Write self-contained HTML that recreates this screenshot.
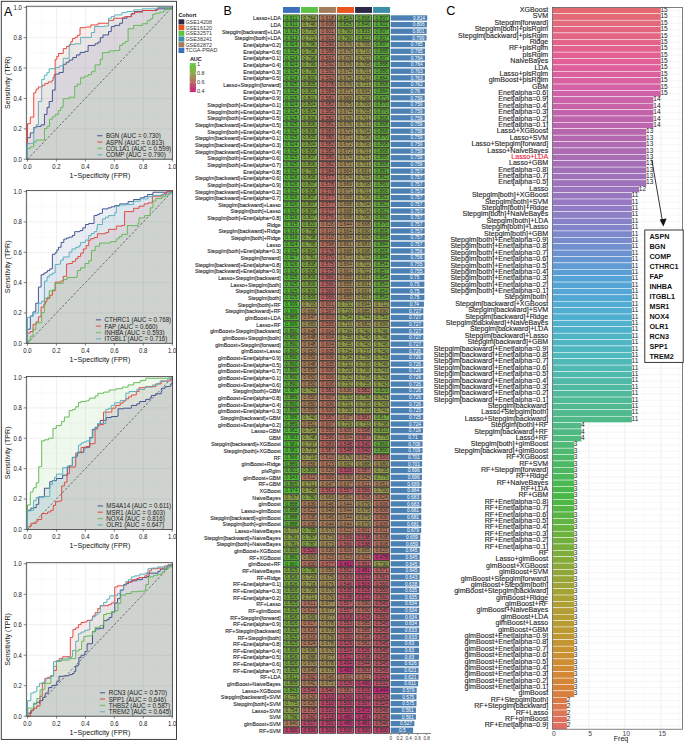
<!DOCTYPE html>
<html><head><meta charset="utf-8"><style>
html,body{margin:0;padding:0;background:#fff;}
svg{display:block;font-family:"Liberation Sans",sans-serif;}
</style></head><body>
<svg width="685" height="744" viewBox="0 0 685 744">
<rect width="685" height="744" fill="#fff"/>
<rect x="1.3" y="1.3" width="175.2" height="738.1" fill="none" stroke="#2b2b2b" stroke-width="0.9"/>
<text x="3.90" y="15.50" font-size="12.4" text-anchor="start" fill="#000" >A</text>
<rect x="26.3" y="6.2" width="146.30" height="153.00" fill="#fff"/>
<line x1="41.97" y1="6.2" x2="41.97" y2="159.2" stroke="#f3f3f3" stroke-width="0.4"/>
<line x1="26.3" y1="144.01" x2="172.6" y2="144.01" stroke="#f3f3f3" stroke-width="0.4"/>
<line x1="70.91" y1="6.2" x2="70.91" y2="159.2" stroke="#f3f3f3" stroke-width="0.4"/>
<line x1="26.3" y1="113.63" x2="172.6" y2="113.63" stroke="#f3f3f3" stroke-width="0.4"/>
<line x1="99.85" y1="6.2" x2="99.85" y2="159.2" stroke="#f3f3f3" stroke-width="0.4"/>
<line x1="26.3" y1="83.25" x2="172.6" y2="83.25" stroke="#f3f3f3" stroke-width="0.4"/>
<line x1="128.79" y1="6.2" x2="128.79" y2="159.2" stroke="#f3f3f3" stroke-width="0.4"/>
<line x1="26.3" y1="52.87" x2="172.6" y2="52.87" stroke="#f3f3f3" stroke-width="0.4"/>
<line x1="157.73" y1="6.2" x2="157.73" y2="159.2" stroke="#f3f3f3" stroke-width="0.4"/>
<line x1="26.3" y1="22.49" x2="172.6" y2="22.49" stroke="#f3f3f3" stroke-width="0.4"/>
<line x1="27.50" y1="6.2" x2="27.50" y2="159.2" stroke="#e6e6e6" stroke-width="0.6"/>
<line x1="26.3" y1="159.20" x2="172.6" y2="159.20" stroke="#e6e6e6" stroke-width="0.6"/>
<line x1="56.44" y1="6.2" x2="56.44" y2="159.2" stroke="#e6e6e6" stroke-width="0.6"/>
<line x1="26.3" y1="128.82" x2="172.6" y2="128.82" stroke="#e6e6e6" stroke-width="0.6"/>
<line x1="85.38" y1="6.2" x2="85.38" y2="159.2" stroke="#e6e6e6" stroke-width="0.6"/>
<line x1="26.3" y1="98.44" x2="172.6" y2="98.44" stroke="#e6e6e6" stroke-width="0.6"/>
<line x1="114.32" y1="6.2" x2="114.32" y2="159.2" stroke="#e6e6e6" stroke-width="0.6"/>
<line x1="26.3" y1="68.06" x2="172.6" y2="68.06" stroke="#e6e6e6" stroke-width="0.6"/>
<line x1="143.26" y1="6.2" x2="143.26" y2="159.2" stroke="#e6e6e6" stroke-width="0.6"/>
<line x1="26.3" y1="37.68" x2="172.6" y2="37.68" stroke="#e6e6e6" stroke-width="0.6"/>
<line x1="172.20" y1="6.2" x2="172.20" y2="159.2" stroke="#e6e6e6" stroke-width="0.6"/>
<line x1="26.3" y1="7.30" x2="172.6" y2="7.30" stroke="#e6e6e6" stroke-width="0.6"/>
<path d="M27.50,159.20 L27.50,159.20 L27.50,137.63 L30.32,137.63 L30.32,137.63 L30.32,137.63 L30.32,132.92 L33.72,132.92 L33.72,132.92 L33.72,132.92 L33.72,127.45 L36.18,127.45 L36.18,126.39 L38.42,126.39 L38.42,126.39 L41.10,126.39 L41.10,124.87 L44.43,124.87 L44.43,124.87 L44.43,124.87 L44.43,114.39 L47.03,114.39 L47.03,114.39 L47.03,114.39 L47.03,107.46 L49.20,107.46 L49.20,107.46 L49.20,107.46 L49.20,101.48 L52.39,101.48 L52.39,101.48 L52.39,101.48 L52.39,90.09 L55.14,90.09 L55.14,90.09 L55.14,90.09 L55.14,74.06 L59.19,74.06 L59.19,72.43 L63.24,72.43 L63.24,70.79 L63.24,70.79 L63.24,64.26 L66.21,64.26 L66.21,62.14 L69.17,62.14 L69.17,60.01 L72.79,60.01 L72.79,57.48 L76.41,57.48 L76.41,54.95 L80.03,54.95 L80.03,52.41 L84.95,52.41 L84.95,51.35 L88.13,51.35 L88.13,49.22 L88.13,49.22 L88.13,45.43 L95.07,45.43 L95.07,43.76 L97.97,43.76 L97.97,42.09 L100.28,42.09 L100.28,42.09 L100.28,42.09 L100.28,37.68 L103.03,37.68 L103.03,34.95 L108.53,34.95 L108.53,34.95 L108.53,34.95 L108.53,31.60 L111.28,31.60 L111.28,31.60 L111.28,31.60 L111.28,26.59 L114.75,26.59 L114.75,25.38 L119.67,25.38 L119.67,23.25 L122.42,23.25 L122.42,23.25 L122.42,23.25 L122.42,18.24 L126.91,18.24 L126.91,16.57 L131.25,16.57 L131.25,13.83 L134.58,13.83 L134.58,11.55 L142.39,11.55 L142.39,10.49 L156.86,10.49 L156.86,8.82 L172.20,8.82 L172.20,7.30 L172.20,159.20 Z" fill="#3b4f8f" fill-opacity="0.1" stroke="none"/>
<path d="M27.50,159.20 L27.50,159.20 L27.50,123.66 L30.32,123.66 L30.32,123.66 L30.32,123.66 L30.32,117.12 L33.72,117.12 L33.72,117.12 L33.72,117.12 L33.72,92.82 L35.75,92.82 L35.75,91.15 L36.18,91.15 L36.18,89.02 L38.42,89.02 L38.42,86.90 L40.52,86.90 L40.52,86.90 L42.26,86.90 L42.26,85.22 L44.86,85.22 L44.86,83.55 L48.19,83.55 L48.19,81.88 L51.95,81.88 L51.95,80.52 L53.02,80.52 L53.02,77.63 L54.08,77.63 L54.08,74.74 L55.14,74.74 L55.14,71.86 L55.14,71.86 L55.14,59.40 L56.77,59.40 L56.77,56.44 L58.41,56.44 L58.41,53.48 L63.24,53.48 L63.24,48.62 L66.51,48.62 L66.51,46.49 L69.17,46.49 L69.17,44.90 L70.81,44.90 L70.81,41.67 L72.44,41.67 L72.44,38.44 L75.11,38.44 L75.11,37.38 L77.28,37.38 L77.28,35.25 L80.03,35.25 L80.03,27.65 L85.38,27.65 L85.38,27.05 L90.82,27.05 L90.82,24.92 L97.97,24.92 L97.97,23.25 L108.53,23.25 L108.53,20.36 L113.60,20.36 L113.60,18.24 L122.42,18.24 L122.42,17.63 L124.59,17.63 L124.59,16.57 L131.25,16.57 L131.25,13.83 L134.58,13.83 L134.58,12.16 L142.39,12.16 L142.39,10.49 L155.70,10.49 L155.70,9.27 L158.45,9.27 L158.45,7.60 L172.20,7.60 L172.20,7.30 L172.20,159.20 Z" fill="#e2443a" fill-opacity="0.1" stroke="none"/>
<path d="M27.50,159.20 L27.50,159.20 L27.50,148.42 L30.32,148.42 L30.32,146.90 L33.72,146.90 L33.72,146.90 L33.72,146.90 L33.72,142.04 L36.18,142.04 L36.18,140.06 L44.43,140.06 L44.43,140.06 L44.43,140.06 L44.43,128.52 L47.03,128.52 L47.03,126.39 L49.49,126.39 L49.49,126.39 L49.49,126.39 L49.49,119.25 L52.32,119.25 L52.32,116.82 L55.14,116.82 L55.14,114.39 L58.32,114.39 L58.32,110.59 L60.78,110.59 L60.78,107.25 L63.24,107.25 L63.24,103.91 L63.24,103.91 L63.24,98.74 L69.17,98.74 L69.17,97.22 L74.67,97.22 L74.67,95.40 L74.67,95.40 L74.67,86.29 L77.28,86.29 L77.28,84.16 L80.60,84.16 L80.60,81.58 L80.60,81.58 L80.60,77.78 L84.37,77.78 L84.37,76.19 L88.13,76.19 L88.13,74.59 L91.60,74.59 L91.60,71.63 L95.07,71.63 L95.07,68.67 L95.07,68.67 L95.07,64.87 L100.28,64.87 L100.28,64.26 L100.28,64.26 L100.28,59.25 L102.45,59.25 L102.45,59.25 L102.45,59.25 L102.45,52.57 L109.11,52.57 L109.11,50.90 L114.75,50.90 L114.75,50.44 L119.67,50.44 L119.67,50.44 L119.67,50.44 L119.67,45.43 L122.42,45.43 L122.42,43.45 L125.17,43.45 L125.17,41.48 L128.07,41.48 L128.07,41.48 L128.07,41.48 L128.07,28.72 L133.57,28.72 L133.57,28.72 L133.57,28.72 L133.57,25.38 L142.39,25.38 L142.39,23.71 L147.31,23.71 L147.31,23.71 L147.31,23.71 L147.31,20.36 L150.50,20.36 L150.50,18.69 L152.67,18.69 L152.67,18.69 L152.67,18.69 L152.67,14.29 L155.41,14.29 L155.41,13.22 L159.76,13.22 L159.76,12.16 L163.95,12.16 L163.95,9.88 L167.28,9.88 L167.28,8.82 L172.20,8.82 L172.20,7.30 L172.20,159.20 Z" fill="#62b853" fill-opacity="0.1" stroke="none"/>
<path d="M27.50,159.20 L27.50,159.20 L27.50,143.55 L30.50,143.55 L30.50,143.25 L33.74,143.25 L33.74,143.25 L33.74,143.25 L33.74,127.91 L36.18,127.91 L36.18,124.87 L38.42,124.87 L38.42,124.87 L38.42,124.87 L38.42,101.48 L41.67,101.48 L41.67,101.48 L41.67,101.48 L41.67,79.45 L44.33,79.45 L44.33,75.20 L47.03,75.20 L47.03,72.47 L49.20,72.47 L49.20,68.67 L55.14,68.67 L55.14,67.60 L59.19,67.60 L59.19,65.93 L63.24,65.93 L63.24,64.26 L63.24,64.26 L63.24,58.34 L69.17,58.34 L69.17,58.34 L69.17,58.34 L69.17,44.36 L75.11,44.36 L75.11,43.76 L80.60,43.76 L80.60,42.69 L80.60,42.69 L80.60,37.38 L91.36,37.38 L91.36,37.38 L91.36,37.38 L91.36,32.52 L94.60,32.52 L94.60,32.52 L94.60,32.52 L94.60,26.59 L104.63,26.59 L104.63,25.98 L108.53,25.98 L108.53,25.98 L108.53,25.98 L108.53,18.24 L111.28,18.24 L111.28,16.57 L114.75,16.57 L114.75,14.90 L121.84,14.90 L121.84,14.90 L121.84,14.90 L121.84,12.62 L126.91,12.62 L126.91,11.55 L133.57,11.55 L133.57,11.55 L133.57,11.55 L133.57,9.88 L142.39,9.88 L142.39,8.82 L157.73,8.82 L157.73,7.60 L172.20,7.60 L172.20,7.30 L172.20,159.20 Z" fill="#5aaeb9" fill-opacity="0.1" stroke="none"/>
<line x1="27.50" y1="159.20" x2="172.20" y2="7.30" stroke="#4a4a4a" stroke-width="0.75" stroke-dasharray="2.4,1.8"/>
<path d="M27.50,159.20 L27.50,159.20 L27.50,137.63 L30.32,137.63 L30.32,137.63 L30.32,137.63 L30.32,132.92 L33.72,132.92 L33.72,132.92 L33.72,132.92 L33.72,127.45 L36.18,127.45 L36.18,126.39 L38.42,126.39 L38.42,126.39 L41.10,126.39 L41.10,124.87 L44.43,124.87 L44.43,124.87 L44.43,124.87 L44.43,114.39 L47.03,114.39 L47.03,114.39 L47.03,114.39 L47.03,107.46 L49.20,107.46 L49.20,107.46 L49.20,107.46 L49.20,101.48 L52.39,101.48 L52.39,101.48 L52.39,101.48 L52.39,90.09 L55.14,90.09 L55.14,90.09 L55.14,90.09 L55.14,74.06 L59.19,74.06 L59.19,72.43 L63.24,72.43 L63.24,70.79 L63.24,70.79 L63.24,64.26 L66.21,64.26 L66.21,62.14 L69.17,62.14 L69.17,60.01 L72.79,60.01 L72.79,57.48 L76.41,57.48 L76.41,54.95 L80.03,54.95 L80.03,52.41 L84.95,52.41 L84.95,51.35 L88.13,51.35 L88.13,49.22 L88.13,49.22 L88.13,45.43 L95.07,45.43 L95.07,43.76 L97.97,43.76 L97.97,42.09 L100.28,42.09 L100.28,42.09 L100.28,42.09 L100.28,37.68 L103.03,37.68 L103.03,34.95 L108.53,34.95 L108.53,34.95 L108.53,34.95 L108.53,31.60 L111.28,31.60 L111.28,31.60 L111.28,31.60 L111.28,26.59 L114.75,26.59 L114.75,25.38 L119.67,25.38 L119.67,23.25 L122.42,23.25 L122.42,23.25 L122.42,23.25 L122.42,18.24 L126.91,18.24 L126.91,16.57 L131.25,16.57 L131.25,13.83 L134.58,13.83 L134.58,11.55 L142.39,11.55 L142.39,10.49 L156.86,10.49 L156.86,8.82 L172.20,8.82 L172.20,7.30" fill="none" stroke="#3b4f8f" stroke-width="0.95"/>
<path d="M27.50,159.20 L27.50,159.20 L27.50,123.66 L30.32,123.66 L30.32,123.66 L30.32,123.66 L30.32,117.12 L33.72,117.12 L33.72,117.12 L33.72,117.12 L33.72,92.82 L35.75,92.82 L35.75,91.15 L36.18,91.15 L36.18,89.02 L38.42,89.02 L38.42,86.90 L40.52,86.90 L40.52,86.90 L42.26,86.90 L42.26,85.22 L44.86,85.22 L44.86,83.55 L48.19,83.55 L48.19,81.88 L51.95,81.88 L51.95,80.52 L53.02,80.52 L53.02,77.63 L54.08,77.63 L54.08,74.74 L55.14,74.74 L55.14,71.86 L55.14,71.86 L55.14,59.40 L56.77,59.40 L56.77,56.44 L58.41,56.44 L58.41,53.48 L63.24,53.48 L63.24,48.62 L66.51,48.62 L66.51,46.49 L69.17,46.49 L69.17,44.90 L70.81,44.90 L70.81,41.67 L72.44,41.67 L72.44,38.44 L75.11,38.44 L75.11,37.38 L77.28,37.38 L77.28,35.25 L80.03,35.25 L80.03,27.65 L85.38,27.65 L85.38,27.05 L90.82,27.05 L90.82,24.92 L97.97,24.92 L97.97,23.25 L108.53,23.25 L108.53,20.36 L113.60,20.36 L113.60,18.24 L122.42,18.24 L122.42,17.63 L124.59,17.63 L124.59,16.57 L131.25,16.57 L131.25,13.83 L134.58,13.83 L134.58,12.16 L142.39,12.16 L142.39,10.49 L155.70,10.49 L155.70,9.27 L158.45,9.27 L158.45,7.60 L172.20,7.60 L172.20,7.30" fill="none" stroke="#e2443a" stroke-width="0.95"/>
<path d="M27.50,159.20 L27.50,159.20 L27.50,148.42 L30.32,148.42 L30.32,146.90 L33.72,146.90 L33.72,146.90 L33.72,146.90 L33.72,142.04 L36.18,142.04 L36.18,140.06 L44.43,140.06 L44.43,140.06 L44.43,140.06 L44.43,128.52 L47.03,128.52 L47.03,126.39 L49.49,126.39 L49.49,126.39 L49.49,126.39 L49.49,119.25 L52.32,119.25 L52.32,116.82 L55.14,116.82 L55.14,114.39 L58.32,114.39 L58.32,110.59 L60.78,110.59 L60.78,107.25 L63.24,107.25 L63.24,103.91 L63.24,103.91 L63.24,98.74 L69.17,98.74 L69.17,97.22 L74.67,97.22 L74.67,95.40 L74.67,95.40 L74.67,86.29 L77.28,86.29 L77.28,84.16 L80.60,84.16 L80.60,81.58 L80.60,81.58 L80.60,77.78 L84.37,77.78 L84.37,76.19 L88.13,76.19 L88.13,74.59 L91.60,74.59 L91.60,71.63 L95.07,71.63 L95.07,68.67 L95.07,68.67 L95.07,64.87 L100.28,64.87 L100.28,64.26 L100.28,64.26 L100.28,59.25 L102.45,59.25 L102.45,59.25 L102.45,59.25 L102.45,52.57 L109.11,52.57 L109.11,50.90 L114.75,50.90 L114.75,50.44 L119.67,50.44 L119.67,50.44 L119.67,50.44 L119.67,45.43 L122.42,45.43 L122.42,43.45 L125.17,43.45 L125.17,41.48 L128.07,41.48 L128.07,41.48 L128.07,41.48 L128.07,28.72 L133.57,28.72 L133.57,28.72 L133.57,28.72 L133.57,25.38 L142.39,25.38 L142.39,23.71 L147.31,23.71 L147.31,23.71 L147.31,23.71 L147.31,20.36 L150.50,20.36 L150.50,18.69 L152.67,18.69 L152.67,18.69 L152.67,18.69 L152.67,14.29 L155.41,14.29 L155.41,13.22 L159.76,13.22 L159.76,12.16 L163.95,12.16 L163.95,9.88 L167.28,9.88 L167.28,8.82 L172.20,8.82 L172.20,7.30" fill="none" stroke="#62b853" stroke-width="0.95"/>
<path d="M27.50,159.20 L27.50,159.20 L27.50,143.55 L30.50,143.55 L30.50,143.25 L33.74,143.25 L33.74,143.25 L33.74,143.25 L33.74,127.91 L36.18,127.91 L36.18,124.87 L38.42,124.87 L38.42,124.87 L38.42,124.87 L38.42,101.48 L41.67,101.48 L41.67,101.48 L41.67,101.48 L41.67,79.45 L44.33,79.45 L44.33,75.20 L47.03,75.20 L47.03,72.47 L49.20,72.47 L49.20,68.67 L55.14,68.67 L55.14,67.60 L59.19,67.60 L59.19,65.93 L63.24,65.93 L63.24,64.26 L63.24,64.26 L63.24,58.34 L69.17,58.34 L69.17,58.34 L69.17,58.34 L69.17,44.36 L75.11,44.36 L75.11,43.76 L80.60,43.76 L80.60,42.69 L80.60,42.69 L80.60,37.38 L91.36,37.38 L91.36,37.38 L91.36,37.38 L91.36,32.52 L94.60,32.52 L94.60,32.52 L94.60,32.52 L94.60,26.59 L104.63,26.59 L104.63,25.98 L108.53,25.98 L108.53,25.98 L108.53,25.98 L108.53,18.24 L111.28,18.24 L111.28,16.57 L114.75,16.57 L114.75,14.90 L121.84,14.90 L121.84,14.90 L121.84,14.90 L121.84,12.62 L126.91,12.62 L126.91,11.55 L133.57,11.55 L133.57,11.55 L133.57,11.55 L133.57,9.88 L142.39,9.88 L142.39,8.82 L157.73,8.82 L157.73,7.60 L172.20,7.60 L172.20,7.30" fill="none" stroke="#5aaeb9" stroke-width="0.95"/>
<rect x="26.3" y="6.2" width="146.30" height="153.00" fill="none" stroke="#3a3a3a" stroke-width="0.8"/>
<line x1="23.70" y1="159.20" x2="26.3" y2="159.20" stroke="#333" stroke-width="0.6"/>
<text x="0" y="2.13" font-size="6.0" text-anchor="end" fill="#1a1a1a" transform="translate(21.90,159.20) scale(1,1.15)" >0.0</text>
<line x1="27.50" y1="159.2" x2="27.50" y2="161.60" stroke="#333" stroke-width="0.6"/>
<text x="0" y="2.13" font-size="6.0" text-anchor="middle" fill="#1a1a1a" transform="translate(27.50,166.80) scale(1,1.15)" >0.0</text>
<line x1="23.70" y1="128.82" x2="26.3" y2="128.82" stroke="#333" stroke-width="0.6"/>
<text x="0" y="2.13" font-size="6.0" text-anchor="end" fill="#1a1a1a" transform="translate(21.90,128.82) scale(1,1.15)" >0.2</text>
<line x1="56.44" y1="159.2" x2="56.44" y2="161.60" stroke="#333" stroke-width="0.6"/>
<text x="0" y="2.13" font-size="6.0" text-anchor="middle" fill="#1a1a1a" transform="translate(56.44,166.80) scale(1,1.15)" >0.2</text>
<line x1="23.70" y1="98.44" x2="26.3" y2="98.44" stroke="#333" stroke-width="0.6"/>
<text x="0" y="2.13" font-size="6.0" text-anchor="end" fill="#1a1a1a" transform="translate(21.90,98.44) scale(1,1.15)" >0.4</text>
<line x1="85.38" y1="159.2" x2="85.38" y2="161.60" stroke="#333" stroke-width="0.6"/>
<text x="0" y="2.13" font-size="6.0" text-anchor="middle" fill="#1a1a1a" transform="translate(85.38,166.80) scale(1,1.15)" >0.4</text>
<line x1="23.70" y1="68.06" x2="26.3" y2="68.06" stroke="#333" stroke-width="0.6"/>
<text x="0" y="2.13" font-size="6.0" text-anchor="end" fill="#1a1a1a" transform="translate(21.90,68.06) scale(1,1.15)" >0.6</text>
<line x1="114.32" y1="159.2" x2="114.32" y2="161.60" stroke="#333" stroke-width="0.6"/>
<text x="0" y="2.13" font-size="6.0" text-anchor="middle" fill="#1a1a1a" transform="translate(114.32,166.80) scale(1,1.15)" >0.6</text>
<line x1="23.70" y1="37.68" x2="26.3" y2="37.68" stroke="#333" stroke-width="0.6"/>
<text x="0" y="2.13" font-size="6.0" text-anchor="end" fill="#1a1a1a" transform="translate(21.90,37.68) scale(1,1.15)" >0.8</text>
<line x1="143.26" y1="159.2" x2="143.26" y2="161.60" stroke="#333" stroke-width="0.6"/>
<text x="0" y="2.13" font-size="6.0" text-anchor="middle" fill="#1a1a1a" transform="translate(143.26,166.80) scale(1,1.15)" >0.8</text>
<line x1="23.70" y1="7.30" x2="26.3" y2="7.30" stroke="#333" stroke-width="0.6"/>
<text x="0" y="2.13" font-size="6.0" text-anchor="end" fill="#1a1a1a" transform="translate(21.90,7.30) scale(1,1.15)" >1.0</text>
<line x1="172.20" y1="159.2" x2="172.20" y2="161.60" stroke="#333" stroke-width="0.6"/>
<text x="0" y="2.13" font-size="6.0" text-anchor="middle" fill="#1a1a1a" transform="translate(172.20,166.80) scale(1,1.15)" >1.0</text>
<text x="0" y="2.52" font-size="7.1" text-anchor="middle" fill="#111" transform="translate(99.85,174.80) scale(1,1.12)" >1−Specificity (FPR)</text>
<text x="0" y="0" font-size="7.1" text-anchor="middle" fill="#111" transform="translate(10.02,82.70) rotate(-90)">Sensitivity (TPR)</text>
<line x1="97.20" y1="135.70" x2="102.40" y2="135.70" stroke="#3b4f8f" stroke-width="1.4" stroke-opacity="0.7"/>
<text x="0" y="2.20" font-size="6.2" text-anchor="start" fill="#222" transform="translate(105.90,135.70) scale(1,1.12)" >BGN (AUC = 0.730)</text>
<line x1="97.20" y1="142.05" x2="102.40" y2="142.05" stroke="#e2443a" stroke-width="1.4" stroke-opacity="0.7"/>
<text x="0" y="2.20" font-size="6.2" text-anchor="start" fill="#222" transform="translate(105.90,142.05) scale(1,1.12)" >ASPN (AUC = 0.813)</text>
<line x1="97.20" y1="148.40" x2="102.40" y2="148.40" stroke="#62b853" stroke-width="1.4" stroke-opacity="0.7"/>
<text x="0" y="2.20" font-size="6.2" text-anchor="start" fill="#222" transform="translate(105.90,148.40) scale(1,1.12)" >COL1A1 (AUC = 0.599)</text>
<line x1="97.20" y1="154.75" x2="102.40" y2="154.75" stroke="#5aaeb9" stroke-width="1.4" stroke-opacity="0.7"/>
<text x="0" y="2.20" font-size="6.2" text-anchor="start" fill="#222" transform="translate(105.90,154.75) scale(1,1.12)" >COMP (AUC = 0.790)</text>
<rect x="26.3" y="190.5" width="146.30" height="152.80" fill="#fff"/>
<line x1="41.97" y1="190.5" x2="41.97" y2="343.3" stroke="#f3f3f3" stroke-width="0.4"/>
<line x1="26.3" y1="328.13" x2="172.6" y2="328.13" stroke="#f3f3f3" stroke-width="0.4"/>
<line x1="70.91" y1="190.5" x2="70.91" y2="343.3" stroke="#f3f3f3" stroke-width="0.4"/>
<line x1="26.3" y1="297.79" x2="172.6" y2="297.79" stroke="#f3f3f3" stroke-width="0.4"/>
<line x1="99.85" y1="190.5" x2="99.85" y2="343.3" stroke="#f3f3f3" stroke-width="0.4"/>
<line x1="26.3" y1="267.45" x2="172.6" y2="267.45" stroke="#f3f3f3" stroke-width="0.4"/>
<line x1="128.79" y1="190.5" x2="128.79" y2="343.3" stroke="#f3f3f3" stroke-width="0.4"/>
<line x1="26.3" y1="237.11" x2="172.6" y2="237.11" stroke="#f3f3f3" stroke-width="0.4"/>
<line x1="157.73" y1="190.5" x2="157.73" y2="343.3" stroke="#f3f3f3" stroke-width="0.4"/>
<line x1="26.3" y1="206.77" x2="172.6" y2="206.77" stroke="#f3f3f3" stroke-width="0.4"/>
<line x1="27.50" y1="190.5" x2="27.50" y2="343.3" stroke="#e6e6e6" stroke-width="0.6"/>
<line x1="26.3" y1="343.30" x2="172.6" y2="343.30" stroke="#e6e6e6" stroke-width="0.6"/>
<line x1="56.44" y1="190.5" x2="56.44" y2="343.3" stroke="#e6e6e6" stroke-width="0.6"/>
<line x1="26.3" y1="312.96" x2="172.6" y2="312.96" stroke="#e6e6e6" stroke-width="0.6"/>
<line x1="85.38" y1="190.5" x2="85.38" y2="343.3" stroke="#e6e6e6" stroke-width="0.6"/>
<line x1="26.3" y1="282.62" x2="172.6" y2="282.62" stroke="#e6e6e6" stroke-width="0.6"/>
<line x1="114.32" y1="190.5" x2="114.32" y2="343.3" stroke="#e6e6e6" stroke-width="0.6"/>
<line x1="26.3" y1="252.28" x2="172.6" y2="252.28" stroke="#e6e6e6" stroke-width="0.6"/>
<line x1="143.26" y1="190.5" x2="143.26" y2="343.3" stroke="#e6e6e6" stroke-width="0.6"/>
<line x1="26.3" y1="221.94" x2="172.6" y2="221.94" stroke="#e6e6e6" stroke-width="0.6"/>
<line x1="172.20" y1="190.5" x2="172.20" y2="343.3" stroke="#e6e6e6" stroke-width="0.6"/>
<line x1="26.3" y1="191.60" x2="172.6" y2="191.60" stroke="#e6e6e6" stroke-width="0.6"/>
<path d="M27.50,343.30 L27.50,343.30 L27.50,329.19 L30.32,329.19 L30.32,329.19 L30.32,329.19 L30.32,315.99 L33.00,315.99 L33.00,311.90 L35.75,311.90 L35.75,311.90 L35.75,311.90 L35.75,303.25 L38.42,303.25 L38.42,303.25 L38.42,303.25 L38.42,287.02 L41.10,287.02 L41.10,287.02 L41.10,287.02 L41.10,274.73 L43.85,274.73 L43.85,273.06 L46.02,273.06 L46.02,272.00 L47.61,272.00 L47.61,270.48 L49.78,270.48 L49.78,268.82 L52.39,268.82 L52.39,267.15 L52.39,267.15 L52.39,254.25 L55.14,254.25 L55.14,252.74 L56.77,252.74 L56.77,250.00 L58.41,250.00 L58.41,247.27 L61.11,247.27 L61.11,242.42 L63.82,242.42 L63.82,239.08 L66.57,239.08 L66.57,238.02 L69.17,238.02 L69.17,237.11 L72.36,237.11 L72.36,235.44 L74.67,235.44 L74.67,231.65 L80.03,231.65 L80.03,230.59 L82.78,230.59 L82.78,227.86 L85.38,227.86 L85.38,224.52 L88.71,224.52 L88.71,223.46 L94.06,223.46 L94.06,223.00 L94.06,223.00 L94.06,215.42 L97.39,215.42 L97.39,214.35 L99.56,214.35 L99.56,213.29 L102.45,213.29 L102.45,212.23 L102.45,212.23 L102.45,208.89 L107.95,208.89 L107.95,207.83 L111.28,207.83 L111.28,206.77 L114.75,206.77 L114.75,205.56 L119.67,205.56 L119.67,203.89 L128.07,203.89 L128.07,201.61 L133.57,201.61 L133.57,199.49 L140.22,199.49 L140.22,197.82 L144.13,197.82 L144.13,196.61 L147.46,196.61 L147.46,194.48 L152.95,194.48 L152.95,192.21 L166.85,192.21 L166.85,191.75 L172.20,191.75 L172.20,191.60 L172.20,343.30 Z" fill="#3b4f8f" fill-opacity="0.1" stroke="none"/>
<path d="M27.50,343.30 L27.50,343.30 L27.50,332.98 L30.32,332.98 L30.32,331.47 L33.00,331.47 L33.00,324.34 L36.18,324.34 L36.18,321.76 L38.42,321.76 L38.42,316.75 L41.10,316.75 L41.10,307.04 L43.85,307.04 L43.85,307.04 L43.85,307.04 L43.85,304.31 L45.44,304.31 L45.44,301.35 L47.03,301.35 L47.03,298.40 L49.78,298.40 L49.78,295.21 L52.39,295.21 L52.39,290.81 L55.14,290.81 L55.14,290.20 L55.14,290.20 L55.14,282.16 L60.49,282.16 L60.49,281.10 L63.24,281.10 L63.24,276.25 L66.57,276.25 L66.57,273.52 L66.57,273.52 L66.57,263.96 L69.17,263.96 L69.17,263.51 L72.36,263.51 L72.36,261.38 L75.69,261.38 L75.69,258.65 L77.86,258.65 L77.86,256.53 L80.60,256.53 L80.60,253.19 L83.35,253.19 L83.35,248.94 L86.10,248.94 L86.10,245.61 L88.71,245.61 L88.71,240.30 L90.73,240.30 L90.73,238.63 L94.06,238.63 L94.06,237.57 L97.39,237.57 L97.39,233.77 L105.20,233.77 L105.20,232.71 L108.53,232.71 L108.53,229.37 L116.35,229.37 L116.35,227.70 L116.35,227.70 L116.35,226.04 L121.84,226.04 L121.84,225.43 L124.59,225.43 L124.59,223.31 L124.59,223.31 L124.59,211.62 L133.57,211.62 L133.57,211.02 L133.57,211.02 L133.57,208.29 L139.06,208.29 L139.06,206.16 L144.13,206.16 L144.13,203.89 L148.04,203.89 L148.04,202.83 L152.38,202.83 L152.38,201.16 L152.38,201.16 L152.38,196.15 L161.20,196.15 L161.20,195.09 L164.02,195.09 L164.02,193.42 L166.85,193.42 L166.85,191.75 L172.20,191.75 L172.20,191.60 L172.20,343.30 Z" fill="#e2443a" fill-opacity="0.1" stroke="none"/>
<path d="M27.50,343.30 L28.22,343.30 L28.22,340.27 L30.32,340.27 L30.32,336.17 L33.00,336.17 L33.00,329.65 L35.75,329.65 L35.75,322.82 L41.67,322.82 L41.67,321.15 L41.67,321.15 L41.67,312.50 L44.43,312.50 L44.43,310.38 L44.43,310.38 L44.43,298.40 L47.03,298.40 L47.03,297.33 L49.20,297.33 L49.20,290.81 L52.39,290.81 L52.39,289.75 L55.14,289.75 L55.14,289.14 L55.14,289.14 L55.14,283.38 L63.24,283.38 L63.24,282.32 L63.24,282.32 L63.24,279.59 L67.00,279.59 L67.00,277.46 L76.84,277.46 L76.84,275.79 L77.28,275.79 L77.28,270.48 L80.60,270.48 L80.60,267.75 L84.95,267.75 L84.95,263.51 L88.71,263.51 L88.71,260.78 L91.46,260.78 L91.46,255.92 L91.46,255.92 L91.46,250.46 L95.22,250.46 L95.22,246.21 L99.56,246.21 L99.56,243.03 L110.27,243.03 L110.27,241.66 L116.35,241.66 L116.35,238.78 L119.10,238.78 L119.10,236.58 L121.84,236.58 L121.84,234.38 L127.34,234.38 L127.34,231.65 L127.34,231.65 L127.34,225.58 L137.91,225.58 L137.91,223.31 L139.06,223.31 L139.06,217.84 L144.56,217.84 L144.56,215.57 L150.21,215.57 L150.21,213.29 L150.21,213.29 L150.21,207.83 L152.95,207.83 L152.95,201.16 L155.85,201.16 L155.85,198.43 L161.78,198.43 L161.78,196.76 L165.40,196.76 L165.40,194.79 L169.02,194.79 L169.02,192.81 L172.20,192.81 L172.20,191.60 L172.20,343.30 Z" fill="#62b853" fill-opacity="0.1" stroke="none"/>
<path d="M27.50,343.30 L27.50,343.30 L27.50,317.36 L30.32,317.36 L30.32,316.30 L33.00,316.30 L33.00,312.96 L38.42,312.96 L38.42,312.50 L38.42,312.50 L38.42,303.25 L41.67,303.25 L41.67,301.13 L44.43,301.13 L44.43,301.13 L44.43,301.13 L44.43,281.10 L47.03,281.10 L47.03,279.89 L47.03,279.89 L47.03,276.86 L49.20,276.86 L49.20,274.73 L52.39,274.73 L52.39,273.06 L55.14,273.06 L55.14,272.00 L55.14,272.00 L55.14,264.57 L58.41,264.57 L58.41,264.11 L60.56,264.11 L60.56,260.20 L63.24,260.20 L63.24,256.98 L69.17,256.98 L69.17,255.31 L69.17,255.31 L69.17,252.13 L71.92,252.13 L71.92,248.94 L75.69,248.94 L75.69,247.27 L79.01,247.27 L79.01,245.61 L80.60,245.61 L80.60,242.42 L85.38,242.42 L85.38,240.14 L88.13,240.14 L88.13,239.08 L88.71,239.08 L88.71,235.44 L91.39,235.44 L91.39,233.55 L94.06,233.55 L94.06,231.65 L96.81,231.65 L96.81,228.31 L97.39,228.31 L97.39,224.52 L102.45,224.52 L102.45,223.31 L102.45,223.31 L102.45,218.91 L105.49,218.91 L105.49,217.24 L108.53,217.24 L108.53,215.57 L114.75,215.57 L114.75,212.84 L116.35,212.84 L116.35,212.23 L116.35,212.23 L116.35,206.16 L119.67,206.16 L119.67,204.95 L125.90,204.95 L125.90,204.49 L133.57,204.49 L133.57,203.89 L133.57,203.89 L133.57,201.16 L140.22,201.16 L140.22,198.88 L148.04,198.88 L148.04,196.61 L152.38,196.61 L152.38,195.54 L161.20,195.54 L161.20,194.48 L169.02,194.48 L169.02,192.81 L172.20,192.81 L172.20,191.60 L172.20,343.30 Z" fill="#5aaeb9" fill-opacity="0.1" stroke="none"/>
<line x1="27.50" y1="343.30" x2="172.20" y2="191.60" stroke="#4a4a4a" stroke-width="0.75" stroke-dasharray="2.4,1.8"/>
<path d="M27.50,343.30 L27.50,343.30 L27.50,329.19 L30.32,329.19 L30.32,329.19 L30.32,329.19 L30.32,315.99 L33.00,315.99 L33.00,311.90 L35.75,311.90 L35.75,311.90 L35.75,311.90 L35.75,303.25 L38.42,303.25 L38.42,303.25 L38.42,303.25 L38.42,287.02 L41.10,287.02 L41.10,287.02 L41.10,287.02 L41.10,274.73 L43.85,274.73 L43.85,273.06 L46.02,273.06 L46.02,272.00 L47.61,272.00 L47.61,270.48 L49.78,270.48 L49.78,268.82 L52.39,268.82 L52.39,267.15 L52.39,267.15 L52.39,254.25 L55.14,254.25 L55.14,252.74 L56.77,252.74 L56.77,250.00 L58.41,250.00 L58.41,247.27 L61.11,247.27 L61.11,242.42 L63.82,242.42 L63.82,239.08 L66.57,239.08 L66.57,238.02 L69.17,238.02 L69.17,237.11 L72.36,237.11 L72.36,235.44 L74.67,235.44 L74.67,231.65 L80.03,231.65 L80.03,230.59 L82.78,230.59 L82.78,227.86 L85.38,227.86 L85.38,224.52 L88.71,224.52 L88.71,223.46 L94.06,223.46 L94.06,223.00 L94.06,223.00 L94.06,215.42 L97.39,215.42 L97.39,214.35 L99.56,214.35 L99.56,213.29 L102.45,213.29 L102.45,212.23 L102.45,212.23 L102.45,208.89 L107.95,208.89 L107.95,207.83 L111.28,207.83 L111.28,206.77 L114.75,206.77 L114.75,205.56 L119.67,205.56 L119.67,203.89 L128.07,203.89 L128.07,201.61 L133.57,201.61 L133.57,199.49 L140.22,199.49 L140.22,197.82 L144.13,197.82 L144.13,196.61 L147.46,196.61 L147.46,194.48 L152.95,194.48 L152.95,192.21 L166.85,192.21 L166.85,191.75 L172.20,191.75 L172.20,191.60" fill="none" stroke="#3b4f8f" stroke-width="0.95"/>
<path d="M27.50,343.30 L27.50,343.30 L27.50,332.98 L30.32,332.98 L30.32,331.47 L33.00,331.47 L33.00,324.34 L36.18,324.34 L36.18,321.76 L38.42,321.76 L38.42,316.75 L41.10,316.75 L41.10,307.04 L43.85,307.04 L43.85,307.04 L43.85,307.04 L43.85,304.31 L45.44,304.31 L45.44,301.35 L47.03,301.35 L47.03,298.40 L49.78,298.40 L49.78,295.21 L52.39,295.21 L52.39,290.81 L55.14,290.81 L55.14,290.20 L55.14,290.20 L55.14,282.16 L60.49,282.16 L60.49,281.10 L63.24,281.10 L63.24,276.25 L66.57,276.25 L66.57,273.52 L66.57,273.52 L66.57,263.96 L69.17,263.96 L69.17,263.51 L72.36,263.51 L72.36,261.38 L75.69,261.38 L75.69,258.65 L77.86,258.65 L77.86,256.53 L80.60,256.53 L80.60,253.19 L83.35,253.19 L83.35,248.94 L86.10,248.94 L86.10,245.61 L88.71,245.61 L88.71,240.30 L90.73,240.30 L90.73,238.63 L94.06,238.63 L94.06,237.57 L97.39,237.57 L97.39,233.77 L105.20,233.77 L105.20,232.71 L108.53,232.71 L108.53,229.37 L116.35,229.37 L116.35,227.70 L116.35,227.70 L116.35,226.04 L121.84,226.04 L121.84,225.43 L124.59,225.43 L124.59,223.31 L124.59,223.31 L124.59,211.62 L133.57,211.62 L133.57,211.02 L133.57,211.02 L133.57,208.29 L139.06,208.29 L139.06,206.16 L144.13,206.16 L144.13,203.89 L148.04,203.89 L148.04,202.83 L152.38,202.83 L152.38,201.16 L152.38,201.16 L152.38,196.15 L161.20,196.15 L161.20,195.09 L164.02,195.09 L164.02,193.42 L166.85,193.42 L166.85,191.75 L172.20,191.75 L172.20,191.60" fill="none" stroke="#e2443a" stroke-width="0.95"/>
<path d="M27.50,343.30 L28.22,343.30 L28.22,340.27 L30.32,340.27 L30.32,336.17 L33.00,336.17 L33.00,329.65 L35.75,329.65 L35.75,322.82 L41.67,322.82 L41.67,321.15 L41.67,321.15 L41.67,312.50 L44.43,312.50 L44.43,310.38 L44.43,310.38 L44.43,298.40 L47.03,298.40 L47.03,297.33 L49.20,297.33 L49.20,290.81 L52.39,290.81 L52.39,289.75 L55.14,289.75 L55.14,289.14 L55.14,289.14 L55.14,283.38 L63.24,283.38 L63.24,282.32 L63.24,282.32 L63.24,279.59 L67.00,279.59 L67.00,277.46 L76.84,277.46 L76.84,275.79 L77.28,275.79 L77.28,270.48 L80.60,270.48 L80.60,267.75 L84.95,267.75 L84.95,263.51 L88.71,263.51 L88.71,260.78 L91.46,260.78 L91.46,255.92 L91.46,255.92 L91.46,250.46 L95.22,250.46 L95.22,246.21 L99.56,246.21 L99.56,243.03 L110.27,243.03 L110.27,241.66 L116.35,241.66 L116.35,238.78 L119.10,238.78 L119.10,236.58 L121.84,236.58 L121.84,234.38 L127.34,234.38 L127.34,231.65 L127.34,231.65 L127.34,225.58 L137.91,225.58 L137.91,223.31 L139.06,223.31 L139.06,217.84 L144.56,217.84 L144.56,215.57 L150.21,215.57 L150.21,213.29 L150.21,213.29 L150.21,207.83 L152.95,207.83 L152.95,201.16 L155.85,201.16 L155.85,198.43 L161.78,198.43 L161.78,196.76 L165.40,196.76 L165.40,194.79 L169.02,194.79 L169.02,192.81 L172.20,192.81 L172.20,191.60" fill="none" stroke="#62b853" stroke-width="0.95"/>
<path d="M27.50,343.30 L27.50,343.30 L27.50,317.36 L30.32,317.36 L30.32,316.30 L33.00,316.30 L33.00,312.96 L38.42,312.96 L38.42,312.50 L38.42,312.50 L38.42,303.25 L41.67,303.25 L41.67,301.13 L44.43,301.13 L44.43,301.13 L44.43,301.13 L44.43,281.10 L47.03,281.10 L47.03,279.89 L47.03,279.89 L47.03,276.86 L49.20,276.86 L49.20,274.73 L52.39,274.73 L52.39,273.06 L55.14,273.06 L55.14,272.00 L55.14,272.00 L55.14,264.57 L58.41,264.57 L58.41,264.11 L60.56,264.11 L60.56,260.20 L63.24,260.20 L63.24,256.98 L69.17,256.98 L69.17,255.31 L69.17,255.31 L69.17,252.13 L71.92,252.13 L71.92,248.94 L75.69,248.94 L75.69,247.27 L79.01,247.27 L79.01,245.61 L80.60,245.61 L80.60,242.42 L85.38,242.42 L85.38,240.14 L88.13,240.14 L88.13,239.08 L88.71,239.08 L88.71,235.44 L91.39,235.44 L91.39,233.55 L94.06,233.55 L94.06,231.65 L96.81,231.65 L96.81,228.31 L97.39,228.31 L97.39,224.52 L102.45,224.52 L102.45,223.31 L102.45,223.31 L102.45,218.91 L105.49,218.91 L105.49,217.24 L108.53,217.24 L108.53,215.57 L114.75,215.57 L114.75,212.84 L116.35,212.84 L116.35,212.23 L116.35,212.23 L116.35,206.16 L119.67,206.16 L119.67,204.95 L125.90,204.95 L125.90,204.49 L133.57,204.49 L133.57,203.89 L133.57,203.89 L133.57,201.16 L140.22,201.16 L140.22,198.88 L148.04,198.88 L148.04,196.61 L152.38,196.61 L152.38,195.54 L161.20,195.54 L161.20,194.48 L169.02,194.48 L169.02,192.81 L172.20,192.81 L172.20,191.60" fill="none" stroke="#5aaeb9" stroke-width="0.95"/>
<rect x="26.3" y="190.5" width="146.30" height="152.80" fill="none" stroke="#3a3a3a" stroke-width="0.8"/>
<line x1="23.70" y1="343.30" x2="26.3" y2="343.30" stroke="#333" stroke-width="0.6"/>
<text x="0" y="2.13" font-size="6.0" text-anchor="end" fill="#1a1a1a" transform="translate(21.90,343.30) scale(1,1.15)" >0.0</text>
<line x1="27.50" y1="343.3" x2="27.50" y2="345.70" stroke="#333" stroke-width="0.6"/>
<text x="0" y="2.13" font-size="6.0" text-anchor="middle" fill="#1a1a1a" transform="translate(27.50,350.90) scale(1,1.15)" >0.0</text>
<line x1="23.70" y1="312.96" x2="26.3" y2="312.96" stroke="#333" stroke-width="0.6"/>
<text x="0" y="2.13" font-size="6.0" text-anchor="end" fill="#1a1a1a" transform="translate(21.90,312.96) scale(1,1.15)" >0.2</text>
<line x1="56.44" y1="343.3" x2="56.44" y2="345.70" stroke="#333" stroke-width="0.6"/>
<text x="0" y="2.13" font-size="6.0" text-anchor="middle" fill="#1a1a1a" transform="translate(56.44,350.90) scale(1,1.15)" >0.2</text>
<line x1="23.70" y1="282.62" x2="26.3" y2="282.62" stroke="#333" stroke-width="0.6"/>
<text x="0" y="2.13" font-size="6.0" text-anchor="end" fill="#1a1a1a" transform="translate(21.90,282.62) scale(1,1.15)" >0.4</text>
<line x1="85.38" y1="343.3" x2="85.38" y2="345.70" stroke="#333" stroke-width="0.6"/>
<text x="0" y="2.13" font-size="6.0" text-anchor="middle" fill="#1a1a1a" transform="translate(85.38,350.90) scale(1,1.15)" >0.4</text>
<line x1="23.70" y1="252.28" x2="26.3" y2="252.28" stroke="#333" stroke-width="0.6"/>
<text x="0" y="2.13" font-size="6.0" text-anchor="end" fill="#1a1a1a" transform="translate(21.90,252.28) scale(1,1.15)" >0.6</text>
<line x1="114.32" y1="343.3" x2="114.32" y2="345.70" stroke="#333" stroke-width="0.6"/>
<text x="0" y="2.13" font-size="6.0" text-anchor="middle" fill="#1a1a1a" transform="translate(114.32,350.90) scale(1,1.15)" >0.6</text>
<line x1="23.70" y1="221.94" x2="26.3" y2="221.94" stroke="#333" stroke-width="0.6"/>
<text x="0" y="2.13" font-size="6.0" text-anchor="end" fill="#1a1a1a" transform="translate(21.90,221.94) scale(1,1.15)" >0.8</text>
<line x1="143.26" y1="343.3" x2="143.26" y2="345.70" stroke="#333" stroke-width="0.6"/>
<text x="0" y="2.13" font-size="6.0" text-anchor="middle" fill="#1a1a1a" transform="translate(143.26,350.90) scale(1,1.15)" >0.8</text>
<line x1="23.70" y1="191.60" x2="26.3" y2="191.60" stroke="#333" stroke-width="0.6"/>
<text x="0" y="2.13" font-size="6.0" text-anchor="end" fill="#1a1a1a" transform="translate(21.90,191.60) scale(1,1.15)" >1.0</text>
<line x1="172.20" y1="343.3" x2="172.20" y2="345.70" stroke="#333" stroke-width="0.6"/>
<text x="0" y="2.13" font-size="6.0" text-anchor="middle" fill="#1a1a1a" transform="translate(172.20,350.90) scale(1,1.15)" >1.0</text>
<text x="0" y="2.52" font-size="7.1" text-anchor="middle" fill="#111" transform="translate(99.85,358.90) scale(1,1.12)" >1−Specificity (FPR)</text>
<text x="0" y="0" font-size="7.1" text-anchor="middle" fill="#111" transform="translate(10.02,266.90) rotate(-90)">Sensitivity (TPR)</text>
<line x1="95.83" y1="319.80" x2="101.03" y2="319.80" stroke="#3b4f8f" stroke-width="1.4" stroke-opacity="0.7"/>
<text x="0" y="2.20" font-size="6.2" text-anchor="start" fill="#222" transform="translate(104.53,319.80) scale(1,1.12)" >CTHRC1 (AUC = 0.768)</text>
<line x1="95.83" y1="326.15" x2="101.03" y2="326.15" stroke="#e2443a" stroke-width="1.4" stroke-opacity="0.7"/>
<text x="0" y="2.20" font-size="6.2" text-anchor="start" fill="#222" transform="translate(104.53,326.15) scale(1,1.12)" >FAP (AUC = 0.660)</text>
<line x1="95.83" y1="332.50" x2="101.03" y2="332.50" stroke="#62b853" stroke-width="1.4" stroke-opacity="0.7"/>
<text x="0" y="2.20" font-size="6.2" text-anchor="start" fill="#222" transform="translate(104.53,332.50) scale(1,1.12)" >INHBA (AUC = 0.593)</text>
<line x1="95.83" y1="338.85" x2="101.03" y2="338.85" stroke="#5aaeb9" stroke-width="1.4" stroke-opacity="0.7"/>
<text x="0" y="2.20" font-size="6.2" text-anchor="start" fill="#222" transform="translate(104.53,338.85) scale(1,1.12)" >ITGBL1 (AUC = 0.716)</text>
<rect x="26.3" y="376.4" width="146.30" height="153.00" fill="#fff"/>
<line x1="41.97" y1="376.4" x2="41.97" y2="529.4" stroke="#f3f3f3" stroke-width="0.4"/>
<line x1="26.3" y1="514.21" x2="172.6" y2="514.21" stroke="#f3f3f3" stroke-width="0.4"/>
<line x1="70.91" y1="376.4" x2="70.91" y2="529.4" stroke="#f3f3f3" stroke-width="0.4"/>
<line x1="26.3" y1="483.83" x2="172.6" y2="483.83" stroke="#f3f3f3" stroke-width="0.4"/>
<line x1="99.85" y1="376.4" x2="99.85" y2="529.4" stroke="#f3f3f3" stroke-width="0.4"/>
<line x1="26.3" y1="453.45" x2="172.6" y2="453.45" stroke="#f3f3f3" stroke-width="0.4"/>
<line x1="128.79" y1="376.4" x2="128.79" y2="529.4" stroke="#f3f3f3" stroke-width="0.4"/>
<line x1="26.3" y1="423.07" x2="172.6" y2="423.07" stroke="#f3f3f3" stroke-width="0.4"/>
<line x1="157.73" y1="376.4" x2="157.73" y2="529.4" stroke="#f3f3f3" stroke-width="0.4"/>
<line x1="26.3" y1="392.69" x2="172.6" y2="392.69" stroke="#f3f3f3" stroke-width="0.4"/>
<line x1="27.50" y1="376.4" x2="27.50" y2="529.4" stroke="#e6e6e6" stroke-width="0.6"/>
<line x1="26.3" y1="529.40" x2="172.6" y2="529.40" stroke="#e6e6e6" stroke-width="0.6"/>
<line x1="56.44" y1="376.4" x2="56.44" y2="529.4" stroke="#e6e6e6" stroke-width="0.6"/>
<line x1="26.3" y1="499.02" x2="172.6" y2="499.02" stroke="#e6e6e6" stroke-width="0.6"/>
<line x1="85.38" y1="376.4" x2="85.38" y2="529.4" stroke="#e6e6e6" stroke-width="0.6"/>
<line x1="26.3" y1="468.64" x2="172.6" y2="468.64" stroke="#e6e6e6" stroke-width="0.6"/>
<line x1="114.32" y1="376.4" x2="114.32" y2="529.4" stroke="#e6e6e6" stroke-width="0.6"/>
<line x1="26.3" y1="438.26" x2="172.6" y2="438.26" stroke="#e6e6e6" stroke-width="0.6"/>
<line x1="143.26" y1="376.4" x2="143.26" y2="529.4" stroke="#e6e6e6" stroke-width="0.6"/>
<line x1="26.3" y1="407.88" x2="172.6" y2="407.88" stroke="#e6e6e6" stroke-width="0.6"/>
<line x1="172.20" y1="376.4" x2="172.20" y2="529.4" stroke="#e6e6e6" stroke-width="0.6"/>
<line x1="26.3" y1="377.50" x2="172.6" y2="377.50" stroke="#e6e6e6" stroke-width="0.6"/>
<path d="M27.50,529.40 L27.50,529.40 L27.50,510.26 L30.86,510.26 L30.86,508.13 L33.56,508.13 L33.56,507.68 L36.18,507.68 L36.18,504.34 L38.73,504.34 L38.73,504.34 L38.73,504.34 L38.73,496.89 L44.43,496.89 L44.43,496.44 L44.43,496.44 L44.43,488.24 L49.78,488.24 L49.78,488.24 L49.78,488.24 L49.78,481.70 L52.39,481.70 L52.39,480.64 L56.44,480.64 L56.44,478.51 L62.66,478.51 L62.66,477.91 L62.66,477.91 L62.66,475.17 L66.57,475.17 L66.57,475.17 L67.29,475.17 L67.29,467.12 L69.46,467.12 L69.46,465.60 L72.36,465.60 L72.36,464.39 L72.36,464.39 L72.36,457.40 L76.26,457.40 L76.26,456.34 L77.28,456.34 L77.28,452.23 L83.79,452.23 L83.79,452.23 L83.79,452.23 L83.79,447.83 L86.54,447.83 L86.54,447.22 L89.72,447.22 L89.72,446.16 L89.72,446.16 L89.72,437.50 L92.33,437.50 L92.33,437.04 L92.33,437.04 L92.33,429.45 L95.07,429.45 L95.07,427.32 L97.39,427.32 L97.39,426.87 L97.82,426.87 L97.82,423.68 L100.28,423.68 L100.28,420.34 L105.78,420.34 L105.78,420.03 L106.36,420.03 L106.36,417.60 L111.28,417.60 L111.28,416.54 L117.50,416.54 L117.50,415.93 L118.08,415.93 L118.08,408.79 L123.58,408.79 L123.58,408.18 L131.39,408.18 L131.39,407.58 L131.39,407.58 L131.39,405.45 L136.89,405.45 L136.89,403.78 L139.64,403.78 L139.64,401.50 L145.72,401.50 L145.72,399.37 L150.21,399.37 L150.21,397.70 L151.36,397.70 L151.36,395.42 L155.70,395.42 L155.70,393.75 L161.20,393.75 L161.20,391.47 L161.78,391.47 L161.78,388.28 L165.11,388.28 L165.11,386.61 L169.60,386.61 L169.60,386.01 L170.75,386.01 L170.75,383.88 L172.20,383.88 L172.20,382.06 L172.20,382.06 L172.20,377.50 L172.20,529.40 Z" fill="#3b4f8f" fill-opacity="0.1" stroke="none"/>
<path d="M27.50,529.40 L27.50,529.40 L27.50,526.67 L30.86,526.67 L30.86,523.32 L36.18,523.32 L36.18,521.20 L37.90,521.20 L37.90,519.53 L41.67,519.53 L41.67,518.92 L41.67,518.92 L41.67,513.60 L47.61,513.60 L47.61,511.93 L50.80,511.93 L50.80,510.26 L53.26,510.26 L53.26,505.40 L55.57,505.40 L55.57,501.60 L58.61,501.60 L58.61,500.99 L61.65,500.99 L61.65,499.48 L61.65,499.48 L61.65,485.96 L64.40,485.96 L64.40,482.16 L67.00,482.16 L67.00,480.03 L67.00,480.03 L67.00,473.65 L69.46,473.65 L69.46,467.12 L75.11,467.12 L75.11,466.06 L75.69,466.06 L75.69,453.15 L78.43,453.15 L78.43,452.69 L81.04,452.69 L81.04,447.53 L83.79,447.53 L83.79,447.07 L86.54,447.07 L86.54,446.46 L89.72,446.46 L89.72,443.73 L94.50,443.73 L94.50,443.27 L95.07,443.27 L95.07,429.15 L97.39,429.15 L97.39,428.54 L97.82,428.54 L97.82,425.20 L99.99,425.20 L99.99,424.59 L103.03,424.59 L103.03,424.29 L103.47,424.29 L103.47,412.13 L111.28,412.13 L111.28,412.13 L111.86,412.13 L111.86,408.18 L115.77,408.18 L115.77,405.45 L120.25,405.45 L120.25,403.17 L123.07,403.17 L123.07,400.97 L125.90,400.97 L125.90,398.77 L128.65,398.77 L128.65,396.87 L131.39,396.87 L131.39,394.97 L136.31,394.97 L136.31,391.47 L139.06,391.47 L139.06,387.68 L145.72,387.68 L145.72,386.61 L155.70,386.61 L155.70,383.88 L161.20,383.88 L161.20,380.99 L170.17,380.99 L170.17,379.32 L172.20,379.32 L172.20,377.50 L172.20,529.40 Z" fill="#e2443a" fill-opacity="0.1" stroke="none"/>
<path d="M27.50,529.40 L27.50,529.40 L27.50,504.94 L30.32,504.94 L30.32,504.94 L30.32,504.94 L30.32,492.03 L33.00,492.03 L33.00,488.69 L34.01,488.69 L34.01,487.63 L36.18,487.63 L36.18,482.77 L38.73,482.77 L38.73,482.77 L38.73,482.77 L38.73,466.67 L41.67,466.67 L41.67,465.60 L41.67,465.60 L41.67,440.84 L44.65,440.84 L44.65,439.78 L48.70,439.78 L48.70,438.26 L52.97,438.26 L52.97,436.59 L52.97,436.59 L52.97,428.39 L56.30,428.39 L56.30,425.65 L61.07,425.65 L61.07,424.59 L61.65,424.59 L61.65,421.40 L64.40,421.40 L64.40,421.40 L64.40,421.40 L64.40,416.99 L69.17,416.99 L69.17,416.54 L69.17,416.54 L69.17,410.61 L72.36,410.61 L72.36,409.55 L75.11,409.55 L75.11,408.49 L75.69,408.49 L75.69,406.82 L78.43,406.82 L78.43,406.82 L78.43,406.82 L78.43,402.56 L81.04,402.56 L81.04,401.50 L85.38,401.50 L85.38,400.89 L88.71,400.89 L88.71,399.83 L89.72,399.83 L89.72,398.16 L95.07,398.16 L95.07,396.03 L97.82,396.03 L97.82,393.30 L103.61,393.30 L103.61,392.08 L109.11,392.08 L109.11,389.96 L115.77,389.96 L115.77,388.74 L122.42,388.74 L122.42,387.07 L128.07,387.07 L128.07,384.94 L133.57,384.94 L133.57,382.66 L140.22,382.66 L140.22,380.54 L145.72,380.54 L145.72,378.26 L169.31,378.26 L169.31,377.80 L172.20,377.80 L172.20,377.50 L172.20,529.40 Z" fill="#62b853" fill-opacity="0.1" stroke="none"/>
<path d="M27.50,529.40 L27.50,529.40 L27.50,510.87 L30.86,510.87 L30.86,510.26 L33.56,510.26 L33.56,500.69 L36.18,500.69 L36.18,497.50 L38.73,497.50 L38.73,496.89 L44.43,496.89 L44.43,496.44 L49.78,496.44 L49.78,493.70 L49.78,493.70 L49.78,484.44 L52.39,484.44 L52.39,480.64 L54.41,480.64 L54.41,477.37 L56.44,477.37 L56.44,474.11 L62.66,474.11 L62.66,472.44 L62.66,472.44 L62.66,467.73 L67.29,467.73 L67.29,466.06 L69.46,466.06 L69.46,465.60 L72.36,465.60 L72.36,457.40 L75.97,457.40 L75.97,456.34 L76.41,456.34 L76.41,453.60 L78.43,453.60 L78.43,451.93 L78.43,451.93 L78.43,445.10 L81.04,445.10 L81.04,442.97 L83.79,442.97 L83.79,441.91 L86.54,441.91 L86.54,440.84 L89.72,440.84 L89.72,438.11 L92.90,438.11 L92.90,437.50 L92.90,437.50 L92.90,430.06 L95.07,430.06 L95.07,427.93 L97.39,427.93 L97.39,425.65 L97.82,425.65 L97.82,423.53 L103.03,423.53 L103.03,423.53 L105.78,423.53 L105.78,423.22 L105.78,423.22 L105.78,409.40 L108.53,409.40 L108.53,408.34 L111.28,408.34 L111.28,405.45 L114.75,405.45 L114.75,402.72 L120.25,402.72 L120.25,400.44 L125.32,400.44 L125.32,399.98 L125.90,399.98 L125.90,393.15 L129.08,393.15 L129.08,391.47 L136.89,391.47 L136.89,389.35 L144.71,389.35 L144.71,387.07 L152.38,387.07 L152.38,384.94 L158.02,384.94 L158.02,383.27 L160.19,383.27 L160.19,380.99 L167.86,380.99 L167.86,378.26 L172.20,378.26 L172.20,377.50 L172.20,529.40 Z" fill="#5aaeb9" fill-opacity="0.1" stroke="none"/>
<line x1="27.50" y1="529.40" x2="172.20" y2="377.50" stroke="#4a4a4a" stroke-width="0.75" stroke-dasharray="2.4,1.8"/>
<path d="M27.50,529.40 L27.50,529.40 L27.50,510.26 L30.86,510.26 L30.86,508.13 L33.56,508.13 L33.56,507.68 L36.18,507.68 L36.18,504.34 L38.73,504.34 L38.73,504.34 L38.73,504.34 L38.73,496.89 L44.43,496.89 L44.43,496.44 L44.43,496.44 L44.43,488.24 L49.78,488.24 L49.78,488.24 L49.78,488.24 L49.78,481.70 L52.39,481.70 L52.39,480.64 L56.44,480.64 L56.44,478.51 L62.66,478.51 L62.66,477.91 L62.66,477.91 L62.66,475.17 L66.57,475.17 L66.57,475.17 L67.29,475.17 L67.29,467.12 L69.46,467.12 L69.46,465.60 L72.36,465.60 L72.36,464.39 L72.36,464.39 L72.36,457.40 L76.26,457.40 L76.26,456.34 L77.28,456.34 L77.28,452.23 L83.79,452.23 L83.79,452.23 L83.79,452.23 L83.79,447.83 L86.54,447.83 L86.54,447.22 L89.72,447.22 L89.72,446.16 L89.72,446.16 L89.72,437.50 L92.33,437.50 L92.33,437.04 L92.33,437.04 L92.33,429.45 L95.07,429.45 L95.07,427.32 L97.39,427.32 L97.39,426.87 L97.82,426.87 L97.82,423.68 L100.28,423.68 L100.28,420.34 L105.78,420.34 L105.78,420.03 L106.36,420.03 L106.36,417.60 L111.28,417.60 L111.28,416.54 L117.50,416.54 L117.50,415.93 L118.08,415.93 L118.08,408.79 L123.58,408.79 L123.58,408.18 L131.39,408.18 L131.39,407.58 L131.39,407.58 L131.39,405.45 L136.89,405.45 L136.89,403.78 L139.64,403.78 L139.64,401.50 L145.72,401.50 L145.72,399.37 L150.21,399.37 L150.21,397.70 L151.36,397.70 L151.36,395.42 L155.70,395.42 L155.70,393.75 L161.20,393.75 L161.20,391.47 L161.78,391.47 L161.78,388.28 L165.11,388.28 L165.11,386.61 L169.60,386.61 L169.60,386.01 L170.75,386.01 L170.75,383.88 L172.20,383.88 L172.20,382.06 L172.20,382.06 L172.20,377.50" fill="none" stroke="#3b4f8f" stroke-width="0.95"/>
<path d="M27.50,529.40 L27.50,529.40 L27.50,526.67 L30.86,526.67 L30.86,523.32 L36.18,523.32 L36.18,521.20 L37.90,521.20 L37.90,519.53 L41.67,519.53 L41.67,518.92 L41.67,518.92 L41.67,513.60 L47.61,513.60 L47.61,511.93 L50.80,511.93 L50.80,510.26 L53.26,510.26 L53.26,505.40 L55.57,505.40 L55.57,501.60 L58.61,501.60 L58.61,500.99 L61.65,500.99 L61.65,499.48 L61.65,499.48 L61.65,485.96 L64.40,485.96 L64.40,482.16 L67.00,482.16 L67.00,480.03 L67.00,480.03 L67.00,473.65 L69.46,473.65 L69.46,467.12 L75.11,467.12 L75.11,466.06 L75.69,466.06 L75.69,453.15 L78.43,453.15 L78.43,452.69 L81.04,452.69 L81.04,447.53 L83.79,447.53 L83.79,447.07 L86.54,447.07 L86.54,446.46 L89.72,446.46 L89.72,443.73 L94.50,443.73 L94.50,443.27 L95.07,443.27 L95.07,429.15 L97.39,429.15 L97.39,428.54 L97.82,428.54 L97.82,425.20 L99.99,425.20 L99.99,424.59 L103.03,424.59 L103.03,424.29 L103.47,424.29 L103.47,412.13 L111.28,412.13 L111.28,412.13 L111.86,412.13 L111.86,408.18 L115.77,408.18 L115.77,405.45 L120.25,405.45 L120.25,403.17 L123.07,403.17 L123.07,400.97 L125.90,400.97 L125.90,398.77 L128.65,398.77 L128.65,396.87 L131.39,396.87 L131.39,394.97 L136.31,394.97 L136.31,391.47 L139.06,391.47 L139.06,387.68 L145.72,387.68 L145.72,386.61 L155.70,386.61 L155.70,383.88 L161.20,383.88 L161.20,380.99 L170.17,380.99 L170.17,379.32 L172.20,379.32 L172.20,377.50" fill="none" stroke="#e2443a" stroke-width="0.95"/>
<path d="M27.50,529.40 L27.50,529.40 L27.50,504.94 L30.32,504.94 L30.32,504.94 L30.32,504.94 L30.32,492.03 L33.00,492.03 L33.00,488.69 L34.01,488.69 L34.01,487.63 L36.18,487.63 L36.18,482.77 L38.73,482.77 L38.73,482.77 L38.73,482.77 L38.73,466.67 L41.67,466.67 L41.67,465.60 L41.67,465.60 L41.67,440.84 L44.65,440.84 L44.65,439.78 L48.70,439.78 L48.70,438.26 L52.97,438.26 L52.97,436.59 L52.97,436.59 L52.97,428.39 L56.30,428.39 L56.30,425.65 L61.07,425.65 L61.07,424.59 L61.65,424.59 L61.65,421.40 L64.40,421.40 L64.40,421.40 L64.40,421.40 L64.40,416.99 L69.17,416.99 L69.17,416.54 L69.17,416.54 L69.17,410.61 L72.36,410.61 L72.36,409.55 L75.11,409.55 L75.11,408.49 L75.69,408.49 L75.69,406.82 L78.43,406.82 L78.43,406.82 L78.43,406.82 L78.43,402.56 L81.04,402.56 L81.04,401.50 L85.38,401.50 L85.38,400.89 L88.71,400.89 L88.71,399.83 L89.72,399.83 L89.72,398.16 L95.07,398.16 L95.07,396.03 L97.82,396.03 L97.82,393.30 L103.61,393.30 L103.61,392.08 L109.11,392.08 L109.11,389.96 L115.77,389.96 L115.77,388.74 L122.42,388.74 L122.42,387.07 L128.07,387.07 L128.07,384.94 L133.57,384.94 L133.57,382.66 L140.22,382.66 L140.22,380.54 L145.72,380.54 L145.72,378.26 L169.31,378.26 L169.31,377.80 L172.20,377.80 L172.20,377.50" fill="none" stroke="#62b853" stroke-width="0.95"/>
<path d="M27.50,529.40 L27.50,529.40 L27.50,510.87 L30.86,510.87 L30.86,510.26 L33.56,510.26 L33.56,500.69 L36.18,500.69 L36.18,497.50 L38.73,497.50 L38.73,496.89 L44.43,496.89 L44.43,496.44 L49.78,496.44 L49.78,493.70 L49.78,493.70 L49.78,484.44 L52.39,484.44 L52.39,480.64 L54.41,480.64 L54.41,477.37 L56.44,477.37 L56.44,474.11 L62.66,474.11 L62.66,472.44 L62.66,472.44 L62.66,467.73 L67.29,467.73 L67.29,466.06 L69.46,466.06 L69.46,465.60 L72.36,465.60 L72.36,457.40 L75.97,457.40 L75.97,456.34 L76.41,456.34 L76.41,453.60 L78.43,453.60 L78.43,451.93 L78.43,451.93 L78.43,445.10 L81.04,445.10 L81.04,442.97 L83.79,442.97 L83.79,441.91 L86.54,441.91 L86.54,440.84 L89.72,440.84 L89.72,438.11 L92.90,438.11 L92.90,437.50 L92.90,437.50 L92.90,430.06 L95.07,430.06 L95.07,427.93 L97.39,427.93 L97.39,425.65 L97.82,425.65 L97.82,423.53 L103.03,423.53 L103.03,423.53 L105.78,423.53 L105.78,423.22 L105.78,423.22 L105.78,409.40 L108.53,409.40 L108.53,408.34 L111.28,408.34 L111.28,405.45 L114.75,405.45 L114.75,402.72 L120.25,402.72 L120.25,400.44 L125.32,400.44 L125.32,399.98 L125.90,399.98 L125.90,393.15 L129.08,393.15 L129.08,391.47 L136.89,391.47 L136.89,389.35 L144.71,389.35 L144.71,387.07 L152.38,387.07 L152.38,384.94 L158.02,384.94 L158.02,383.27 L160.19,383.27 L160.19,380.99 L167.86,380.99 L167.86,378.26 L172.20,378.26 L172.20,377.50" fill="none" stroke="#5aaeb9" stroke-width="0.95"/>
<rect x="26.3" y="376.4" width="146.30" height="153.00" fill="none" stroke="#3a3a3a" stroke-width="0.8"/>
<line x1="23.70" y1="529.40" x2="26.3" y2="529.40" stroke="#333" stroke-width="0.6"/>
<text x="0" y="2.13" font-size="6.0" text-anchor="end" fill="#1a1a1a" transform="translate(21.90,529.40) scale(1,1.15)" >0.0</text>
<line x1="27.50" y1="529.4" x2="27.50" y2="531.80" stroke="#333" stroke-width="0.6"/>
<text x="0" y="2.13" font-size="6.0" text-anchor="middle" fill="#1a1a1a" transform="translate(27.50,537.00) scale(1,1.15)" >0.0</text>
<line x1="23.70" y1="499.02" x2="26.3" y2="499.02" stroke="#333" stroke-width="0.6"/>
<text x="0" y="2.13" font-size="6.0" text-anchor="end" fill="#1a1a1a" transform="translate(21.90,499.02) scale(1,1.15)" >0.2</text>
<line x1="56.44" y1="529.4" x2="56.44" y2="531.80" stroke="#333" stroke-width="0.6"/>
<text x="0" y="2.13" font-size="6.0" text-anchor="middle" fill="#1a1a1a" transform="translate(56.44,537.00) scale(1,1.15)" >0.2</text>
<line x1="23.70" y1="468.64" x2="26.3" y2="468.64" stroke="#333" stroke-width="0.6"/>
<text x="0" y="2.13" font-size="6.0" text-anchor="end" fill="#1a1a1a" transform="translate(21.90,468.64) scale(1,1.15)" >0.4</text>
<line x1="85.38" y1="529.4" x2="85.38" y2="531.80" stroke="#333" stroke-width="0.6"/>
<text x="0" y="2.13" font-size="6.0" text-anchor="middle" fill="#1a1a1a" transform="translate(85.38,537.00) scale(1,1.15)" >0.4</text>
<line x1="23.70" y1="438.26" x2="26.3" y2="438.26" stroke="#333" stroke-width="0.6"/>
<text x="0" y="2.13" font-size="6.0" text-anchor="end" fill="#1a1a1a" transform="translate(21.90,438.26) scale(1,1.15)" >0.6</text>
<line x1="114.32" y1="529.4" x2="114.32" y2="531.80" stroke="#333" stroke-width="0.6"/>
<text x="0" y="2.13" font-size="6.0" text-anchor="middle" fill="#1a1a1a" transform="translate(114.32,537.00) scale(1,1.15)" >0.6</text>
<line x1="23.70" y1="407.88" x2="26.3" y2="407.88" stroke="#333" stroke-width="0.6"/>
<text x="0" y="2.13" font-size="6.0" text-anchor="end" fill="#1a1a1a" transform="translate(21.90,407.88) scale(1,1.15)" >0.8</text>
<line x1="143.26" y1="529.4" x2="143.26" y2="531.80" stroke="#333" stroke-width="0.6"/>
<text x="0" y="2.13" font-size="6.0" text-anchor="middle" fill="#1a1a1a" transform="translate(143.26,537.00) scale(1,1.15)" >0.8</text>
<line x1="23.70" y1="377.50" x2="26.3" y2="377.50" stroke="#333" stroke-width="0.6"/>
<text x="0" y="2.13" font-size="6.0" text-anchor="end" fill="#1a1a1a" transform="translate(21.90,377.50) scale(1,1.15)" >1.0</text>
<line x1="172.20" y1="529.4" x2="172.20" y2="531.80" stroke="#333" stroke-width="0.6"/>
<text x="0" y="2.13" font-size="6.0" text-anchor="middle" fill="#1a1a1a" transform="translate(172.20,537.00) scale(1,1.15)" >1.0</text>
<text x="0" y="2.52" font-size="7.1" text-anchor="middle" fill="#111" transform="translate(99.85,545.00) scale(1,1.12)" >1−Specificity (FPR)</text>
<text x="0" y="0" font-size="7.1" text-anchor="middle" fill="#111" transform="translate(10.02,452.90) rotate(-90)">Sensitivity (TPR)</text>
<line x1="97.66" y1="505.90" x2="102.86" y2="505.90" stroke="#3b4f8f" stroke-width="1.4" stroke-opacity="0.7"/>
<text x="0" y="2.20" font-size="6.2" text-anchor="start" fill="#222" transform="translate(106.36,505.90) scale(1,1.12)" >MS4A14 (AUC = 0.611)</text>
<line x1="97.66" y1="512.25" x2="102.86" y2="512.25" stroke="#e2443a" stroke-width="1.4" stroke-opacity="0.7"/>
<text x="0" y="2.20" font-size="6.2" text-anchor="start" fill="#222" transform="translate(106.36,512.25) scale(1,1.12)" >MSR1 (AUC = 0.603)</text>
<line x1="97.66" y1="518.60" x2="102.86" y2="518.60" stroke="#62b853" stroke-width="1.4" stroke-opacity="0.7"/>
<text x="0" y="2.20" font-size="6.2" text-anchor="start" fill="#222" transform="translate(106.36,518.60) scale(1,1.12)" >NOX4 (AUC = 0.816)</text>
<line x1="97.66" y1="524.95" x2="102.86" y2="524.95" stroke="#5aaeb9" stroke-width="1.4" stroke-opacity="0.7"/>
<text x="0" y="2.20" font-size="6.2" text-anchor="start" fill="#222" transform="translate(106.36,524.95) scale(1,1.12)" >OLR1 (AUC = 0.647)</text>
<rect x="26.3" y="562.7" width="146.30" height="153.50" fill="#fff"/>
<line x1="41.97" y1="562.7" x2="41.97" y2="716.2" stroke="#f3f3f3" stroke-width="0.4"/>
<line x1="26.3" y1="700.96" x2="172.6" y2="700.96" stroke="#f3f3f3" stroke-width="0.4"/>
<line x1="70.91" y1="562.7" x2="70.91" y2="716.2" stroke="#f3f3f3" stroke-width="0.4"/>
<line x1="26.3" y1="670.48" x2="172.6" y2="670.48" stroke="#f3f3f3" stroke-width="0.4"/>
<line x1="99.85" y1="562.7" x2="99.85" y2="716.2" stroke="#f3f3f3" stroke-width="0.4"/>
<line x1="26.3" y1="640.00" x2="172.6" y2="640.00" stroke="#f3f3f3" stroke-width="0.4"/>
<line x1="128.79" y1="562.7" x2="128.79" y2="716.2" stroke="#f3f3f3" stroke-width="0.4"/>
<line x1="26.3" y1="609.52" x2="172.6" y2="609.52" stroke="#f3f3f3" stroke-width="0.4"/>
<line x1="157.73" y1="562.7" x2="157.73" y2="716.2" stroke="#f3f3f3" stroke-width="0.4"/>
<line x1="26.3" y1="579.04" x2="172.6" y2="579.04" stroke="#f3f3f3" stroke-width="0.4"/>
<line x1="27.50" y1="562.7" x2="27.50" y2="716.2" stroke="#e6e6e6" stroke-width="0.6"/>
<line x1="26.3" y1="716.20" x2="172.6" y2="716.20" stroke="#e6e6e6" stroke-width="0.6"/>
<line x1="56.44" y1="562.7" x2="56.44" y2="716.2" stroke="#e6e6e6" stroke-width="0.6"/>
<line x1="26.3" y1="685.72" x2="172.6" y2="685.72" stroke="#e6e6e6" stroke-width="0.6"/>
<line x1="85.38" y1="562.7" x2="85.38" y2="716.2" stroke="#e6e6e6" stroke-width="0.6"/>
<line x1="26.3" y1="655.24" x2="172.6" y2="655.24" stroke="#e6e6e6" stroke-width="0.6"/>
<line x1="114.32" y1="562.7" x2="114.32" y2="716.2" stroke="#e6e6e6" stroke-width="0.6"/>
<line x1="26.3" y1="624.76" x2="172.6" y2="624.76" stroke="#e6e6e6" stroke-width="0.6"/>
<line x1="143.26" y1="562.7" x2="143.26" y2="716.2" stroke="#e6e6e6" stroke-width="0.6"/>
<line x1="26.3" y1="594.28" x2="172.6" y2="594.28" stroke="#e6e6e6" stroke-width="0.6"/>
<line x1="172.20" y1="562.7" x2="172.20" y2="716.2" stroke="#e6e6e6" stroke-width="0.6"/>
<line x1="26.3" y1="563.80" x2="172.6" y2="563.80" stroke="#e6e6e6" stroke-width="0.6"/>
<path d="M27.50,716.20 L27.50,716.20 L27.50,713.15 L30.86,713.15 L30.86,710.26 L33.56,710.26 L33.56,708.73 L33.56,708.73 L33.56,703.86 L36.54,703.86 L36.54,702.26 L39.51,702.26 L39.51,700.66 L41.97,700.66 L41.97,700.20 L42.69,700.20 L42.69,697.30 L44.86,697.30 L44.86,694.71 L45.44,694.71 L45.44,693.04 L48.19,693.04 L48.19,689.83 L48.63,689.83 L48.63,687.55 L51.95,687.55 L51.95,685.42 L56.30,685.42 L56.30,683.28 L56.87,683.28 L56.87,681.15 L59.04,681.15 L59.04,676.27 L63.82,676.27 L63.82,675.81 L69.17,675.81 L69.17,674.59 L72.36,674.59 L72.36,673.53 L74.09,673.53 L74.09,671.39 L75.69,671.39 L75.69,666.06 L77.86,666.06 L77.86,664.99 L78.87,664.99 L78.87,657.53 L81.04,657.53 L81.04,655.24 L84.37,655.24 L84.37,654.17 L84.95,654.17 L84.95,651.43 L87.12,651.43 L87.12,650.67 L87.12,650.67 L87.12,643.81 L91.89,643.81 L91.89,643.35 L92.47,643.35 L92.47,631.62 L95.07,631.62 L95.07,630.86 L95.65,630.86 L95.65,628.87 L99.99,628.87 L99.99,628.27 L103.03,628.27 L103.03,628.27 L103.61,628.27 L103.61,620.65 L106.94,620.65 L106.94,619.58 L109.11,619.58 L109.11,617.44 L111.86,617.44 L111.86,616.84 L111.86,616.84 L111.86,611.96 L114.75,611.96 L114.75,611.04 L114.75,611.04 L114.75,602.97 L117.50,602.97 L117.50,601.90 L117.50,601.90 L117.50,598.55 L119.82,598.55 L119.82,598.09 L120.25,598.09 L120.25,590.17 L123.00,590.17 L123.00,589.71 L123.58,589.71 L123.58,584.68 L126.33,584.68 L126.33,583.61 L128.50,583.61 L128.50,581.94 L131.39,581.94 L131.39,580.72 L136.89,580.72 L136.89,579.65 L142.39,579.65 L142.39,577.52 L146.88,577.52 L146.88,576.45 L149.05,576.45 L149.05,573.10 L157.87,573.10 L157.87,571.42 L160.19,571.42 L160.19,569.13 L166.85,569.13 L166.85,566.85 L167.86,566.85 L167.86,564.87 L172.20,564.87 L172.20,563.80 L172.20,716.20 Z" fill="#3b4f8f" fill-opacity="0.1" stroke="none"/>
<path d="M27.50,716.20 L30.32,716.20 L30.32,713.46 L31.39,713.46 L31.39,710.26 L33.56,710.26 L33.56,708.12 L36.80,708.12 L36.80,705.99 L40.05,705.99 L40.05,704.92 L40.05,704.92 L40.05,696.24 L42.26,696.24 L42.26,695.17 L42.26,695.17 L42.26,683.28 L44.86,683.28 L44.86,682.37 L44.86,682.37 L44.86,678.40 L47.61,678.40 L47.61,677.34 L50.36,677.34 L50.36,675.81 L53.26,675.81 L53.26,675.05 L53.55,675.05 L53.55,670.48 L56.44,670.48 L56.44,670.02 L56.44,670.02 L56.44,661.18 L59.19,661.18 L59.19,658.59 L62.66,658.59 L62.66,656.76 L70.33,656.76 L70.33,655.24 L70.33,655.24 L70.33,637.56 L72.50,637.56 L72.50,636.95 L72.94,636.95 L72.94,629.48 L75.69,629.48 L75.69,627.81 L78.43,627.81 L78.43,624.61 L81.04,624.61 L81.04,622.47 L83.93,622.47 L83.93,622.02 L86.97,622.02 L86.97,620.34 L91.89,620.34 L91.89,619.43 L92.47,619.43 L92.47,615.92 L95.07,615.92 L95.07,612.72 L97.82,612.72 L97.82,608.45 L100.28,608.45 L100.28,608.45 L100.28,608.45 L100.28,605.71 L108.53,605.71 L108.53,604.64 L111.28,604.64 L111.28,602.97 L114.03,602.97 L114.03,601.29 L114.75,601.29 L114.75,586.96 L117.50,586.96 L117.50,585.75 L123.00,585.75 L123.00,585.29 L125.90,585.29 L125.90,583.00 L128.07,583.00 L128.07,581.94 L132.55,581.94 L132.55,579.65 L136.31,579.65 L136.31,578.58 L139.06,578.58 L139.06,577.52 L144.71,577.52 L144.71,575.84 L146.88,575.84 L146.88,573.10 L149.05,573.10 L149.05,570.81 L151.36,570.81 L151.36,568.68 L157.87,568.68 L157.87,568.07 L164.53,568.07 L164.53,565.93 L170.17,565.93 L170.17,564.87 L172.20,564.87 L172.20,563.80 L172.20,716.20 Z" fill="#e2443a" fill-opacity="0.1" stroke="none"/>
<path d="M27.50,716.20 L27.79,716.20 L27.79,708.12 L33.56,708.12 L33.56,707.06 L33.56,707.06 L33.56,703.25 L36.18,703.25 L36.18,702.79 L36.80,702.79 L36.80,698.52 L39.51,698.52 L39.51,697.91 L40.05,697.91 L40.05,689.83 L42.69,689.83 L42.69,689.23 L44.86,689.23 L44.86,688.62 L44.86,688.62 L44.86,683.28 L50.80,683.28 L50.80,682.21 L50.80,682.21 L50.80,675.81 L53.26,675.81 L53.26,675.05 L53.55,675.05 L53.55,666.37 L56.44,666.37 L56.44,665.91 L56.44,665.91 L56.44,661.18 L61.65,661.18 L61.65,660.12 L69.17,660.12 L69.17,658.59 L75.69,658.59 L75.69,656.92 L75.69,656.92 L75.69,650.97 L78.87,650.97 L78.87,649.30 L81.62,649.30 L81.62,647.62 L81.62,647.62 L81.62,641.22 L83.79,641.22 L83.79,638.93 L83.79,638.93 L83.79,636.49 L86.83,636.49 L86.83,635.89 L91.89,635.89 L91.89,635.43 L92.47,635.43 L92.47,631.62 L95.07,631.62 L95.07,627.35 L99.99,627.35 L99.99,625.67 L103.03,625.67 L103.03,624.61 L103.61,624.61 L103.61,614.55 L106.36,614.55 L106.36,613.48 L111.28,613.48 L111.28,611.81 L115.19,611.81 L115.19,610.74 L117.94,610.74 L117.94,609.98 L117.94,609.98 L117.94,603.58 L120.25,603.58 L120.25,602.51 L120.83,602.51 L120.83,595.04 L125.90,595.04 L125.90,593.52 L131.39,593.52 L131.39,591.69 L138.05,591.69 L138.05,591.23 L144.71,591.23 L144.71,590.17 L145.72,590.17 L145.72,584.68 L148.47,584.68 L148.47,584.07 L148.47,584.07 L148.47,576.91 L153.53,576.91 L153.53,575.23 L157.87,575.23 L157.87,574.16 L161.78,574.16 L161.78,573.10 L162.36,573.10 L162.36,571.88 L164.53,571.88 L164.53,571.42 L164.53,571.42 L164.53,568.37 L168.87,568.37 L168.87,566.85 L172.20,566.85 L172.20,563.80 L172.20,716.20 Z" fill="#62b853" fill-opacity="0.1" stroke="none"/>
<path d="M27.50,716.20 L27.50,716.20 L27.50,700.66 L30.86,700.66 L30.86,700.66 L30.86,700.66 L30.86,693.04 L33.56,693.04 L33.56,691.97 L36.18,691.97 L36.18,691.36 L36.80,691.36 L36.80,686.63 L39.51,686.63 L39.51,686.02 L39.51,686.02 L39.51,683.28 L42.26,683.28 L42.26,682.37 L45.44,682.37 L45.44,681.15 L46.02,681.15 L46.02,678.40 L50.80,678.40 L50.80,676.27 L53.55,676.27 L53.55,675.05 L53.55,675.05 L53.55,661.64 L56.44,661.64 L56.44,660.57 L61.65,660.57 L61.65,658.90 L67.00,658.90 L67.00,657.83 L71.34,657.83 L71.34,656.76 L72.50,656.76 L72.50,650.36 L75.69,650.36 L75.69,649.91 L75.69,649.91 L75.69,641.22 L78.43,641.22 L78.43,638.93 L78.43,638.93 L78.43,633.75 L81.04,633.75 L81.04,632.08 L84.37,632.08 L84.37,630.55 L86.97,630.55 L86.97,629.94 L89.72,629.94 L89.72,620.19 L92.47,620.19 L92.47,616.99 L95.07,616.99 L95.07,614.85 L97.82,614.85 L97.82,612.72 L100.28,612.72 L100.28,612.11 L100.28,612.11 L100.28,605.71 L103.03,605.71 L103.03,605.25 L103.61,605.25 L103.61,602.51 L106.36,602.51 L106.36,601.90 L106.94,601.90 L106.94,599.16 L109.11,599.16 L109.11,598.55 L109.69,598.55 L109.69,595.80 L114.75,595.80 L114.75,595.35 L117.50,595.35 L117.50,593.52 L120.25,593.52 L120.25,592.76 L120.83,592.76 L120.83,589.71 L123.00,589.71 L123.00,589.10 L123.58,589.10 L123.58,585.29 L125.90,585.29 L125.90,581.48 L128.50,581.48 L128.50,579.65 L131.39,579.65 L131.39,576.91 L134.72,576.91 L134.72,575.84 L139.64,575.84 L139.64,574.16 L145.14,574.16 L145.14,573.10 L147.89,573.10 L147.89,568.68 L151.36,568.68 L151.36,568.07 L157.87,568.07 L157.87,566.85 L166.85,566.85 L166.85,565.93 L172.20,565.93 L172.20,563.80 L172.20,716.20 Z" fill="#5aaeb9" fill-opacity="0.1" stroke="none"/>
<line x1="27.50" y1="716.20" x2="172.20" y2="563.80" stroke="#4a4a4a" stroke-width="0.75" stroke-dasharray="2.4,1.8"/>
<path d="M27.50,716.20 L27.50,716.20 L27.50,713.15 L30.86,713.15 L30.86,710.26 L33.56,710.26 L33.56,708.73 L33.56,708.73 L33.56,703.86 L36.54,703.86 L36.54,702.26 L39.51,702.26 L39.51,700.66 L41.97,700.66 L41.97,700.20 L42.69,700.20 L42.69,697.30 L44.86,697.30 L44.86,694.71 L45.44,694.71 L45.44,693.04 L48.19,693.04 L48.19,689.83 L48.63,689.83 L48.63,687.55 L51.95,687.55 L51.95,685.42 L56.30,685.42 L56.30,683.28 L56.87,683.28 L56.87,681.15 L59.04,681.15 L59.04,676.27 L63.82,676.27 L63.82,675.81 L69.17,675.81 L69.17,674.59 L72.36,674.59 L72.36,673.53 L74.09,673.53 L74.09,671.39 L75.69,671.39 L75.69,666.06 L77.86,666.06 L77.86,664.99 L78.87,664.99 L78.87,657.53 L81.04,657.53 L81.04,655.24 L84.37,655.24 L84.37,654.17 L84.95,654.17 L84.95,651.43 L87.12,651.43 L87.12,650.67 L87.12,650.67 L87.12,643.81 L91.89,643.81 L91.89,643.35 L92.47,643.35 L92.47,631.62 L95.07,631.62 L95.07,630.86 L95.65,630.86 L95.65,628.87 L99.99,628.87 L99.99,628.27 L103.03,628.27 L103.03,628.27 L103.61,628.27 L103.61,620.65 L106.94,620.65 L106.94,619.58 L109.11,619.58 L109.11,617.44 L111.86,617.44 L111.86,616.84 L111.86,616.84 L111.86,611.96 L114.75,611.96 L114.75,611.04 L114.75,611.04 L114.75,602.97 L117.50,602.97 L117.50,601.90 L117.50,601.90 L117.50,598.55 L119.82,598.55 L119.82,598.09 L120.25,598.09 L120.25,590.17 L123.00,590.17 L123.00,589.71 L123.58,589.71 L123.58,584.68 L126.33,584.68 L126.33,583.61 L128.50,583.61 L128.50,581.94 L131.39,581.94 L131.39,580.72 L136.89,580.72 L136.89,579.65 L142.39,579.65 L142.39,577.52 L146.88,577.52 L146.88,576.45 L149.05,576.45 L149.05,573.10 L157.87,573.10 L157.87,571.42 L160.19,571.42 L160.19,569.13 L166.85,569.13 L166.85,566.85 L167.86,566.85 L167.86,564.87 L172.20,564.87 L172.20,563.80" fill="none" stroke="#3b4f8f" stroke-width="0.95"/>
<path d="M27.50,716.20 L30.32,716.20 L30.32,713.46 L31.39,713.46 L31.39,710.26 L33.56,710.26 L33.56,708.12 L36.80,708.12 L36.80,705.99 L40.05,705.99 L40.05,704.92 L40.05,704.92 L40.05,696.24 L42.26,696.24 L42.26,695.17 L42.26,695.17 L42.26,683.28 L44.86,683.28 L44.86,682.37 L44.86,682.37 L44.86,678.40 L47.61,678.40 L47.61,677.34 L50.36,677.34 L50.36,675.81 L53.26,675.81 L53.26,675.05 L53.55,675.05 L53.55,670.48 L56.44,670.48 L56.44,670.02 L56.44,670.02 L56.44,661.18 L59.19,661.18 L59.19,658.59 L62.66,658.59 L62.66,656.76 L70.33,656.76 L70.33,655.24 L70.33,655.24 L70.33,637.56 L72.50,637.56 L72.50,636.95 L72.94,636.95 L72.94,629.48 L75.69,629.48 L75.69,627.81 L78.43,627.81 L78.43,624.61 L81.04,624.61 L81.04,622.47 L83.93,622.47 L83.93,622.02 L86.97,622.02 L86.97,620.34 L91.89,620.34 L91.89,619.43 L92.47,619.43 L92.47,615.92 L95.07,615.92 L95.07,612.72 L97.82,612.72 L97.82,608.45 L100.28,608.45 L100.28,608.45 L100.28,608.45 L100.28,605.71 L108.53,605.71 L108.53,604.64 L111.28,604.64 L111.28,602.97 L114.03,602.97 L114.03,601.29 L114.75,601.29 L114.75,586.96 L117.50,586.96 L117.50,585.75 L123.00,585.75 L123.00,585.29 L125.90,585.29 L125.90,583.00 L128.07,583.00 L128.07,581.94 L132.55,581.94 L132.55,579.65 L136.31,579.65 L136.31,578.58 L139.06,578.58 L139.06,577.52 L144.71,577.52 L144.71,575.84 L146.88,575.84 L146.88,573.10 L149.05,573.10 L149.05,570.81 L151.36,570.81 L151.36,568.68 L157.87,568.68 L157.87,568.07 L164.53,568.07 L164.53,565.93 L170.17,565.93 L170.17,564.87 L172.20,564.87 L172.20,563.80" fill="none" stroke="#e2443a" stroke-width="0.95"/>
<path d="M27.50,716.20 L27.79,716.20 L27.79,708.12 L33.56,708.12 L33.56,707.06 L33.56,707.06 L33.56,703.25 L36.18,703.25 L36.18,702.79 L36.80,702.79 L36.80,698.52 L39.51,698.52 L39.51,697.91 L40.05,697.91 L40.05,689.83 L42.69,689.83 L42.69,689.23 L44.86,689.23 L44.86,688.62 L44.86,688.62 L44.86,683.28 L50.80,683.28 L50.80,682.21 L50.80,682.21 L50.80,675.81 L53.26,675.81 L53.26,675.05 L53.55,675.05 L53.55,666.37 L56.44,666.37 L56.44,665.91 L56.44,665.91 L56.44,661.18 L61.65,661.18 L61.65,660.12 L69.17,660.12 L69.17,658.59 L75.69,658.59 L75.69,656.92 L75.69,656.92 L75.69,650.97 L78.87,650.97 L78.87,649.30 L81.62,649.30 L81.62,647.62 L81.62,647.62 L81.62,641.22 L83.79,641.22 L83.79,638.93 L83.79,638.93 L83.79,636.49 L86.83,636.49 L86.83,635.89 L91.89,635.89 L91.89,635.43 L92.47,635.43 L92.47,631.62 L95.07,631.62 L95.07,627.35 L99.99,627.35 L99.99,625.67 L103.03,625.67 L103.03,624.61 L103.61,624.61 L103.61,614.55 L106.36,614.55 L106.36,613.48 L111.28,613.48 L111.28,611.81 L115.19,611.81 L115.19,610.74 L117.94,610.74 L117.94,609.98 L117.94,609.98 L117.94,603.58 L120.25,603.58 L120.25,602.51 L120.83,602.51 L120.83,595.04 L125.90,595.04 L125.90,593.52 L131.39,593.52 L131.39,591.69 L138.05,591.69 L138.05,591.23 L144.71,591.23 L144.71,590.17 L145.72,590.17 L145.72,584.68 L148.47,584.68 L148.47,584.07 L148.47,584.07 L148.47,576.91 L153.53,576.91 L153.53,575.23 L157.87,575.23 L157.87,574.16 L161.78,574.16 L161.78,573.10 L162.36,573.10 L162.36,571.88 L164.53,571.88 L164.53,571.42 L164.53,571.42 L164.53,568.37 L168.87,568.37 L168.87,566.85 L172.20,566.85 L172.20,563.80" fill="none" stroke="#62b853" stroke-width="0.95"/>
<path d="M27.50,716.20 L27.50,716.20 L27.50,700.66 L30.86,700.66 L30.86,700.66 L30.86,700.66 L30.86,693.04 L33.56,693.04 L33.56,691.97 L36.18,691.97 L36.18,691.36 L36.80,691.36 L36.80,686.63 L39.51,686.63 L39.51,686.02 L39.51,686.02 L39.51,683.28 L42.26,683.28 L42.26,682.37 L45.44,682.37 L45.44,681.15 L46.02,681.15 L46.02,678.40 L50.80,678.40 L50.80,676.27 L53.55,676.27 L53.55,675.05 L53.55,675.05 L53.55,661.64 L56.44,661.64 L56.44,660.57 L61.65,660.57 L61.65,658.90 L67.00,658.90 L67.00,657.83 L71.34,657.83 L71.34,656.76 L72.50,656.76 L72.50,650.36 L75.69,650.36 L75.69,649.91 L75.69,649.91 L75.69,641.22 L78.43,641.22 L78.43,638.93 L78.43,638.93 L78.43,633.75 L81.04,633.75 L81.04,632.08 L84.37,632.08 L84.37,630.55 L86.97,630.55 L86.97,629.94 L89.72,629.94 L89.72,620.19 L92.47,620.19 L92.47,616.99 L95.07,616.99 L95.07,614.85 L97.82,614.85 L97.82,612.72 L100.28,612.72 L100.28,612.11 L100.28,612.11 L100.28,605.71 L103.03,605.71 L103.03,605.25 L103.61,605.25 L103.61,602.51 L106.36,602.51 L106.36,601.90 L106.94,601.90 L106.94,599.16 L109.11,599.16 L109.11,598.55 L109.69,598.55 L109.69,595.80 L114.75,595.80 L114.75,595.35 L117.50,595.35 L117.50,593.52 L120.25,593.52 L120.25,592.76 L120.83,592.76 L120.83,589.71 L123.00,589.71 L123.00,589.10 L123.58,589.10 L123.58,585.29 L125.90,585.29 L125.90,581.48 L128.50,581.48 L128.50,579.65 L131.39,579.65 L131.39,576.91 L134.72,576.91 L134.72,575.84 L139.64,575.84 L139.64,574.16 L145.14,574.16 L145.14,573.10 L147.89,573.10 L147.89,568.68 L151.36,568.68 L151.36,568.07 L157.87,568.07 L157.87,566.85 L166.85,566.85 L166.85,565.93 L172.20,565.93 L172.20,563.80" fill="none" stroke="#5aaeb9" stroke-width="0.95"/>
<rect x="26.3" y="562.7" width="146.30" height="153.50" fill="none" stroke="#3a3a3a" stroke-width="0.8"/>
<line x1="23.70" y1="716.20" x2="26.3" y2="716.20" stroke="#333" stroke-width="0.6"/>
<text x="0" y="2.13" font-size="6.0" text-anchor="end" fill="#1a1a1a" transform="translate(21.90,716.20) scale(1,1.15)" >0.0</text>
<line x1="27.50" y1="716.2" x2="27.50" y2="718.60" stroke="#333" stroke-width="0.6"/>
<text x="0" y="2.13" font-size="6.0" text-anchor="middle" fill="#1a1a1a" transform="translate(27.50,723.80) scale(1,1.15)" >0.0</text>
<line x1="23.70" y1="685.72" x2="26.3" y2="685.72" stroke="#333" stroke-width="0.6"/>
<text x="0" y="2.13" font-size="6.0" text-anchor="end" fill="#1a1a1a" transform="translate(21.90,685.72) scale(1,1.15)" >0.2</text>
<line x1="56.44" y1="716.2" x2="56.44" y2="718.60" stroke="#333" stroke-width="0.6"/>
<text x="0" y="2.13" font-size="6.0" text-anchor="middle" fill="#1a1a1a" transform="translate(56.44,723.80) scale(1,1.15)" >0.2</text>
<line x1="23.70" y1="655.24" x2="26.3" y2="655.24" stroke="#333" stroke-width="0.6"/>
<text x="0" y="2.13" font-size="6.0" text-anchor="end" fill="#1a1a1a" transform="translate(21.90,655.24) scale(1,1.15)" >0.4</text>
<line x1="85.38" y1="716.2" x2="85.38" y2="718.60" stroke="#333" stroke-width="0.6"/>
<text x="0" y="2.13" font-size="6.0" text-anchor="middle" fill="#1a1a1a" transform="translate(85.38,723.80) scale(1,1.15)" >0.4</text>
<line x1="23.70" y1="624.76" x2="26.3" y2="624.76" stroke="#333" stroke-width="0.6"/>
<text x="0" y="2.13" font-size="6.0" text-anchor="end" fill="#1a1a1a" transform="translate(21.90,624.76) scale(1,1.15)" >0.6</text>
<line x1="114.32" y1="716.2" x2="114.32" y2="718.60" stroke="#333" stroke-width="0.6"/>
<text x="0" y="2.13" font-size="6.0" text-anchor="middle" fill="#1a1a1a" transform="translate(114.32,723.80) scale(1,1.15)" >0.6</text>
<line x1="23.70" y1="594.28" x2="26.3" y2="594.28" stroke="#333" stroke-width="0.6"/>
<text x="0" y="2.13" font-size="6.0" text-anchor="end" fill="#1a1a1a" transform="translate(21.90,594.28) scale(1,1.15)" >0.8</text>
<line x1="143.26" y1="716.2" x2="143.26" y2="718.60" stroke="#333" stroke-width="0.6"/>
<text x="0" y="2.13" font-size="6.0" text-anchor="middle" fill="#1a1a1a" transform="translate(143.26,723.80) scale(1,1.15)" >0.8</text>
<line x1="23.70" y1="563.80" x2="26.3" y2="563.80" stroke="#333" stroke-width="0.6"/>
<text x="0" y="2.13" font-size="6.0" text-anchor="end" fill="#1a1a1a" transform="translate(21.90,563.80) scale(1,1.15)" >1.0</text>
<line x1="172.20" y1="716.2" x2="172.20" y2="718.60" stroke="#333" stroke-width="0.6"/>
<text x="0" y="2.13" font-size="6.0" text-anchor="middle" fill="#1a1a1a" transform="translate(172.20,723.80) scale(1,1.15)" >1.0</text>
<text x="0" y="2.52" font-size="7.1" text-anchor="middle" fill="#111" transform="translate(99.85,731.80) scale(1,1.12)" >1−Specificity (FPR)</text>
<text x="0" y="0" font-size="7.1" text-anchor="middle" fill="#111" transform="translate(10.02,639.45) rotate(-90)">Sensitivity (TPR)</text>
<line x1="99.96" y1="692.70" x2="105.16" y2="692.70" stroke="#3b4f8f" stroke-width="1.4" stroke-opacity="0.7"/>
<text x="0" y="2.20" font-size="6.2" text-anchor="start" fill="#222" transform="translate(108.66,692.70) scale(1,1.12)" >RCN3 (AUC = 0.570)</text>
<line x1="99.96" y1="699.05" x2="105.16" y2="699.05" stroke="#e2443a" stroke-width="1.4" stroke-opacity="0.7"/>
<text x="0" y="2.20" font-size="6.2" text-anchor="start" fill="#222" transform="translate(108.66,699.05) scale(1,1.12)" >SPP1 (AUC = 0.646)</text>
<line x1="99.96" y1="705.40" x2="105.16" y2="705.40" stroke="#62b853" stroke-width="1.4" stroke-opacity="0.7"/>
<text x="0" y="2.20" font-size="6.2" text-anchor="start" fill="#222" transform="translate(108.66,705.40) scale(1,1.12)" >THBS2 (AUC = 0.587)</text>
<line x1="99.96" y1="711.75" x2="105.16" y2="711.75" stroke="#5aaeb9" stroke-width="1.4" stroke-opacity="0.7"/>
<text x="0" y="2.20" font-size="6.2" text-anchor="start" fill="#222" transform="translate(108.66,711.75) scale(1,1.12)" >TREM2 (AUC = 0.645)</text>
<text x="178.40" y="16.75" font-size="5.5" text-anchor="start" fill="#111" font-weight="bold" >Cohort</text>
<rect x="178.5" y="19.30" width="5.8" height="5.2" fill="#2c2a48"/>
<text x="185.40" y="23.83" font-size="5.45" text-anchor="start" fill="#333" >GSE14208</text>
<rect x="178.5" y="25.00" width="5.8" height="5.2" fill="#e8551f"/>
<text x="185.40" y="29.53" font-size="5.45" text-anchor="start" fill="#333" >GSE16120</text>
<rect x="178.5" y="30.70" width="5.8" height="5.2" fill="#5cc348"/>
<text x="185.40" y="35.23" font-size="5.45" text-anchor="start" fill="#333" >GSE32571</text>
<rect x="178.5" y="36.40" width="5.8" height="5.2" fill="#3b8fa6"/>
<text x="185.40" y="40.93" font-size="5.45" text-anchor="start" fill="#333" >GSE38241</text>
<rect x="178.5" y="42.10" width="5.8" height="5.2" fill="#a37c5c"/>
<text x="185.40" y="46.63" font-size="5.45" text-anchor="start" fill="#333" >GSE62872</text>
<rect x="178.5" y="47.80" width="5.8" height="5.2" fill="#3d6fbf"/>
<text x="185.40" y="52.33" font-size="5.45" text-anchor="start" fill="#333" >TCGA-PRAD</text>
<text x="189.90" y="60.95" font-size="5.5" text-anchor="start" fill="#111" font-weight="bold" >AUC</text>
<defs><linearGradient id="aucg" x1="0" y1="0" x2="0" y2="1"><stop offset="0" stop-color="#5ccd3c"/><stop offset="0.33" stop-color="#88ad4c"/><stop offset="0.5" stop-color="#a48c58"/><stop offset="0.66" stop-color="#b8686a"/><stop offset="1" stop-color="#c8207a"/></linearGradient></defs>
<rect x="189.7" y="63.1" width="6.3" height="29" fill="url(#aucg)"/>
<line x1="189.7" y1="64.4" x2="190.9" y2="64.4" stroke="#fff" stroke-width="0.5"/>
<line x1="194.8" y1="64.4" x2="196" y2="64.4" stroke="#fff" stroke-width="0.5"/>
<text x="197.00" y="66.33" font-size="5.45" text-anchor="start" fill="#333" >1</text>
<line x1="189.7" y1="73.3" x2="190.9" y2="73.3" stroke="#fff" stroke-width="0.5"/>
<line x1="194.8" y1="73.3" x2="196" y2="73.3" stroke="#fff" stroke-width="0.5"/>
<text x="197.00" y="75.23" font-size="5.45" text-anchor="start" fill="#333" >0.8</text>
<line x1="189.7" y1="82.2" x2="190.9" y2="82.2" stroke="#fff" stroke-width="0.5"/>
<line x1="194.8" y1="82.2" x2="196" y2="82.2" stroke="#fff" stroke-width="0.5"/>
<text x="197.00" y="84.13" font-size="5.45" text-anchor="start" fill="#333" >0.6</text>
<line x1="189.7" y1="90.6" x2="190.9" y2="90.6" stroke="#fff" stroke-width="0.5"/>
<line x1="194.8" y1="90.6" x2="196" y2="90.6" stroke="#fff" stroke-width="0.5"/>
<text x="197.00" y="92.53" font-size="5.45" text-anchor="start" fill="#333" >0.4</text>
<text x="223.40" y="15.00" font-size="12.4" text-anchor="start" fill="#000" >B</text>
<rect x="283.00" y="7.0" width="16.9" height="5.9" fill="#3d6fbf"/>
<rect x="301.02" y="7.0" width="16.9" height="5.9" fill="#5cc348"/>
<rect x="319.04" y="7.0" width="16.9" height="5.9" fill="#a37c5c"/>
<rect x="337.06" y="7.0" width="16.9" height="5.9" fill="#e8551f"/>
<rect x="355.08" y="7.0" width="16.9" height="5.9" fill="#2c2a48"/>
<rect x="373.10" y="7.0" width="16.9" height="5.9" fill="#3b8fa6"/>
<rect x="299.90" y="14.60" width="90.10" height="718.96" fill="#c6c6c6"/>
<text x="280.80" y="20.42" font-size="5.33" text-anchor="end" fill="#222" stroke="#222" stroke-width="0.1">Lasso+LDA</text>
<rect x="283.30" y="14.90" width="16.30" height="6.06" fill="#5ab53a" stroke="#1a1a1a" stroke-width="0.6"/>
<text x="291.45" y="19.67" font-size="4.9" text-anchor="middle" fill="#1e1e1e" >0.911</text>
<rect x="301.32" y="14.90" width="16.30" height="6.06" fill="#8ca249" stroke="#1a1a1a" stroke-width="0.6"/>
<text x="309.47" y="19.67" font-size="4.9" text-anchor="middle" fill="#1e1e1e" >0.764</text>
<rect x="319.34" y="14.90" width="16.30" height="6.06" fill="#b5795f" stroke="#1a1a1a" stroke-width="0.6"/>
<text x="327.49" y="19.67" font-size="4.9" text-anchor="middle" fill="#1e1e1e" >0.618</text>
<rect x="337.36" y="14.90" width="16.30" height="6.06" fill="#79a941" stroke="#1a1a1a" stroke-width="0.6"/>
<text x="345.51" y="19.67" font-size="4.9" text-anchor="middle" fill="#1e1e1e" >0.824</text>
<rect x="355.38" y="14.90" width="16.30" height="6.06" fill="#67af3d" stroke="#1a1a1a" stroke-width="0.6"/>
<text x="363.53" y="19.67" font-size="4.9" text-anchor="middle" fill="#1e1e1e" >0.868</text>
<rect x="373.40" y="14.90" width="16.30" height="6.06" fill="#5db33b" stroke="#1a1a1a" stroke-width="0.6"/>
<text x="381.55" y="19.67" font-size="4.9" text-anchor="middle" fill="#1e1e1e" >0.897</text>
<text x="280.80" y="27.08" font-size="5.33" text-anchor="end" fill="#222" stroke="#222" stroke-width="0.1">LDA</text>
<rect x="283.30" y="21.56" width="16.30" height="6.06" fill="#5ab53a" stroke="#1a1a1a" stroke-width="0.6"/>
<text x="291.45" y="26.32" font-size="4.9" text-anchor="middle" fill="#1e1e1e" >0.911</text>
<rect x="301.32" y="21.56" width="16.30" height="6.06" fill="#91a04b" stroke="#1a1a1a" stroke-width="0.6"/>
<text x="309.47" y="26.32" font-size="4.9" text-anchor="middle" fill="#1e1e1e" >0.746</text>
<rect x="319.34" y="21.56" width="16.30" height="6.06" fill="#b77660" stroke="#1a1a1a" stroke-width="0.6"/>
<text x="327.49" y="26.32" font-size="4.9" text-anchor="middle" fill="#1e1e1e" >0.608</text>
<rect x="337.36" y="21.56" width="16.30" height="6.06" fill="#78a941" stroke="#1a1a1a" stroke-width="0.6"/>
<text x="345.51" y="26.32" font-size="4.9" text-anchor="middle" fill="#1e1e1e" >0.825</text>
<rect x="355.38" y="21.56" width="16.30" height="6.06" fill="#70ac3f" stroke="#1a1a1a" stroke-width="0.6"/>
<text x="363.53" y="26.32" font-size="4.9" text-anchor="middle" fill="#1e1e1e" >0.846</text>
<rect x="373.40" y="21.56" width="16.30" height="6.06" fill="#5cb43b" stroke="#1a1a1a" stroke-width="0.6"/>
<text x="381.55" y="26.32" font-size="4.9" text-anchor="middle" fill="#1e1e1e" >0.902</text>
<text x="280.80" y="33.73" font-size="5.33" text-anchor="end" fill="#222" stroke="#222" stroke-width="0.1">Stepglm[backward]+LDA</text>
<rect x="283.30" y="28.21" width="16.30" height="6.06" fill="#5ab53a" stroke="#1a1a1a" stroke-width="0.6"/>
<text x="291.45" y="32.98" font-size="4.9" text-anchor="middle" fill="#1e1e1e" >0.913</text>
<rect x="301.32" y="28.21" width="16.30" height="6.06" fill="#8ba248" stroke="#1a1a1a" stroke-width="0.6"/>
<text x="309.47" y="32.98" font-size="4.9" text-anchor="middle" fill="#1e1e1e" >0.770</text>
<rect x="319.34" y="28.21" width="16.30" height="6.06" fill="#b97461" stroke="#1a1a1a" stroke-width="0.6"/>
<text x="327.49" y="32.98" font-size="4.9" text-anchor="middle" fill="#1e1e1e" >0.601</text>
<rect x="337.36" y="28.21" width="16.30" height="6.06" fill="#85a445" stroke="#1a1a1a" stroke-width="0.6"/>
<text x="345.51" y="32.98" font-size="4.9" text-anchor="middle" fill="#1e1e1e" >0.790</text>
<rect x="355.38" y="28.21" width="16.30" height="6.06" fill="#75aa40" stroke="#1a1a1a" stroke-width="0.6"/>
<text x="363.53" y="32.98" font-size="4.9" text-anchor="middle" fill="#1e1e1e" >0.833</text>
<rect x="373.40" y="28.21" width="16.30" height="6.06" fill="#5db33b" stroke="#1a1a1a" stroke-width="0.6"/>
<text x="381.55" y="32.98" font-size="4.9" text-anchor="middle" fill="#1e1e1e" >0.897</text>
<text x="280.80" y="40.39" font-size="5.33" text-anchor="end" fill="#222" stroke="#222" stroke-width="0.1">Stepglm[both]+LDA</text>
<rect x="283.30" y="34.87" width="16.30" height="6.06" fill="#5ab53a" stroke="#1a1a1a" stroke-width="0.6"/>
<text x="291.45" y="39.64" font-size="4.9" text-anchor="middle" fill="#1e1e1e" >0.913</text>
<rect x="301.32" y="34.87" width="16.30" height="6.06" fill="#8aa347" stroke="#1a1a1a" stroke-width="0.6"/>
<text x="309.47" y="39.64" font-size="4.9" text-anchor="middle" fill="#1e1e1e" >0.772</text>
<rect x="319.34" y="34.87" width="16.30" height="6.06" fill="#b97461" stroke="#1a1a1a" stroke-width="0.6"/>
<text x="327.49" y="39.64" font-size="4.9" text-anchor="middle" fill="#1e1e1e" >0.601</text>
<rect x="337.36" y="34.87" width="16.30" height="6.06" fill="#85a445" stroke="#1a1a1a" stroke-width="0.6"/>
<text x="345.51" y="39.64" font-size="4.9" text-anchor="middle" fill="#1e1e1e" >0.790</text>
<rect x="355.38" y="34.87" width="16.30" height="6.06" fill="#7aa841" stroke="#1a1a1a" stroke-width="0.6"/>
<text x="363.53" y="39.64" font-size="4.9" text-anchor="middle" fill="#1e1e1e" >0.822</text>
<rect x="373.40" y="34.87" width="16.30" height="6.06" fill="#5db33b" stroke="#1a1a1a" stroke-width="0.6"/>
<text x="381.55" y="39.64" font-size="4.9" text-anchor="middle" fill="#1e1e1e" >0.897</text>
<text x="280.80" y="47.05" font-size="5.33" text-anchor="end" fill="#222" stroke="#222" stroke-width="0.1">Enet[alpha=0.2]</text>
<rect x="283.30" y="41.53" width="16.30" height="6.06" fill="#58b739" stroke="#1a1a1a" stroke-width="0.6"/>
<text x="291.45" y="46.30" font-size="4.9" text-anchor="middle" fill="#1e1e1e" >0.924</text>
<rect x="301.32" y="41.53" width="16.30" height="6.06" fill="#83a544" stroke="#1a1a1a" stroke-width="0.6"/>
<text x="309.47" y="46.30" font-size="4.9" text-anchor="middle" fill="#1e1e1e" >0.796</text>
<rect x="319.34" y="41.53" width="16.30" height="6.06" fill="#b96f62" stroke="#1a1a1a" stroke-width="0.6"/>
<text x="327.49" y="46.30" font-size="4.9" text-anchor="middle" fill="#1e1e1e" >0.590</text>
<rect x="337.36" y="41.53" width="16.30" height="6.06" fill="#a49058" stroke="#1a1a1a" stroke-width="0.6"/>
<text x="345.51" y="46.30" font-size="4.9" text-anchor="middle" fill="#1e1e1e" >0.676</text>
<rect x="355.38" y="41.53" width="16.30" height="6.06" fill="#9b9951" stroke="#1a1a1a" stroke-width="0.6"/>
<text x="363.53" y="46.30" font-size="4.9" text-anchor="middle" fill="#1e1e1e" >0.705</text>
<rect x="373.40" y="41.53" width="16.30" height="6.06" fill="#5db33b" stroke="#1a1a1a" stroke-width="0.6"/>
<text x="381.55" y="46.30" font-size="4.9" text-anchor="middle" fill="#1e1e1e" >0.897</text>
<text x="280.80" y="53.71" font-size="5.33" text-anchor="end" fill="#222" stroke="#222" stroke-width="0.1">Enet[alpha=0.6]</text>
<rect x="283.30" y="48.18" width="16.30" height="6.06" fill="#58b739" stroke="#1a1a1a" stroke-width="0.6"/>
<text x="291.45" y="52.95" font-size="4.9" text-anchor="middle" fill="#1e1e1e" >0.925</text>
<rect x="301.32" y="48.18" width="16.30" height="6.06" fill="#83a544" stroke="#1a1a1a" stroke-width="0.6"/>
<text x="309.47" y="52.95" font-size="4.9" text-anchor="middle" fill="#1e1e1e" >0.796</text>
<rect x="319.34" y="48.18" width="16.30" height="6.06" fill="#ba6e62" stroke="#1a1a1a" stroke-width="0.6"/>
<text x="327.49" y="52.95" font-size="4.9" text-anchor="middle" fill="#1e1e1e" >0.588</text>
<rect x="337.36" y="48.18" width="16.30" height="6.06" fill="#a49058" stroke="#1a1a1a" stroke-width="0.6"/>
<text x="345.51" y="52.95" font-size="4.9" text-anchor="middle" fill="#1e1e1e" >0.676</text>
<rect x="355.38" y="48.18" width="16.30" height="6.06" fill="#999b50" stroke="#1a1a1a" stroke-width="0.6"/>
<text x="363.53" y="52.95" font-size="4.9" text-anchor="middle" fill="#1e1e1e" >0.716</text>
<rect x="373.40" y="48.18" width="16.30" height="6.06" fill="#60b13c" stroke="#1a1a1a" stroke-width="0.6"/>
<text x="381.55" y="52.95" font-size="4.9" text-anchor="middle" fill="#1e1e1e" >0.888</text>
<text x="280.80" y="60.36" font-size="5.33" text-anchor="end" fill="#222" stroke="#222" stroke-width="0.1">Enet[alpha=0.1]</text>
<rect x="283.30" y="54.84" width="16.30" height="6.06" fill="#58b739" stroke="#1a1a1a" stroke-width="0.6"/>
<text x="291.45" y="59.61" font-size="4.9" text-anchor="middle" fill="#1e1e1e" >0.924</text>
<rect x="301.32" y="54.84" width="16.30" height="6.06" fill="#83a544" stroke="#1a1a1a" stroke-width="0.6"/>
<text x="309.47" y="59.61" font-size="4.9" text-anchor="middle" fill="#1e1e1e" >0.796</text>
<rect x="319.34" y="54.84" width="16.30" height="6.06" fill="#b96f62" stroke="#1a1a1a" stroke-width="0.6"/>
<text x="327.49" y="59.61" font-size="4.9" text-anchor="middle" fill="#1e1e1e" >0.591</text>
<rect x="337.36" y="54.84" width="16.30" height="6.06" fill="#a49058" stroke="#1a1a1a" stroke-width="0.6"/>
<text x="345.51" y="59.61" font-size="4.9" text-anchor="middle" fill="#1e1e1e" >0.676</text>
<rect x="355.38" y="54.84" width="16.30" height="6.06" fill="#9c9952" stroke="#1a1a1a" stroke-width="0.6"/>
<text x="363.53" y="59.61" font-size="4.9" text-anchor="middle" fill="#1e1e1e" >0.702</text>
<rect x="373.40" y="54.84" width="16.30" height="6.06" fill="#5db33b" stroke="#1a1a1a" stroke-width="0.6"/>
<text x="381.55" y="59.61" font-size="4.9" text-anchor="middle" fill="#1e1e1e" >0.897</text>
<text x="280.80" y="67.02" font-size="5.33" text-anchor="end" fill="#222" stroke="#222" stroke-width="0.1">Enet[alpha=0.4]</text>
<rect x="283.30" y="61.50" width="16.30" height="6.06" fill="#58b739" stroke="#1a1a1a" stroke-width="0.6"/>
<text x="291.45" y="66.27" font-size="4.9" text-anchor="middle" fill="#1e1e1e" >0.924</text>
<rect x="301.32" y="61.50" width="16.30" height="6.06" fill="#82a543" stroke="#1a1a1a" stroke-width="0.6"/>
<text x="309.47" y="66.27" font-size="4.9" text-anchor="middle" fill="#1e1e1e" >0.799</text>
<rect x="319.34" y="61.50" width="16.30" height="6.06" fill="#b97062" stroke="#1a1a1a" stroke-width="0.6"/>
<text x="327.49" y="66.27" font-size="4.9" text-anchor="middle" fill="#1e1e1e" >0.592</text>
<rect x="337.36" y="61.50" width="16.30" height="6.06" fill="#a49058" stroke="#1a1a1a" stroke-width="0.6"/>
<text x="345.51" y="66.27" font-size="4.9" text-anchor="middle" fill="#1e1e1e" >0.676</text>
<rect x="355.38" y="61.50" width="16.30" height="6.06" fill="#9b9951" stroke="#1a1a1a" stroke-width="0.6"/>
<text x="363.53" y="66.27" font-size="4.9" text-anchor="middle" fill="#1e1e1e" >0.705</text>
<rect x="373.40" y="61.50" width="16.30" height="6.06" fill="#60b13c" stroke="#1a1a1a" stroke-width="0.6"/>
<text x="381.55" y="66.27" font-size="4.9" text-anchor="middle" fill="#1e1e1e" >0.888</text>
<text x="280.80" y="73.68" font-size="5.33" text-anchor="end" fill="#222" stroke="#222" stroke-width="0.1">Enet[alpha=0.3]</text>
<rect x="283.30" y="68.16" width="16.30" height="6.06" fill="#58b739" stroke="#1a1a1a" stroke-width="0.6"/>
<text x="291.45" y="72.92" font-size="4.9" text-anchor="middle" fill="#1e1e1e" >0.924</text>
<rect x="301.32" y="68.16" width="16.30" height="6.06" fill="#82a543" stroke="#1a1a1a" stroke-width="0.6"/>
<text x="309.47" y="72.92" font-size="4.9" text-anchor="middle" fill="#1e1e1e" >0.799</text>
<rect x="319.34" y="68.16" width="16.30" height="6.06" fill="#b97062" stroke="#1a1a1a" stroke-width="0.6"/>
<text x="327.49" y="72.92" font-size="4.9" text-anchor="middle" fill="#1e1e1e" >0.592</text>
<rect x="337.36" y="68.16" width="16.30" height="6.06" fill="#a59058" stroke="#1a1a1a" stroke-width="0.6"/>
<text x="345.51" y="72.92" font-size="4.9" text-anchor="middle" fill="#1e1e1e" >0.674</text>
<rect x="355.38" y="68.16" width="16.30" height="6.06" fill="#9c9952" stroke="#1a1a1a" stroke-width="0.6"/>
<text x="363.53" y="72.92" font-size="4.9" text-anchor="middle" fill="#1e1e1e" >0.701</text>
<rect x="373.40" y="68.16" width="16.30" height="6.06" fill="#60b13c" stroke="#1a1a1a" stroke-width="0.6"/>
<text x="381.55" y="72.92" font-size="4.9" text-anchor="middle" fill="#1e1e1e" >0.886</text>
<text x="280.80" y="80.33" font-size="5.33" text-anchor="end" fill="#222" stroke="#222" stroke-width="0.1">Enet[alpha=0.5]</text>
<rect x="283.30" y="74.81" width="16.30" height="6.06" fill="#58b739" stroke="#1a1a1a" stroke-width="0.6"/>
<text x="291.45" y="79.58" font-size="4.9" text-anchor="middle" fill="#1e1e1e" >0.924</text>
<rect x="301.32" y="74.81" width="16.30" height="6.06" fill="#82a643" stroke="#1a1a1a" stroke-width="0.6"/>
<text x="309.47" y="79.58" font-size="4.9" text-anchor="middle" fill="#1e1e1e" >0.800</text>
<rect x="319.34" y="74.81" width="16.30" height="6.06" fill="#b97062" stroke="#1a1a1a" stroke-width="0.6"/>
<text x="327.49" y="79.58" font-size="4.9" text-anchor="middle" fill="#1e1e1e" >0.592</text>
<rect x="337.36" y="74.81" width="16.30" height="6.06" fill="#a59058" stroke="#1a1a1a" stroke-width="0.6"/>
<text x="345.51" y="79.58" font-size="4.9" text-anchor="middle" fill="#1e1e1e" >0.675</text>
<rect x="355.38" y="74.81" width="16.30" height="6.06" fill="#9c9952" stroke="#1a1a1a" stroke-width="0.6"/>
<text x="363.53" y="79.58" font-size="4.9" text-anchor="middle" fill="#1e1e1e" >0.702</text>
<rect x="373.40" y="74.81" width="16.30" height="6.06" fill="#61b13c" stroke="#1a1a1a" stroke-width="0.6"/>
<text x="381.55" y="79.58" font-size="4.9" text-anchor="middle" fill="#1e1e1e" >0.884</text>
<text x="280.80" y="86.99" font-size="5.33" text-anchor="end" fill="#222" stroke="#222" stroke-width="0.1">Lasso+Stepglm[forward]</text>
<rect x="283.30" y="81.47" width="16.30" height="6.06" fill="#58b739" stroke="#1a1a1a" stroke-width="0.6"/>
<text x="291.45" y="86.24" font-size="4.9" text-anchor="middle" fill="#1e1e1e" >0.925</text>
<rect x="301.32" y="81.47" width="16.30" height="6.06" fill="#80a643" stroke="#1a1a1a" stroke-width="0.6"/>
<text x="309.47" y="86.24" font-size="4.9" text-anchor="middle" fill="#1e1e1e" >0.805</text>
<rect x="319.34" y="81.47" width="16.30" height="6.06" fill="#ba6963" stroke="#1a1a1a" stroke-width="0.6"/>
<text x="327.49" y="86.24" font-size="4.9" text-anchor="middle" fill="#1e1e1e" >0.578</text>
<rect x="337.36" y="81.47" width="16.30" height="6.06" fill="#a49058" stroke="#1a1a1a" stroke-width="0.6"/>
<text x="345.51" y="86.24" font-size="4.9" text-anchor="middle" fill="#1e1e1e" >0.676</text>
<rect x="355.38" y="81.47" width="16.30" height="6.06" fill="#979c4f" stroke="#1a1a1a" stroke-width="0.6"/>
<text x="363.53" y="86.24" font-size="4.9" text-anchor="middle" fill="#1e1e1e" >0.721</text>
<rect x="373.40" y="81.47" width="16.30" height="6.06" fill="#67af3d" stroke="#1a1a1a" stroke-width="0.6"/>
<text x="381.55" y="86.24" font-size="4.9" text-anchor="middle" fill="#1e1e1e" >0.868</text>
<text x="280.80" y="93.65" font-size="5.33" text-anchor="end" fill="#222" stroke="#222" stroke-width="0.1">Enet[alpha=0.7]</text>
<rect x="283.30" y="88.13" width="16.30" height="6.06" fill="#58b739" stroke="#1a1a1a" stroke-width="0.6"/>
<text x="291.45" y="92.90" font-size="4.9" text-anchor="middle" fill="#1e1e1e" >0.925</text>
<rect x="301.32" y="88.13" width="16.30" height="6.06" fill="#82a643" stroke="#1a1a1a" stroke-width="0.6"/>
<text x="309.47" y="92.90" font-size="4.9" text-anchor="middle" fill="#1e1e1e" >0.801</text>
<rect x="319.34" y="88.13" width="16.30" height="6.06" fill="#ba6c63" stroke="#1a1a1a" stroke-width="0.6"/>
<text x="327.49" y="92.90" font-size="4.9" text-anchor="middle" fill="#1e1e1e" >0.584</text>
<rect x="337.36" y="88.13" width="16.30" height="6.06" fill="#a68e59" stroke="#1a1a1a" stroke-width="0.6"/>
<text x="345.51" y="92.90" font-size="4.9" text-anchor="middle" fill="#1e1e1e" >0.671</text>
<rect x="355.38" y="88.13" width="16.30" height="6.06" fill="#9e9753" stroke="#1a1a1a" stroke-width="0.6"/>
<text x="363.53" y="92.90" font-size="4.9" text-anchor="middle" fill="#1e1e1e" >0.694</text>
<rect x="373.40" y="88.13" width="16.30" height="6.06" fill="#61b13c" stroke="#1a1a1a" stroke-width="0.6"/>
<text x="381.55" y="92.90" font-size="4.9" text-anchor="middle" fill="#1e1e1e" >0.884</text>
<text x="280.80" y="100.30" font-size="5.33" text-anchor="end" fill="#222" stroke="#222" stroke-width="0.1">Enet[alpha=0.9]</text>
<rect x="283.30" y="94.78" width="16.30" height="6.06" fill="#58b739" stroke="#1a1a1a" stroke-width="0.6"/>
<text x="291.45" y="99.55" font-size="4.9" text-anchor="middle" fill="#1e1e1e" >0.925</text>
<rect x="301.32" y="94.78" width="16.30" height="6.06" fill="#82a643" stroke="#1a1a1a" stroke-width="0.6"/>
<text x="309.47" y="99.55" font-size="4.9" text-anchor="middle" fill="#1e1e1e" >0.801</text>
<rect x="319.34" y="94.78" width="16.30" height="6.06" fill="#ba6b63" stroke="#1a1a1a" stroke-width="0.6"/>
<text x="327.49" y="99.55" font-size="4.9" text-anchor="middle" fill="#1e1e1e" >0.581</text>
<rect x="337.36" y="94.78" width="16.30" height="6.06" fill="#a78d59" stroke="#1a1a1a" stroke-width="0.6"/>
<text x="345.51" y="99.55" font-size="4.9" text-anchor="middle" fill="#1e1e1e" >0.669</text>
<rect x="355.38" y="94.78" width="16.30" height="6.06" fill="#9b9951" stroke="#1a1a1a" stroke-width="0.6"/>
<text x="363.53" y="99.55" font-size="4.9" text-anchor="middle" fill="#1e1e1e" >0.706</text>
<rect x="373.40" y="94.78" width="16.30" height="6.06" fill="#67af3d" stroke="#1a1a1a" stroke-width="0.6"/>
<text x="381.55" y="99.55" font-size="4.9" text-anchor="middle" fill="#1e1e1e" >0.870</text>
<text x="280.80" y="106.96" font-size="5.33" text-anchor="end" fill="#222" stroke="#222" stroke-width="0.1">Stepglm[both]+Enet[alpha=0.1]</text>
<rect x="283.30" y="101.44" width="16.30" height="6.06" fill="#58b739" stroke="#1a1a1a" stroke-width="0.6"/>
<text x="291.45" y="106.21" font-size="4.9" text-anchor="middle" fill="#1e1e1e" >0.924</text>
<rect x="301.32" y="101.44" width="16.30" height="6.06" fill="#81a643" stroke="#1a1a1a" stroke-width="0.6"/>
<text x="309.47" y="106.21" font-size="4.9" text-anchor="middle" fill="#1e1e1e" >0.804</text>
<rect x="319.34" y="101.44" width="16.30" height="6.06" fill="#ba6b63" stroke="#1a1a1a" stroke-width="0.6"/>
<text x="327.49" y="106.21" font-size="4.9" text-anchor="middle" fill="#1e1e1e" >0.582</text>
<rect x="337.36" y="101.44" width="16.30" height="6.06" fill="#a59058" stroke="#1a1a1a" stroke-width="0.6"/>
<text x="345.51" y="106.21" font-size="4.9" text-anchor="middle" fill="#1e1e1e" >0.675</text>
<rect x="355.38" y="101.44" width="16.30" height="6.06" fill="#9a9a51" stroke="#1a1a1a" stroke-width="0.6"/>
<text x="363.53" y="106.21" font-size="4.9" text-anchor="middle" fill="#1e1e1e" >0.709</text>
<rect x="373.40" y="101.44" width="16.30" height="6.06" fill="#67af3d" stroke="#1a1a1a" stroke-width="0.6"/>
<text x="381.55" y="106.21" font-size="4.9" text-anchor="middle" fill="#1e1e1e" >0.870</text>
<text x="280.80" y="113.62" font-size="5.33" text-anchor="end" fill="#222" stroke="#222" stroke-width="0.1">Stepglm[both]+Enet[alpha=0.2]</text>
<rect x="283.30" y="108.10" width="16.30" height="6.06" fill="#58b739" stroke="#1a1a1a" stroke-width="0.6"/>
<text x="291.45" y="112.87" font-size="4.9" text-anchor="middle" fill="#1e1e1e" >0.924</text>
<rect x="301.32" y="108.10" width="16.30" height="6.06" fill="#81a643" stroke="#1a1a1a" stroke-width="0.6"/>
<text x="309.47" y="112.87" font-size="4.9" text-anchor="middle" fill="#1e1e1e" >0.804</text>
<rect x="319.34" y="108.10" width="16.30" height="6.06" fill="#ba6b63" stroke="#1a1a1a" stroke-width="0.6"/>
<text x="327.49" y="112.87" font-size="4.9" text-anchor="middle" fill="#1e1e1e" >0.582</text>
<rect x="337.36" y="108.10" width="16.30" height="6.06" fill="#a59058" stroke="#1a1a1a" stroke-width="0.6"/>
<text x="345.51" y="112.87" font-size="4.9" text-anchor="middle" fill="#1e1e1e" >0.674</text>
<rect x="355.38" y="108.10" width="16.30" height="6.06" fill="#9b9951" stroke="#1a1a1a" stroke-width="0.6"/>
<text x="363.53" y="112.87" font-size="4.9" text-anchor="middle" fill="#1e1e1e" >0.705</text>
<rect x="373.40" y="108.10" width="16.30" height="6.06" fill="#67af3d" stroke="#1a1a1a" stroke-width="0.6"/>
<text x="381.55" y="112.87" font-size="4.9" text-anchor="middle" fill="#1e1e1e" >0.870</text>
<text x="280.80" y="120.28" font-size="5.33" text-anchor="end" fill="#222" stroke="#222" stroke-width="0.1">Stepglm[both]+Enet[alpha=0.5]</text>
<rect x="283.30" y="114.75" width="16.30" height="6.06" fill="#58b739" stroke="#1a1a1a" stroke-width="0.6"/>
<text x="291.45" y="119.52" font-size="4.9" text-anchor="middle" fill="#1e1e1e" >0.925</text>
<rect x="301.32" y="114.75" width="16.30" height="6.06" fill="#80a642" stroke="#1a1a1a" stroke-width="0.6"/>
<text x="309.47" y="119.52" font-size="4.9" text-anchor="middle" fill="#1e1e1e" >0.806</text>
<rect x="319.34" y="114.75" width="16.30" height="6.06" fill="#ba6b63" stroke="#1a1a1a" stroke-width="0.6"/>
<text x="327.49" y="119.52" font-size="4.9" text-anchor="middle" fill="#1e1e1e" >0.582</text>
<rect x="337.36" y="114.75" width="16.30" height="6.06" fill="#a49058" stroke="#1a1a1a" stroke-width="0.6"/>
<text x="345.51" y="119.52" font-size="4.9" text-anchor="middle" fill="#1e1e1e" >0.676</text>
<rect x="355.38" y="114.75" width="16.30" height="6.06" fill="#9c9952" stroke="#1a1a1a" stroke-width="0.6"/>
<text x="363.53" y="119.52" font-size="4.9" text-anchor="middle" fill="#1e1e1e" >0.701</text>
<rect x="373.40" y="114.75" width="16.30" height="6.06" fill="#67af3d" stroke="#1a1a1a" stroke-width="0.6"/>
<text x="381.55" y="119.52" font-size="4.9" text-anchor="middle" fill="#1e1e1e" >0.868</text>
<text x="280.80" y="126.93" font-size="5.33" text-anchor="end" fill="#222" stroke="#222" stroke-width="0.1">Stepglm[backward]+Enet[alpha=0.5]</text>
<rect x="283.30" y="121.41" width="16.30" height="6.06" fill="#58b739" stroke="#1a1a1a" stroke-width="0.6"/>
<text x="291.45" y="126.18" font-size="4.9" text-anchor="middle" fill="#1e1e1e" >0.925</text>
<rect x="301.32" y="121.41" width="16.30" height="6.06" fill="#80a642" stroke="#1a1a1a" stroke-width="0.6"/>
<text x="309.47" y="126.18" font-size="4.9" text-anchor="middle" fill="#1e1e1e" >0.806</text>
<rect x="319.34" y="121.41" width="16.30" height="6.06" fill="#ba6b63" stroke="#1a1a1a" stroke-width="0.6"/>
<text x="327.49" y="126.18" font-size="4.9" text-anchor="middle" fill="#1e1e1e" >0.581</text>
<rect x="337.36" y="121.41" width="16.30" height="6.06" fill="#a49058" stroke="#1a1a1a" stroke-width="0.6"/>
<text x="345.51" y="126.18" font-size="4.9" text-anchor="middle" fill="#1e1e1e" >0.676</text>
<rect x="355.38" y="121.41" width="16.30" height="6.06" fill="#9c9952" stroke="#1a1a1a" stroke-width="0.6"/>
<text x="363.53" y="126.18" font-size="4.9" text-anchor="middle" fill="#1e1e1e" >0.701</text>
<rect x="373.40" y="121.41" width="16.30" height="6.06" fill="#67af3d" stroke="#1a1a1a" stroke-width="0.6"/>
<text x="381.55" y="126.18" font-size="4.9" text-anchor="middle" fill="#1e1e1e" >0.868</text>
<text x="280.80" y="133.59" font-size="5.33" text-anchor="end" fill="#222" stroke="#222" stroke-width="0.1">Stepglm[both]+Enet[alpha=0.4]</text>
<rect x="283.30" y="128.07" width="16.30" height="6.06" fill="#58b739" stroke="#1a1a1a" stroke-width="0.6"/>
<text x="291.45" y="132.84" font-size="4.9" text-anchor="middle" fill="#1e1e1e" >0.925</text>
<rect x="301.32" y="128.07" width="16.30" height="6.06" fill="#80a642" stroke="#1a1a1a" stroke-width="0.6"/>
<text x="309.47" y="132.84" font-size="4.9" text-anchor="middle" fill="#1e1e1e" >0.806</text>
<rect x="319.34" y="128.07" width="16.30" height="6.06" fill="#ba6c63" stroke="#1a1a1a" stroke-width="0.6"/>
<text x="327.49" y="132.84" font-size="4.9" text-anchor="middle" fill="#1e1e1e" >0.583</text>
<rect x="337.36" y="128.07" width="16.30" height="6.06" fill="#a68f59" stroke="#1a1a1a" stroke-width="0.6"/>
<text x="345.51" y="132.84" font-size="4.9" text-anchor="middle" fill="#1e1e1e" >0.672</text>
<rect x="355.38" y="128.07" width="16.30" height="6.06" fill="#9b9951" stroke="#1a1a1a" stroke-width="0.6"/>
<text x="363.53" y="132.84" font-size="4.9" text-anchor="middle" fill="#1e1e1e" >0.704</text>
<rect x="373.40" y="128.07" width="16.30" height="6.06" fill="#67af3d" stroke="#1a1a1a" stroke-width="0.6"/>
<text x="381.55" y="132.84" font-size="4.9" text-anchor="middle" fill="#1e1e1e" >0.868</text>
<text x="280.80" y="140.25" font-size="5.33" text-anchor="end" fill="#222" stroke="#222" stroke-width="0.1">Stepglm[backward]+Enet[alpha=0.1]</text>
<rect x="283.30" y="134.73" width="16.30" height="6.06" fill="#58b739" stroke="#1a1a1a" stroke-width="0.6"/>
<text x="291.45" y="139.49" font-size="4.9" text-anchor="middle" fill="#1e1e1e" >0.925</text>
<rect x="301.32" y="134.73" width="16.30" height="6.06" fill="#80a643" stroke="#1a1a1a" stroke-width="0.6"/>
<text x="309.47" y="139.49" font-size="4.9" text-anchor="middle" fill="#1e1e1e" >0.805</text>
<rect x="319.34" y="134.73" width="16.30" height="6.06" fill="#ba6a63" stroke="#1a1a1a" stroke-width="0.6"/>
<text x="327.49" y="139.49" font-size="4.9" text-anchor="middle" fill="#1e1e1e" >0.580</text>
<rect x="337.36" y="134.73" width="16.30" height="6.06" fill="#a68e59" stroke="#1a1a1a" stroke-width="0.6"/>
<text x="345.51" y="139.49" font-size="4.9" text-anchor="middle" fill="#1e1e1e" >0.671</text>
<rect x="355.38" y="134.73" width="16.30" height="6.06" fill="#9b9951" stroke="#1a1a1a" stroke-width="0.6"/>
<text x="363.53" y="139.49" font-size="4.9" text-anchor="middle" fill="#1e1e1e" >0.706</text>
<rect x="373.40" y="134.73" width="16.30" height="6.06" fill="#67af3d" stroke="#1a1a1a" stroke-width="0.6"/>
<text x="381.55" y="139.49" font-size="4.9" text-anchor="middle" fill="#1e1e1e" >0.870</text>
<text x="280.80" y="146.90" font-size="5.33" text-anchor="end" fill="#222" stroke="#222" stroke-width="0.1">Stepglm[backward]+Enet[alpha=0.3]</text>
<rect x="283.30" y="141.38" width="16.30" height="6.06" fill="#58b739" stroke="#1a1a1a" stroke-width="0.6"/>
<text x="291.45" y="146.15" font-size="4.9" text-anchor="middle" fill="#1e1e1e" >0.924</text>
<rect x="301.32" y="141.38" width="16.30" height="6.06" fill="#81a643" stroke="#1a1a1a" stroke-width="0.6"/>
<text x="309.47" y="146.15" font-size="4.9" text-anchor="middle" fill="#1e1e1e" >0.804</text>
<rect x="319.34" y="141.38" width="16.30" height="6.06" fill="#ba6b63" stroke="#1a1a1a" stroke-width="0.6"/>
<text x="327.49" y="146.15" font-size="4.9" text-anchor="middle" fill="#1e1e1e" >0.582</text>
<rect x="337.36" y="141.38" width="16.30" height="6.06" fill="#a68f59" stroke="#1a1a1a" stroke-width="0.6"/>
<text x="345.51" y="146.15" font-size="4.9" text-anchor="middle" fill="#1e1e1e" >0.672</text>
<rect x="355.38" y="141.38" width="16.30" height="6.06" fill="#9b9951" stroke="#1a1a1a" stroke-width="0.6"/>
<text x="363.53" y="146.15" font-size="4.9" text-anchor="middle" fill="#1e1e1e" >0.706</text>
<rect x="373.40" y="141.38" width="16.30" height="6.06" fill="#67af3d" stroke="#1a1a1a" stroke-width="0.6"/>
<text x="381.55" y="146.15" font-size="4.9" text-anchor="middle" fill="#1e1e1e" >0.868</text>
<text x="280.80" y="153.56" font-size="5.33" text-anchor="end" fill="#222" stroke="#222" stroke-width="0.1">Stepglm[backward]+Enet[alpha=0.4]</text>
<rect x="283.30" y="148.04" width="16.30" height="6.06" fill="#58b739" stroke="#1a1a1a" stroke-width="0.6"/>
<text x="291.45" y="152.81" font-size="4.9" text-anchor="middle" fill="#1e1e1e" >0.925</text>
<rect x="301.32" y="148.04" width="16.30" height="6.06" fill="#80a642" stroke="#1a1a1a" stroke-width="0.6"/>
<text x="309.47" y="152.81" font-size="4.9" text-anchor="middle" fill="#1e1e1e" >0.806</text>
<rect x="319.34" y="148.04" width="16.30" height="6.06" fill="#ba6b63" stroke="#1a1a1a" stroke-width="0.6"/>
<text x="327.49" y="152.81" font-size="4.9" text-anchor="middle" fill="#1e1e1e" >0.581</text>
<rect x="337.36" y="148.04" width="16.30" height="6.06" fill="#a68f59" stroke="#1a1a1a" stroke-width="0.6"/>
<text x="345.51" y="152.81" font-size="4.9" text-anchor="middle" fill="#1e1e1e" >0.672</text>
<rect x="355.38" y="148.04" width="16.30" height="6.06" fill="#9c9952" stroke="#1a1a1a" stroke-width="0.6"/>
<text x="363.53" y="152.81" font-size="4.9" text-anchor="middle" fill="#1e1e1e" >0.701</text>
<rect x="373.40" y="148.04" width="16.30" height="6.06" fill="#67af3d" stroke="#1a1a1a" stroke-width="0.6"/>
<text x="381.55" y="152.81" font-size="4.9" text-anchor="middle" fill="#1e1e1e" >0.868</text>
<text x="280.80" y="160.22" font-size="5.33" text-anchor="end" fill="#222" stroke="#222" stroke-width="0.1">Stepglm[both]+Enet[alpha=0.6]</text>
<rect x="283.30" y="154.70" width="16.30" height="6.06" fill="#58b739" stroke="#1a1a1a" stroke-width="0.6"/>
<text x="291.45" y="159.46" font-size="4.9" text-anchor="middle" fill="#1e1e1e" >0.925</text>
<rect x="301.32" y="154.70" width="16.30" height="6.06" fill="#7fa642" stroke="#1a1a1a" stroke-width="0.6"/>
<text x="309.47" y="159.46" font-size="4.9" text-anchor="middle" fill="#1e1e1e" >0.807</text>
<rect x="319.34" y="154.70" width="16.30" height="6.06" fill="#ba6a63" stroke="#1a1a1a" stroke-width="0.6"/>
<text x="327.49" y="159.46" font-size="4.9" text-anchor="middle" fill="#1e1e1e" >0.580</text>
<rect x="337.36" y="154.70" width="16.30" height="6.06" fill="#a59058" stroke="#1a1a1a" stroke-width="0.6"/>
<text x="345.51" y="159.46" font-size="4.9" text-anchor="middle" fill="#1e1e1e" >0.674</text>
<rect x="355.38" y="154.70" width="16.30" height="6.06" fill="#9c9952" stroke="#1a1a1a" stroke-width="0.6"/>
<text x="363.53" y="159.46" font-size="4.9" text-anchor="middle" fill="#1e1e1e" >0.701</text>
<rect x="373.40" y="154.70" width="16.30" height="6.06" fill="#69ae3e" stroke="#1a1a1a" stroke-width="0.6"/>
<text x="381.55" y="159.46" font-size="4.9" text-anchor="middle" fill="#1e1e1e" >0.865</text>
<text x="280.80" y="166.87" font-size="5.33" text-anchor="end" fill="#222" stroke="#222" stroke-width="0.1">Stepglm[both]+Enet[alpha=0.7]</text>
<rect x="283.30" y="161.35" width="16.30" height="6.06" fill="#58b739" stroke="#1a1a1a" stroke-width="0.6"/>
<text x="291.45" y="166.12" font-size="4.9" text-anchor="middle" fill="#1e1e1e" >0.925</text>
<rect x="301.32" y="161.35" width="16.30" height="6.06" fill="#80a642" stroke="#1a1a1a" stroke-width="0.6"/>
<text x="309.47" y="166.12" font-size="4.9" text-anchor="middle" fill="#1e1e1e" >0.806</text>
<rect x="319.34" y="161.35" width="16.30" height="6.06" fill="#ba6b63" stroke="#1a1a1a" stroke-width="0.6"/>
<text x="327.49" y="166.12" font-size="4.9" text-anchor="middle" fill="#1e1e1e" >0.582</text>
<rect x="337.36" y="161.35" width="16.30" height="6.06" fill="#a68f59" stroke="#1a1a1a" stroke-width="0.6"/>
<text x="345.51" y="166.12" font-size="4.9" text-anchor="middle" fill="#1e1e1e" >0.672</text>
<rect x="355.38" y="161.35" width="16.30" height="6.06" fill="#9c9952" stroke="#1a1a1a" stroke-width="0.6"/>
<text x="363.53" y="166.12" font-size="4.9" text-anchor="middle" fill="#1e1e1e" >0.701</text>
<rect x="373.40" y="161.35" width="16.30" height="6.06" fill="#67af3d" stroke="#1a1a1a" stroke-width="0.6"/>
<text x="381.55" y="166.12" font-size="4.9" text-anchor="middle" fill="#1e1e1e" >0.868</text>
<text x="280.80" y="173.53" font-size="5.33" text-anchor="end" fill="#222" stroke="#222" stroke-width="0.1">Enet[alpha=0.8]</text>
<rect x="283.30" y="168.01" width="16.30" height="6.06" fill="#58b739" stroke="#1a1a1a" stroke-width="0.6"/>
<text x="291.45" y="172.78" font-size="4.9" text-anchor="middle" fill="#1e1e1e" >0.925</text>
<rect x="301.32" y="168.01" width="16.30" height="6.06" fill="#82a543" stroke="#1a1a1a" stroke-width="0.6"/>
<text x="309.47" y="172.78" font-size="4.9" text-anchor="middle" fill="#1e1e1e" >0.799</text>
<rect x="319.34" y="168.01" width="16.30" height="6.06" fill="#ba6c63" stroke="#1a1a1a" stroke-width="0.6"/>
<text x="327.49" y="172.78" font-size="4.9" text-anchor="middle" fill="#1e1e1e" >0.584</text>
<rect x="337.36" y="168.01" width="16.30" height="6.06" fill="#a88b5a" stroke="#1a1a1a" stroke-width="0.6"/>
<text x="345.51" y="172.78" font-size="4.9" text-anchor="middle" fill="#1e1e1e" >0.664</text>
<rect x="355.38" y="168.01" width="16.30" height="6.06" fill="#9f9654" stroke="#1a1a1a" stroke-width="0.6"/>
<text x="363.53" y="172.78" font-size="4.9" text-anchor="middle" fill="#1e1e1e" >0.691</text>
<rect x="373.40" y="168.01" width="16.30" height="6.06" fill="#62b03c" stroke="#1a1a1a" stroke-width="0.6"/>
<text x="381.55" y="172.78" font-size="4.9" text-anchor="middle" fill="#1e1e1e" >0.881</text>
<text x="280.80" y="180.19" font-size="5.33" text-anchor="end" fill="#222" stroke="#222" stroke-width="0.1">Stepglm[backward]+Enet[alpha=0.6]</text>
<rect x="283.30" y="174.67" width="16.30" height="6.06" fill="#57b739" stroke="#1a1a1a" stroke-width="0.6"/>
<text x="291.45" y="179.44" font-size="4.9" text-anchor="middle" fill="#1e1e1e" >0.926</text>
<rect x="301.32" y="174.67" width="16.30" height="6.06" fill="#80a642" stroke="#1a1a1a" stroke-width="0.6"/>
<text x="309.47" y="179.44" font-size="4.9" text-anchor="middle" fill="#1e1e1e" >0.806</text>
<rect x="319.34" y="174.67" width="16.30" height="6.06" fill="#ba6963" stroke="#1a1a1a" stroke-width="0.6"/>
<text x="327.49" y="179.44" font-size="4.9" text-anchor="middle" fill="#1e1e1e" >0.577</text>
<rect x="337.36" y="174.67" width="16.30" height="6.06" fill="#a59058" stroke="#1a1a1a" stroke-width="0.6"/>
<text x="345.51" y="179.44" font-size="4.9" text-anchor="middle" fill="#1e1e1e" >0.674</text>
<rect x="355.38" y="174.67" width="16.30" height="6.06" fill="#9c9952" stroke="#1a1a1a" stroke-width="0.6"/>
<text x="363.53" y="179.44" font-size="4.9" text-anchor="middle" fill="#1e1e1e" >0.702</text>
<rect x="373.40" y="174.67" width="16.30" height="6.06" fill="#6aae3e" stroke="#1a1a1a" stroke-width="0.6"/>
<text x="381.55" y="179.44" font-size="4.9" text-anchor="middle" fill="#1e1e1e" >0.862</text>
<text x="280.80" y="186.85" font-size="5.33" text-anchor="end" fill="#222" stroke="#222" stroke-width="0.1">Stepglm[both]+Enet[alpha=0.9]</text>
<rect x="283.30" y="181.33" width="16.30" height="6.06" fill="#57b739" stroke="#1a1a1a" stroke-width="0.6"/>
<text x="291.45" y="186.09" font-size="4.9" text-anchor="middle" fill="#1e1e1e" >0.926</text>
<rect x="301.32" y="181.33" width="16.30" height="6.06" fill="#7fa642" stroke="#1a1a1a" stroke-width="0.6"/>
<text x="309.47" y="186.09" font-size="4.9" text-anchor="middle" fill="#1e1e1e" >0.807</text>
<rect x="319.34" y="181.33" width="16.30" height="6.06" fill="#ba6963" stroke="#1a1a1a" stroke-width="0.6"/>
<text x="327.49" y="186.09" font-size="4.9" text-anchor="middle" fill="#1e1e1e" >0.578</text>
<rect x="337.36" y="181.33" width="16.30" height="6.06" fill="#a78d59" stroke="#1a1a1a" stroke-width="0.6"/>
<text x="345.51" y="186.09" font-size="4.9" text-anchor="middle" fill="#1e1e1e" >0.669</text>
<rect x="355.38" y="181.33" width="16.30" height="6.06" fill="#9a9a51" stroke="#1a1a1a" stroke-width="0.6"/>
<text x="363.53" y="186.09" font-size="4.9" text-anchor="middle" fill="#1e1e1e" >0.708</text>
<rect x="373.40" y="181.33" width="16.30" height="6.06" fill="#6bae3e" stroke="#1a1a1a" stroke-width="0.6"/>
<text x="381.55" y="186.09" font-size="4.9" text-anchor="middle" fill="#1e1e1e" >0.860</text>
<text x="280.80" y="193.50" font-size="5.33" text-anchor="end" fill="#222" stroke="#222" stroke-width="0.1">Stepglm[backward]+Enet[alpha=0.2]</text>
<rect x="283.30" y="187.98" width="16.30" height="6.06" fill="#58b739" stroke="#1a1a1a" stroke-width="0.6"/>
<text x="291.45" y="192.75" font-size="4.9" text-anchor="middle" fill="#1e1e1e" >0.925</text>
<rect x="301.32" y="187.98" width="16.30" height="6.06" fill="#7fa742" stroke="#1a1a1a" stroke-width="0.6"/>
<text x="309.47" y="192.75" font-size="4.9" text-anchor="middle" fill="#1e1e1e" >0.808</text>
<rect x="319.34" y="187.98" width="16.30" height="6.06" fill="#ba6963" stroke="#1a1a1a" stroke-width="0.6"/>
<text x="327.49" y="192.75" font-size="4.9" text-anchor="middle" fill="#1e1e1e" >0.578</text>
<rect x="337.36" y="187.98" width="16.30" height="6.06" fill="#a68e59" stroke="#1a1a1a" stroke-width="0.6"/>
<text x="345.51" y="192.75" font-size="4.9" text-anchor="middle" fill="#1e1e1e" >0.671</text>
<rect x="355.38" y="187.98" width="16.30" height="6.06" fill="#9c9952" stroke="#1a1a1a" stroke-width="0.6"/>
<text x="363.53" y="192.75" font-size="4.9" text-anchor="middle" fill="#1e1e1e" >0.701</text>
<rect x="373.40" y="187.98" width="16.30" height="6.06" fill="#68ae3e" stroke="#1a1a1a" stroke-width="0.6"/>
<text x="381.55" y="192.75" font-size="4.9" text-anchor="middle" fill="#1e1e1e" >0.866</text>
<text x="280.80" y="200.16" font-size="5.33" text-anchor="end" fill="#222" stroke="#222" stroke-width="0.1">Stepglm[backward]+Enet[alpha=0.7]</text>
<rect x="283.30" y="194.64" width="16.30" height="6.06" fill="#57b739" stroke="#1a1a1a" stroke-width="0.6"/>
<text x="291.45" y="199.41" font-size="4.9" text-anchor="middle" fill="#1e1e1e" >0.926</text>
<rect x="301.32" y="194.64" width="16.30" height="6.06" fill="#7fa642" stroke="#1a1a1a" stroke-width="0.6"/>
<text x="309.47" y="199.41" font-size="4.9" text-anchor="middle" fill="#1e1e1e" >0.807</text>
<rect x="319.34" y="194.64" width="16.30" height="6.06" fill="#ba6963" stroke="#1a1a1a" stroke-width="0.6"/>
<text x="327.49" y="199.41" font-size="4.9" text-anchor="middle" fill="#1e1e1e" >0.577</text>
<rect x="337.36" y="194.64" width="16.30" height="6.06" fill="#a78d59" stroke="#1a1a1a" stroke-width="0.6"/>
<text x="345.51" y="199.41" font-size="4.9" text-anchor="middle" fill="#1e1e1e" >0.668</text>
<rect x="355.38" y="194.64" width="16.30" height="6.06" fill="#9b9951" stroke="#1a1a1a" stroke-width="0.6"/>
<text x="363.53" y="199.41" font-size="4.9" text-anchor="middle" fill="#1e1e1e" >0.706</text>
<rect x="373.40" y="194.64" width="16.30" height="6.06" fill="#6aae3e" stroke="#1a1a1a" stroke-width="0.6"/>
<text x="381.55" y="199.41" font-size="4.9" text-anchor="middle" fill="#1e1e1e" >0.862</text>
<text x="280.80" y="206.82" font-size="5.33" text-anchor="end" fill="#222" stroke="#222" stroke-width="0.1">Stepglm[backward]+Lasso</text>
<rect x="283.30" y="201.30" width="16.30" height="6.06" fill="#57b739" stroke="#1a1a1a" stroke-width="0.6"/>
<text x="291.45" y="206.06" font-size="4.9" text-anchor="middle" fill="#1e1e1e" >0.926</text>
<rect x="301.32" y="201.30" width="16.30" height="6.06" fill="#7fa642" stroke="#1a1a1a" stroke-width="0.6"/>
<text x="309.47" y="206.06" font-size="4.9" text-anchor="middle" fill="#1e1e1e" >0.807</text>
<rect x="319.34" y="201.30" width="16.30" height="6.06" fill="#ba6963" stroke="#1a1a1a" stroke-width="0.6"/>
<text x="327.49" y="206.06" font-size="4.9" text-anchor="middle" fill="#1e1e1e" >0.577</text>
<rect x="337.36" y="201.30" width="16.30" height="6.06" fill="#a78d59" stroke="#1a1a1a" stroke-width="0.6"/>
<text x="345.51" y="206.06" font-size="4.9" text-anchor="middle" fill="#1e1e1e" >0.668</text>
<rect x="355.38" y="201.30" width="16.30" height="6.06" fill="#9b9951" stroke="#1a1a1a" stroke-width="0.6"/>
<text x="363.53" y="206.06" font-size="4.9" text-anchor="middle" fill="#1e1e1e" >0.704</text>
<rect x="373.40" y="201.30" width="16.30" height="6.06" fill="#6aae3e" stroke="#1a1a1a" stroke-width="0.6"/>
<text x="381.55" y="206.06" font-size="4.9" text-anchor="middle" fill="#1e1e1e" >0.862</text>
<text x="280.80" y="213.47" font-size="5.33" text-anchor="end" fill="#222" stroke="#222" stroke-width="0.1">Stepglm[both]+Lasso</text>
<rect x="283.30" y="207.95" width="16.30" height="6.06" fill="#57b739" stroke="#1a1a1a" stroke-width="0.6"/>
<text x="291.45" y="212.72" font-size="4.9" text-anchor="middle" fill="#1e1e1e" >0.926</text>
<rect x="301.32" y="207.95" width="16.30" height="6.06" fill="#7fa642" stroke="#1a1a1a" stroke-width="0.6"/>
<text x="309.47" y="212.72" font-size="4.9" text-anchor="middle" fill="#1e1e1e" >0.807</text>
<rect x="319.34" y="207.95" width="16.30" height="6.06" fill="#ba6963" stroke="#1a1a1a" stroke-width="0.6"/>
<text x="327.49" y="212.72" font-size="4.9" text-anchor="middle" fill="#1e1e1e" >0.577</text>
<rect x="337.36" y="207.95" width="16.30" height="6.06" fill="#a78d59" stroke="#1a1a1a" stroke-width="0.6"/>
<text x="345.51" y="212.72" font-size="4.9" text-anchor="middle" fill="#1e1e1e" >0.668</text>
<rect x="355.38" y="207.95" width="16.30" height="6.06" fill="#9b9951" stroke="#1a1a1a" stroke-width="0.6"/>
<text x="363.53" y="212.72" font-size="4.9" text-anchor="middle" fill="#1e1e1e" >0.704</text>
<rect x="373.40" y="207.95" width="16.30" height="6.06" fill="#6aae3e" stroke="#1a1a1a" stroke-width="0.6"/>
<text x="381.55" y="212.72" font-size="4.9" text-anchor="middle" fill="#1e1e1e" >0.862</text>
<text x="280.80" y="220.13" font-size="5.33" text-anchor="end" fill="#222" stroke="#222" stroke-width="0.1">Stepglm[both]+Enet[alpha=0.8]</text>
<rect x="283.30" y="214.61" width="16.30" height="6.06" fill="#57b739" stroke="#1a1a1a" stroke-width="0.6"/>
<text x="291.45" y="219.38" font-size="4.9" text-anchor="middle" fill="#1e1e1e" >0.926</text>
<rect x="301.32" y="214.61" width="16.30" height="6.06" fill="#7fa642" stroke="#1a1a1a" stroke-width="0.6"/>
<text x="309.47" y="219.38" font-size="4.9" text-anchor="middle" fill="#1e1e1e" >0.807</text>
<rect x="319.34" y="214.61" width="16.30" height="6.06" fill="#ba6963" stroke="#1a1a1a" stroke-width="0.6"/>
<text x="327.49" y="219.38" font-size="4.9" text-anchor="middle" fill="#1e1e1e" >0.576</text>
<rect x="337.36" y="214.61" width="16.30" height="6.06" fill="#a78d59" stroke="#1a1a1a" stroke-width="0.6"/>
<text x="345.51" y="219.38" font-size="4.9" text-anchor="middle" fill="#1e1e1e" >0.668</text>
<rect x="355.38" y="214.61" width="16.30" height="6.06" fill="#9b9951" stroke="#1a1a1a" stroke-width="0.6"/>
<text x="363.53" y="219.38" font-size="4.9" text-anchor="middle" fill="#1e1e1e" >0.706</text>
<rect x="373.40" y="214.61" width="16.30" height="6.06" fill="#6bae3e" stroke="#1a1a1a" stroke-width="0.6"/>
<text x="381.55" y="219.38" font-size="4.9" text-anchor="middle" fill="#1e1e1e" >0.860</text>
<text x="280.80" y="226.79" font-size="5.33" text-anchor="end" fill="#222" stroke="#222" stroke-width="0.1">Ridge</text>
<rect x="283.30" y="221.27" width="16.30" height="6.06" fill="#5ab63a" stroke="#1a1a1a" stroke-width="0.6"/>
<text x="291.45" y="226.03" font-size="4.9" text-anchor="middle" fill="#1e1e1e" >0.915</text>
<rect x="301.32" y="221.27" width="16.30" height="6.06" fill="#7aa841" stroke="#1a1a1a" stroke-width="0.6"/>
<text x="309.47" y="226.03" font-size="4.9" text-anchor="middle" fill="#1e1e1e" >0.820</text>
<rect x="319.34" y="221.27" width="16.30" height="6.06" fill="#b37c5e" stroke="#1a1a1a" stroke-width="0.6"/>
<text x="327.49" y="226.03" font-size="4.9" text-anchor="middle" fill="#1e1e1e" >0.626</text>
<rect x="337.36" y="221.27" width="16.30" height="6.06" fill="#ae825d" stroke="#1a1a1a" stroke-width="0.6"/>
<text x="345.51" y="226.03" font-size="4.9" text-anchor="middle" fill="#1e1e1e" >0.644</text>
<rect x="355.38" y="221.27" width="16.30" height="6.06" fill="#a78d59" stroke="#1a1a1a" stroke-width="0.6"/>
<text x="363.53" y="226.03" font-size="4.9" text-anchor="middle" fill="#1e1e1e" >0.668</text>
<rect x="373.40" y="221.27" width="16.30" height="6.06" fill="#67af3d" stroke="#1a1a1a" stroke-width="0.6"/>
<text x="381.55" y="226.03" font-size="4.9" text-anchor="middle" fill="#1e1e1e" >0.870</text>
<text x="280.80" y="233.44" font-size="5.33" text-anchor="end" fill="#222" stroke="#222" stroke-width="0.1">Stepglm[backward]+Ridge</text>
<rect x="283.30" y="227.92" width="16.30" height="6.06" fill="#59b63a" stroke="#1a1a1a" stroke-width="0.6"/>
<text x="291.45" y="232.69" font-size="4.9" text-anchor="middle" fill="#1e1e1e" >0.916</text>
<rect x="301.32" y="227.92" width="16.30" height="6.06" fill="#83a543" stroke="#1a1a1a" stroke-width="0.6"/>
<text x="309.47" y="232.69" font-size="4.9" text-anchor="middle" fill="#1e1e1e" >0.798</text>
<rect x="319.34" y="227.92" width="16.30" height="6.06" fill="#b77760" stroke="#1a1a1a" stroke-width="0.6"/>
<text x="327.49" y="232.69" font-size="4.9" text-anchor="middle" fill="#1e1e1e" >0.610</text>
<rect x="337.36" y="227.92" width="16.30" height="6.06" fill="#a88b5a" stroke="#1a1a1a" stroke-width="0.6"/>
<text x="345.51" y="232.69" font-size="4.9" text-anchor="middle" fill="#1e1e1e" >0.664</text>
<rect x="355.38" y="227.92" width="16.30" height="6.06" fill="#a09554" stroke="#1a1a1a" stroke-width="0.6"/>
<text x="363.53" y="232.69" font-size="4.9" text-anchor="middle" fill="#1e1e1e" >0.690</text>
<rect x="373.40" y="227.92" width="16.30" height="6.06" fill="#69ae3e" stroke="#1a1a1a" stroke-width="0.6"/>
<text x="381.55" y="232.69" font-size="4.9" text-anchor="middle" fill="#1e1e1e" >0.865</text>
<text x="280.80" y="240.10" font-size="5.33" text-anchor="end" fill="#222" stroke="#222" stroke-width="0.1">Stepglm[both]+Ridge</text>
<rect x="283.30" y="234.58" width="16.30" height="6.06" fill="#59b63a" stroke="#1a1a1a" stroke-width="0.6"/>
<text x="291.45" y="239.35" font-size="4.9" text-anchor="middle" fill="#1e1e1e" >0.916</text>
<rect x="301.32" y="234.58" width="16.30" height="6.06" fill="#83a543" stroke="#1a1a1a" stroke-width="0.6"/>
<text x="309.47" y="239.35" font-size="4.9" text-anchor="middle" fill="#1e1e1e" >0.798</text>
<rect x="319.34" y="234.58" width="16.30" height="6.06" fill="#b77760" stroke="#1a1a1a" stroke-width="0.6"/>
<text x="327.49" y="239.35" font-size="4.9" text-anchor="middle" fill="#1e1e1e" >0.610</text>
<rect x="337.36" y="234.58" width="16.30" height="6.06" fill="#a88b5a" stroke="#1a1a1a" stroke-width="0.6"/>
<text x="345.51" y="239.35" font-size="4.9" text-anchor="middle" fill="#1e1e1e" >0.664</text>
<rect x="355.38" y="234.58" width="16.30" height="6.06" fill="#a09554" stroke="#1a1a1a" stroke-width="0.6"/>
<text x="363.53" y="239.35" font-size="4.9" text-anchor="middle" fill="#1e1e1e" >0.690</text>
<rect x="373.40" y="234.58" width="16.30" height="6.06" fill="#69ae3e" stroke="#1a1a1a" stroke-width="0.6"/>
<text x="381.55" y="239.35" font-size="4.9" text-anchor="middle" fill="#1e1e1e" >0.865</text>
<text x="280.80" y="246.76" font-size="5.33" text-anchor="end" fill="#222" stroke="#222" stroke-width="0.1">Lasso</text>
<rect x="283.30" y="241.24" width="16.30" height="6.06" fill="#58b739" stroke="#1a1a1a" stroke-width="0.6"/>
<text x="291.45" y="246.01" font-size="4.9" text-anchor="middle" fill="#1e1e1e" >0.924</text>
<rect x="301.32" y="241.24" width="16.30" height="6.06" fill="#84a544" stroke="#1a1a1a" stroke-width="0.6"/>
<text x="309.47" y="246.01" font-size="4.9" text-anchor="middle" fill="#1e1e1e" >0.795</text>
<rect x="319.34" y="241.24" width="16.30" height="6.06" fill="#b97261" stroke="#1a1a1a" stroke-width="0.6"/>
<text x="327.49" y="246.01" font-size="4.9" text-anchor="middle" fill="#1e1e1e" >0.598</text>
<rect x="337.36" y="241.24" width="16.30" height="6.06" fill="#a9895a" stroke="#1a1a1a" stroke-width="0.6"/>
<text x="345.51" y="246.01" font-size="4.9" text-anchor="middle" fill="#1e1e1e" >0.661</text>
<rect x="355.38" y="241.24" width="16.30" height="6.06" fill="#a29356" stroke="#1a1a1a" stroke-width="0.6"/>
<text x="363.53" y="246.01" font-size="4.9" text-anchor="middle" fill="#1e1e1e" >0.683</text>
<rect x="373.40" y="241.24" width="16.30" height="6.06" fill="#61b13c" stroke="#1a1a1a" stroke-width="0.6"/>
<text x="381.55" y="246.01" font-size="4.9" text-anchor="middle" fill="#1e1e1e" >0.884</text>
<text x="280.80" y="253.42" font-size="5.33" text-anchor="end" fill="#222" stroke="#222" stroke-width="0.1">Stepglm[both]+Enet[alpha=0.3]</text>
<rect x="283.30" y="247.90" width="16.30" height="6.06" fill="#58b739" stroke="#1a1a1a" stroke-width="0.6"/>
<text x="291.45" y="252.66" font-size="4.9" text-anchor="middle" fill="#1e1e1e" >0.925</text>
<rect x="301.32" y="247.90" width="16.30" height="6.06" fill="#81a643" stroke="#1a1a1a" stroke-width="0.6"/>
<text x="309.47" y="252.66" font-size="4.9" text-anchor="middle" fill="#1e1e1e" >0.804</text>
<rect x="319.34" y="247.90" width="16.30" height="6.06" fill="#ba6963" stroke="#1a1a1a" stroke-width="0.6"/>
<text x="327.49" y="252.66" font-size="4.9" text-anchor="middle" fill="#1e1e1e" >0.578</text>
<rect x="337.36" y="247.90" width="16.30" height="6.06" fill="#a78d59" stroke="#1a1a1a" stroke-width="0.6"/>
<text x="345.51" y="252.66" font-size="4.9" text-anchor="middle" fill="#1e1e1e" >0.668</text>
<rect x="355.38" y="247.90" width="16.30" height="6.06" fill="#9d9852" stroke="#1a1a1a" stroke-width="0.6"/>
<text x="363.53" y="252.66" font-size="4.9" text-anchor="middle" fill="#1e1e1e" >0.698</text>
<rect x="373.40" y="247.90" width="16.30" height="6.06" fill="#69ae3e" stroke="#1a1a1a" stroke-width="0.6"/>
<text x="381.55" y="252.66" font-size="4.9" text-anchor="middle" fill="#1e1e1e" >0.865</text>
<text x="280.80" y="260.07" font-size="5.33" text-anchor="end" fill="#222" stroke="#222" stroke-width="0.1">Stepglm[forward]</text>
<rect x="283.30" y="254.55" width="16.30" height="6.06" fill="#57b839" stroke="#1a1a1a" stroke-width="0.6"/>
<text x="291.45" y="259.32" font-size="4.9" text-anchor="middle" fill="#1e1e1e" >0.927</text>
<rect x="301.32" y="254.55" width="16.30" height="6.06" fill="#88a346" stroke="#1a1a1a" stroke-width="0.6"/>
<text x="309.47" y="259.32" font-size="4.9" text-anchor="middle" fill="#1e1e1e" >0.781</text>
<rect x="319.34" y="254.55" width="16.30" height="6.06" fill="#ba6664" stroke="#1a1a1a" stroke-width="0.6"/>
<text x="327.49" y="259.32" font-size="4.9" text-anchor="middle" fill="#1e1e1e" >0.570</text>
<rect x="337.36" y="254.55" width="16.30" height="6.06" fill="#a68f59" stroke="#1a1a1a" stroke-width="0.6"/>
<text x="345.51" y="259.32" font-size="4.9" text-anchor="middle" fill="#1e1e1e" >0.672</text>
<rect x="355.38" y="254.55" width="16.30" height="6.06" fill="#9c9952" stroke="#1a1a1a" stroke-width="0.6"/>
<text x="363.53" y="259.32" font-size="4.9" text-anchor="middle" fill="#1e1e1e" >0.702</text>
<rect x="373.40" y="254.55" width="16.30" height="6.06" fill="#61b13c" stroke="#1a1a1a" stroke-width="0.6"/>
<text x="381.55" y="259.32" font-size="4.9" text-anchor="middle" fill="#1e1e1e" >0.884</text>
<text x="280.80" y="266.73" font-size="5.33" text-anchor="end" fill="#222" stroke="#222" stroke-width="0.1">Stepglm[backward]+Enet[alpha=0.8]</text>
<rect x="283.30" y="261.21" width="16.30" height="6.06" fill="#57b739" stroke="#1a1a1a" stroke-width="0.6"/>
<text x="291.45" y="265.98" font-size="4.9" text-anchor="middle" fill="#1e1e1e" >0.926</text>
<rect x="301.32" y="261.21" width="16.30" height="6.06" fill="#7fa742" stroke="#1a1a1a" stroke-width="0.6"/>
<text x="309.47" y="265.98" font-size="4.9" text-anchor="middle" fill="#1e1e1e" >0.808</text>
<rect x="319.34" y="261.21" width="16.30" height="6.06" fill="#ba6864" stroke="#1a1a1a" stroke-width="0.6"/>
<text x="327.49" y="265.98" font-size="4.9" text-anchor="middle" fill="#1e1e1e" >0.575</text>
<rect x="337.36" y="261.21" width="16.30" height="6.06" fill="#a88b5a" stroke="#1a1a1a" stroke-width="0.6"/>
<text x="345.51" y="265.98" font-size="4.9" text-anchor="middle" fill="#1e1e1e" >0.664</text>
<rect x="355.38" y="261.21" width="16.30" height="6.06" fill="#9c9952" stroke="#1a1a1a" stroke-width="0.6"/>
<text x="363.53" y="265.98" font-size="4.9" text-anchor="middle" fill="#1e1e1e" >0.702</text>
<rect x="373.40" y="261.21" width="16.30" height="6.06" fill="#6dad3e" stroke="#1a1a1a" stroke-width="0.6"/>
<text x="381.55" y="265.98" font-size="4.9" text-anchor="middle" fill="#1e1e1e" >0.854</text>
<text x="280.80" y="273.39" font-size="5.33" text-anchor="end" fill="#222" stroke="#222" stroke-width="0.1">Stepglm[backward]+Enet[alpha=0.9]</text>
<rect x="283.30" y="267.87" width="16.30" height="6.06" fill="#57b739" stroke="#1a1a1a" stroke-width="0.6"/>
<text x="291.45" y="272.63" font-size="4.9" text-anchor="middle" fill="#1e1e1e" >0.926</text>
<rect x="301.32" y="267.87" width="16.30" height="6.06" fill="#7fa742" stroke="#1a1a1a" stroke-width="0.6"/>
<text x="309.47" y="272.63" font-size="4.9" text-anchor="middle" fill="#1e1e1e" >0.808</text>
<rect x="319.34" y="267.87" width="16.30" height="6.06" fill="#ba6864" stroke="#1a1a1a" stroke-width="0.6"/>
<text x="327.49" y="272.63" font-size="4.9" text-anchor="middle" fill="#1e1e1e" >0.575</text>
<rect x="337.36" y="267.87" width="16.30" height="6.06" fill="#a9895a" stroke="#1a1a1a" stroke-width="0.6"/>
<text x="345.51" y="272.63" font-size="4.9" text-anchor="middle" fill="#1e1e1e" >0.661</text>
<rect x="355.38" y="267.87" width="16.30" height="6.06" fill="#9c9952" stroke="#1a1a1a" stroke-width="0.6"/>
<text x="363.53" y="272.63" font-size="4.9" text-anchor="middle" fill="#1e1e1e" >0.702</text>
<rect x="373.40" y="267.87" width="16.30" height="6.06" fill="#6cad3e" stroke="#1a1a1a" stroke-width="0.6"/>
<text x="381.55" y="272.63" font-size="4.9" text-anchor="middle" fill="#1e1e1e" >0.857</text>
<text x="280.80" y="280.04" font-size="5.33" text-anchor="end" fill="#222" stroke="#222" stroke-width="0.1">Lasso+Stepglm[backward]</text>
<rect x="283.30" y="274.52" width="16.30" height="6.06" fill="#58b739" stroke="#1a1a1a" stroke-width="0.6"/>
<text x="291.45" y="279.29" font-size="4.9" text-anchor="middle" fill="#1e1e1e" >0.925</text>
<rect x="301.32" y="274.52" width="16.30" height="6.06" fill="#7fa742" stroke="#1a1a1a" stroke-width="0.6"/>
<text x="309.47" y="279.29" font-size="4.9" text-anchor="middle" fill="#1e1e1e" >0.809</text>
<rect x="319.34" y="274.52" width="16.30" height="6.06" fill="#ba6465" stroke="#1a1a1a" stroke-width="0.6"/>
<text x="327.49" y="279.29" font-size="4.9" text-anchor="middle" fill="#1e1e1e" >0.566</text>
<rect x="337.36" y="274.52" width="16.30" height="6.06" fill="#ab865b" stroke="#1a1a1a" stroke-width="0.6"/>
<text x="345.51" y="279.29" font-size="4.9" text-anchor="middle" fill="#1e1e1e" >0.655</text>
<rect x="355.38" y="274.52" width="16.30" height="6.06" fill="#9f9654" stroke="#1a1a1a" stroke-width="0.6"/>
<text x="363.53" y="279.29" font-size="4.9" text-anchor="middle" fill="#1e1e1e" >0.691</text>
<rect x="373.40" y="274.52" width="16.30" height="6.06" fill="#6dad3e" stroke="#1a1a1a" stroke-width="0.6"/>
<text x="381.55" y="279.29" font-size="4.9" text-anchor="middle" fill="#1e1e1e" >0.854</text>
<text x="280.80" y="286.70" font-size="5.33" text-anchor="end" fill="#222" stroke="#222" stroke-width="0.1">Lasso+Stepglm[both]</text>
<rect x="283.30" y="281.18" width="16.30" height="6.06" fill="#58b739" stroke="#1a1a1a" stroke-width="0.6"/>
<text x="291.45" y="285.95" font-size="4.9" text-anchor="middle" fill="#1e1e1e" >0.925</text>
<rect x="301.32" y="281.18" width="16.30" height="6.06" fill="#7fa742" stroke="#1a1a1a" stroke-width="0.6"/>
<text x="309.47" y="285.95" font-size="4.9" text-anchor="middle" fill="#1e1e1e" >0.809</text>
<rect x="319.34" y="281.18" width="16.30" height="6.06" fill="#ba6465" stroke="#1a1a1a" stroke-width="0.6"/>
<text x="327.49" y="285.95" font-size="4.9" text-anchor="middle" fill="#1e1e1e" >0.566</text>
<rect x="337.36" y="281.18" width="16.30" height="6.06" fill="#ab865b" stroke="#1a1a1a" stroke-width="0.6"/>
<text x="345.51" y="285.95" font-size="4.9" text-anchor="middle" fill="#1e1e1e" >0.655</text>
<rect x="355.38" y="281.18" width="16.30" height="6.06" fill="#9f9654" stroke="#1a1a1a" stroke-width="0.6"/>
<text x="363.53" y="285.95" font-size="4.9" text-anchor="middle" fill="#1e1e1e" >0.691</text>
<rect x="373.40" y="281.18" width="16.30" height="6.06" fill="#6dad3e" stroke="#1a1a1a" stroke-width="0.6"/>
<text x="381.55" y="285.95" font-size="4.9" text-anchor="middle" fill="#1e1e1e" >0.854</text>
<text x="280.80" y="293.36" font-size="5.33" text-anchor="end" fill="#222" stroke="#222" stroke-width="0.1">Stepglm[backward]</text>
<rect x="283.30" y="287.84" width="16.30" height="6.06" fill="#58b739" stroke="#1a1a1a" stroke-width="0.6"/>
<text x="291.45" y="292.61" font-size="4.9" text-anchor="middle" fill="#1e1e1e" >0.925</text>
<rect x="301.32" y="287.84" width="16.30" height="6.06" fill="#7fa742" stroke="#1a1a1a" stroke-width="0.6"/>
<text x="309.47" y="292.61" font-size="4.9" text-anchor="middle" fill="#1e1e1e" >0.809</text>
<rect x="319.34" y="287.84" width="16.30" height="6.06" fill="#ba6465" stroke="#1a1a1a" stroke-width="0.6"/>
<text x="327.49" y="292.61" font-size="4.9" text-anchor="middle" fill="#1e1e1e" >0.566</text>
<rect x="337.36" y="287.84" width="16.30" height="6.06" fill="#ab865b" stroke="#1a1a1a" stroke-width="0.6"/>
<text x="345.51" y="292.61" font-size="4.9" text-anchor="middle" fill="#1e1e1e" >0.655</text>
<rect x="355.38" y="287.84" width="16.30" height="6.06" fill="#9f9654" stroke="#1a1a1a" stroke-width="0.6"/>
<text x="363.53" y="292.61" font-size="4.9" text-anchor="middle" fill="#1e1e1e" >0.691</text>
<rect x="373.40" y="287.84" width="16.30" height="6.06" fill="#6dad3e" stroke="#1a1a1a" stroke-width="0.6"/>
<text x="381.55" y="292.61" font-size="4.9" text-anchor="middle" fill="#1e1e1e" >0.854</text>
<text x="280.80" y="300.01" font-size="5.33" text-anchor="end" fill="#222" stroke="#222" stroke-width="0.1">Stepglm[both]</text>
<rect x="283.30" y="294.49" width="16.30" height="6.06" fill="#58b739" stroke="#1a1a1a" stroke-width="0.6"/>
<text x="291.45" y="299.26" font-size="4.9" text-anchor="middle" fill="#1e1e1e" >0.925</text>
<rect x="301.32" y="294.49" width="16.30" height="6.06" fill="#7fa742" stroke="#1a1a1a" stroke-width="0.6"/>
<text x="309.47" y="299.26" font-size="4.9" text-anchor="middle" fill="#1e1e1e" >0.809</text>
<rect x="319.34" y="294.49" width="16.30" height="6.06" fill="#ba6465" stroke="#1a1a1a" stroke-width="0.6"/>
<text x="327.49" y="299.26" font-size="4.9" text-anchor="middle" fill="#1e1e1e" >0.566</text>
<rect x="337.36" y="294.49" width="16.30" height="6.06" fill="#ab865b" stroke="#1a1a1a" stroke-width="0.6"/>
<text x="345.51" y="299.26" font-size="4.9" text-anchor="middle" fill="#1e1e1e" >0.655</text>
<rect x="355.38" y="294.49" width="16.30" height="6.06" fill="#9f9654" stroke="#1a1a1a" stroke-width="0.6"/>
<text x="363.53" y="299.26" font-size="4.9" text-anchor="middle" fill="#1e1e1e" >0.691</text>
<rect x="373.40" y="294.49" width="16.30" height="6.06" fill="#6dad3e" stroke="#1a1a1a" stroke-width="0.6"/>
<text x="381.55" y="299.26" font-size="4.9" text-anchor="middle" fill="#1e1e1e" >0.854</text>
<text x="280.80" y="306.67" font-size="5.33" text-anchor="end" fill="#222" stroke="#222" stroke-width="0.1">Stepglm[both]+RF</text>
<rect x="283.30" y="301.15" width="16.30" height="6.06" fill="#4ec033" stroke="#1a1a1a" stroke-width="0.6"/>
<text x="291.45" y="305.92" font-size="4.9" text-anchor="middle" fill="#1e1e1e" >0.999</text>
<rect x="301.32" y="301.15" width="16.30" height="6.06" fill="#9c9951" stroke="#1a1a1a" stroke-width="0.6"/>
<text x="309.47" y="305.92" font-size="4.9" text-anchor="middle" fill="#1e1e1e" >0.703</text>
<rect x="319.34" y="301.15" width="16.30" height="6.06" fill="#b97461" stroke="#1a1a1a" stroke-width="0.6"/>
<text x="327.49" y="305.92" font-size="4.9" text-anchor="middle" fill="#1e1e1e" >0.601</text>
<rect x="337.36" y="301.15" width="16.30" height="6.06" fill="#959e4d" stroke="#1a1a1a" stroke-width="0.6"/>
<text x="345.51" y="305.92" font-size="4.9" text-anchor="middle" fill="#1e1e1e" >0.732</text>
<rect x="355.38" y="301.15" width="16.30" height="6.06" fill="#9e9753" stroke="#1a1a1a" stroke-width="0.6"/>
<text x="363.53" y="305.92" font-size="4.9" text-anchor="middle" fill="#1e1e1e" >0.694</text>
<rect x="373.40" y="301.15" width="16.30" height="6.06" fill="#999a50" stroke="#1a1a1a" stroke-width="0.6"/>
<text x="381.55" y="305.92" font-size="4.9" text-anchor="middle" fill="#1e1e1e" >0.712</text>
<text x="280.80" y="313.33" font-size="5.33" text-anchor="end" fill="#222" stroke="#222" stroke-width="0.1">Stepglm[backward]+RF</text>
<rect x="283.30" y="307.81" width="16.30" height="6.06" fill="#4ec033" stroke="#1a1a1a" stroke-width="0.6"/>
<text x="291.45" y="312.58" font-size="4.9" text-anchor="middle" fill="#1e1e1e" >0.999</text>
<rect x="301.32" y="307.81" width="16.30" height="6.06" fill="#a88c5a" stroke="#1a1a1a" stroke-width="0.6"/>
<text x="309.47" y="312.58" font-size="4.9" text-anchor="middle" fill="#1e1e1e" >0.666</text>
<rect x="319.34" y="307.81" width="16.30" height="6.06" fill="#b97261" stroke="#1a1a1a" stroke-width="0.6"/>
<text x="327.49" y="312.58" font-size="4.9" text-anchor="middle" fill="#1e1e1e" >0.597</text>
<rect x="337.36" y="307.81" width="16.30" height="6.06" fill="#969d4e" stroke="#1a1a1a" stroke-width="0.6"/>
<text x="345.51" y="312.58" font-size="4.9" text-anchor="middle" fill="#1e1e1e" >0.726</text>
<rect x="355.38" y="307.81" width="16.30" height="6.06" fill="#a19356" stroke="#1a1a1a" stroke-width="0.6"/>
<text x="363.53" y="312.58" font-size="4.9" text-anchor="middle" fill="#1e1e1e" >0.685</text>
<rect x="373.40" y="307.81" width="16.30" height="6.06" fill="#a09554" stroke="#1a1a1a" stroke-width="0.6"/>
<text x="381.55" y="312.58" font-size="4.9" text-anchor="middle" fill="#1e1e1e" >0.690</text>
<text x="280.80" y="319.99" font-size="5.33" text-anchor="end" fill="#222" stroke="#222" stroke-width="0.1">glmBoost+LDA</text>
<rect x="283.30" y="314.47" width="16.30" height="6.06" fill="#5fb13c" stroke="#1a1a1a" stroke-width="0.6"/>
<text x="291.45" y="319.23" font-size="4.9" text-anchor="middle" fill="#1e1e1e" >0.889</text>
<rect x="301.32" y="314.47" width="16.30" height="6.06" fill="#ae835c" stroke="#1a1a1a" stroke-width="0.6"/>
<text x="309.47" y="319.23" font-size="4.9" text-anchor="middle" fill="#1e1e1e" >0.647</text>
<rect x="319.34" y="314.47" width="16.30" height="6.06" fill="#b87460" stroke="#1a1a1a" stroke-width="0.6"/>
<text x="327.49" y="319.23" font-size="4.9" text-anchor="middle" fill="#1e1e1e" >0.603</text>
<rect x="337.36" y="314.47" width="16.30" height="6.06" fill="#8fa14a" stroke="#1a1a1a" stroke-width="0.6"/>
<text x="345.51" y="319.23" font-size="4.9" text-anchor="middle" fill="#1e1e1e" >0.754</text>
<rect x="355.38" y="314.47" width="16.30" height="6.06" fill="#929f4c" stroke="#1a1a1a" stroke-width="0.6"/>
<text x="363.53" y="319.23" font-size="4.9" text-anchor="middle" fill="#1e1e1e" >0.744</text>
<rect x="373.40" y="314.47" width="16.30" height="6.06" fill="#90a04b" stroke="#1a1a1a" stroke-width="0.6"/>
<text x="381.55" y="319.23" font-size="4.9" text-anchor="middle" fill="#1e1e1e" >0.751</text>
<text x="280.80" y="326.64" font-size="5.33" text-anchor="end" fill="#222" stroke="#222" stroke-width="0.1">Lasso+RF</text>
<rect x="283.30" y="321.12" width="16.30" height="6.06" fill="#4ec033" stroke="#1a1a1a" stroke-width="0.6"/>
<text x="291.45" y="325.89" font-size="4.9" text-anchor="middle" fill="#1e1e1e" >0.999</text>
<rect x="301.32" y="321.12" width="16.30" height="6.06" fill="#a29356" stroke="#1a1a1a" stroke-width="0.6"/>
<text x="309.47" y="325.89" font-size="4.9" text-anchor="middle" fill="#1e1e1e" >0.683</text>
<rect x="319.34" y="321.12" width="16.30" height="6.06" fill="#b97161" stroke="#1a1a1a" stroke-width="0.6"/>
<text x="327.49" y="325.89" font-size="4.9" text-anchor="middle" fill="#1e1e1e" >0.595</text>
<rect x="337.36" y="321.12" width="16.30" height="6.06" fill="#9a9a50" stroke="#1a1a1a" stroke-width="0.6"/>
<text x="345.51" y="325.89" font-size="4.9" text-anchor="middle" fill="#1e1e1e" >0.710</text>
<rect x="355.38" y="321.12" width="16.30" height="6.06" fill="#a29257" stroke="#1a1a1a" stroke-width="0.6"/>
<text x="363.53" y="325.89" font-size="4.9" text-anchor="middle" fill="#1e1e1e" >0.682</text>
<rect x="373.40" y="321.12" width="16.30" height="6.06" fill="#9e9753" stroke="#1a1a1a" stroke-width="0.6"/>
<text x="381.55" y="325.89" font-size="4.9" text-anchor="middle" fill="#1e1e1e" >0.696</text>
<text x="280.80" y="333.30" font-size="5.33" text-anchor="end" fill="#222" stroke="#222" stroke-width="0.1">glmBoost+Stepglm[backward]</text>
<rect x="283.30" y="327.78" width="16.30" height="6.06" fill="#5fb23c" stroke="#1a1a1a" stroke-width="0.6"/>
<text x="291.45" y="332.55" font-size="4.9" text-anchor="middle" fill="#1e1e1e" >0.890</text>
<rect x="301.32" y="327.78" width="16.30" height="6.06" fill="#ad835c" stroke="#1a1a1a" stroke-width="0.6"/>
<text x="309.47" y="332.55" font-size="4.9" text-anchor="middle" fill="#1e1e1e" >0.648</text>
<rect x="319.34" y="327.78" width="16.30" height="6.06" fill="#b87560" stroke="#1a1a1a" stroke-width="0.6"/>
<text x="327.49" y="332.55" font-size="4.9" text-anchor="middle" fill="#1e1e1e" >0.604</text>
<rect x="337.36" y="327.78" width="16.30" height="6.06" fill="#949e4d" stroke="#1a1a1a" stroke-width="0.6"/>
<text x="345.51" y="332.55" font-size="4.9" text-anchor="middle" fill="#1e1e1e" >0.734</text>
<rect x="355.38" y="327.78" width="16.30" height="6.06" fill="#939f4c" stroke="#1a1a1a" stroke-width="0.6"/>
<text x="363.53" y="332.55" font-size="4.9" text-anchor="middle" fill="#1e1e1e" >0.740</text>
<rect x="373.40" y="327.78" width="16.30" height="6.06" fill="#91a04b" stroke="#1a1a1a" stroke-width="0.6"/>
<text x="381.55" y="332.55" font-size="4.9" text-anchor="middle" fill="#1e1e1e" >0.746</text>
<text x="280.80" y="339.96" font-size="5.33" text-anchor="end" fill="#222" stroke="#222" stroke-width="0.1">glmBoost+Stepglm[both]</text>
<rect x="283.30" y="334.44" width="16.30" height="6.06" fill="#5fb23c" stroke="#1a1a1a" stroke-width="0.6"/>
<text x="291.45" y="339.20" font-size="4.9" text-anchor="middle" fill="#1e1e1e" >0.890</text>
<rect x="301.32" y="334.44" width="16.30" height="6.06" fill="#ad835c" stroke="#1a1a1a" stroke-width="0.6"/>
<text x="309.47" y="339.20" font-size="4.9" text-anchor="middle" fill="#1e1e1e" >0.648</text>
<rect x="319.34" y="334.44" width="16.30" height="6.06" fill="#b87560" stroke="#1a1a1a" stroke-width="0.6"/>
<text x="327.49" y="339.20" font-size="4.9" text-anchor="middle" fill="#1e1e1e" >0.604</text>
<rect x="337.36" y="334.44" width="16.30" height="6.06" fill="#949e4d" stroke="#1a1a1a" stroke-width="0.6"/>
<text x="345.51" y="339.20" font-size="4.9" text-anchor="middle" fill="#1e1e1e" >0.735</text>
<rect x="355.38" y="334.44" width="16.30" height="6.06" fill="#939f4c" stroke="#1a1a1a" stroke-width="0.6"/>
<text x="363.53" y="339.20" font-size="4.9" text-anchor="middle" fill="#1e1e1e" >0.740</text>
<rect x="373.40" y="334.44" width="16.30" height="6.06" fill="#91a04b" stroke="#1a1a1a" stroke-width="0.6"/>
<text x="381.55" y="339.20" font-size="4.9" text-anchor="middle" fill="#1e1e1e" >0.746</text>
<text x="280.80" y="346.61" font-size="5.33" text-anchor="end" fill="#222" stroke="#222" stroke-width="0.1">glmBoost+Stepglm[forward]</text>
<rect x="283.30" y="341.09" width="16.30" height="6.06" fill="#5fb23c" stroke="#1a1a1a" stroke-width="0.6"/>
<text x="291.45" y="345.86" font-size="4.9" text-anchor="middle" fill="#1e1e1e" >0.890</text>
<rect x="301.32" y="341.09" width="16.30" height="6.06" fill="#ad835c" stroke="#1a1a1a" stroke-width="0.6"/>
<text x="309.47" y="345.86" font-size="4.9" text-anchor="middle" fill="#1e1e1e" >0.648</text>
<rect x="319.34" y="341.09" width="16.30" height="6.06" fill="#b87560" stroke="#1a1a1a" stroke-width="0.6"/>
<text x="327.49" y="345.86" font-size="4.9" text-anchor="middle" fill="#1e1e1e" >0.604</text>
<rect x="337.36" y="341.09" width="16.30" height="6.06" fill="#949e4d" stroke="#1a1a1a" stroke-width="0.6"/>
<text x="345.51" y="345.86" font-size="4.9" text-anchor="middle" fill="#1e1e1e" >0.735</text>
<rect x="355.38" y="341.09" width="16.30" height="6.06" fill="#939f4c" stroke="#1a1a1a" stroke-width="0.6"/>
<text x="363.53" y="345.86" font-size="4.9" text-anchor="middle" fill="#1e1e1e" >0.740</text>
<rect x="373.40" y="341.09" width="16.30" height="6.06" fill="#91a04b" stroke="#1a1a1a" stroke-width="0.6"/>
<text x="381.55" y="345.86" font-size="4.9" text-anchor="middle" fill="#1e1e1e" >0.746</text>
<text x="280.80" y="353.27" font-size="5.33" text-anchor="end" fill="#222" stroke="#222" stroke-width="0.1">glmBoost+Lasso</text>
<rect x="283.30" y="347.75" width="16.30" height="6.06" fill="#5fb23c" stroke="#1a1a1a" stroke-width="0.6"/>
<text x="291.45" y="352.52" font-size="4.9" text-anchor="middle" fill="#1e1e1e" >0.890</text>
<rect x="301.32" y="347.75" width="16.30" height="6.06" fill="#ad845c" stroke="#1a1a1a" stroke-width="0.6"/>
<text x="309.47" y="352.52" font-size="4.9" text-anchor="middle" fill="#1e1e1e" >0.650</text>
<rect x="319.34" y="347.75" width="16.30" height="6.06" fill="#b87560" stroke="#1a1a1a" stroke-width="0.6"/>
<text x="327.49" y="352.52" font-size="4.9" text-anchor="middle" fill="#1e1e1e" >0.605</text>
<rect x="337.36" y="347.75" width="16.30" height="6.06" fill="#949e4d" stroke="#1a1a1a" stroke-width="0.6"/>
<text x="345.51" y="352.52" font-size="4.9" text-anchor="middle" fill="#1e1e1e" >0.734</text>
<rect x="355.38" y="347.75" width="16.30" height="6.06" fill="#949f4d" stroke="#1a1a1a" stroke-width="0.6"/>
<text x="363.53" y="352.52" font-size="4.9" text-anchor="middle" fill="#1e1e1e" >0.737</text>
<rect x="373.40" y="347.75" width="16.30" height="6.06" fill="#939f4c" stroke="#1a1a1a" stroke-width="0.6"/>
<text x="381.55" y="352.52" font-size="4.9" text-anchor="middle" fill="#1e1e1e" >0.740</text>
<text x="280.80" y="359.93" font-size="5.33" text-anchor="end" fill="#222" stroke="#222" stroke-width="0.1">glmBoost+Enet[alpha=0.9]</text>
<rect x="283.30" y="354.41" width="16.30" height="6.06" fill="#5fb23c" stroke="#1a1a1a" stroke-width="0.6"/>
<text x="291.45" y="359.18" font-size="4.9" text-anchor="middle" fill="#1e1e1e" >0.890</text>
<rect x="301.32" y="354.41" width="16.30" height="6.06" fill="#ad845c" stroke="#1a1a1a" stroke-width="0.6"/>
<text x="309.47" y="359.18" font-size="4.9" text-anchor="middle" fill="#1e1e1e" >0.650</text>
<rect x="319.34" y="354.41" width="16.30" height="6.06" fill="#b87560" stroke="#1a1a1a" stroke-width="0.6"/>
<text x="327.49" y="359.18" font-size="4.9" text-anchor="middle" fill="#1e1e1e" >0.606</text>
<rect x="337.36" y="354.41" width="16.30" height="6.06" fill="#949e4d" stroke="#1a1a1a" stroke-width="0.6"/>
<text x="345.51" y="359.18" font-size="4.9" text-anchor="middle" fill="#1e1e1e" >0.734</text>
<rect x="355.38" y="354.41" width="16.30" height="6.06" fill="#939f4c" stroke="#1a1a1a" stroke-width="0.6"/>
<text x="363.53" y="359.18" font-size="4.9" text-anchor="middle" fill="#1e1e1e" >0.739</text>
<rect x="373.40" y="354.41" width="16.30" height="6.06" fill="#929f4c" stroke="#1a1a1a" stroke-width="0.6"/>
<text x="381.55" y="359.18" font-size="4.9" text-anchor="middle" fill="#1e1e1e" >0.743</text>
<text x="280.80" y="366.58" font-size="5.33" text-anchor="end" fill="#222" stroke="#222" stroke-width="0.1">glmBoost+Enet[alpha=0.5]</text>
<rect x="283.30" y="361.06" width="16.30" height="6.06" fill="#5fb23c" stroke="#1a1a1a" stroke-width="0.6"/>
<text x="291.45" y="365.83" font-size="4.9" text-anchor="middle" fill="#1e1e1e" >0.890</text>
<rect x="301.32" y="361.06" width="16.30" height="6.06" fill="#ad835c" stroke="#1a1a1a" stroke-width="0.6"/>
<text x="309.47" y="365.83" font-size="4.9" text-anchor="middle" fill="#1e1e1e" >0.648</text>
<rect x="319.34" y="361.06" width="16.30" height="6.06" fill="#b87560" stroke="#1a1a1a" stroke-width="0.6"/>
<text x="327.49" y="365.83" font-size="4.9" text-anchor="middle" fill="#1e1e1e" >0.605</text>
<rect x="337.36" y="361.06" width="16.30" height="6.06" fill="#959e4d" stroke="#1a1a1a" stroke-width="0.6"/>
<text x="345.51" y="365.83" font-size="4.9" text-anchor="middle" fill="#1e1e1e" >0.732</text>
<rect x="355.38" y="361.06" width="16.30" height="6.06" fill="#949e4d" stroke="#1a1a1a" stroke-width="0.6"/>
<text x="363.53" y="365.83" font-size="4.9" text-anchor="middle" fill="#1e1e1e" >0.735</text>
<rect x="373.40" y="361.06" width="16.30" height="6.06" fill="#91a04b" stroke="#1a1a1a" stroke-width="0.6"/>
<text x="381.55" y="365.83" font-size="4.9" text-anchor="middle" fill="#1e1e1e" >0.746</text>
<text x="280.80" y="373.24" font-size="5.33" text-anchor="end" fill="#222" stroke="#222" stroke-width="0.1">glmBoost+Enet[alpha=0.7]</text>
<rect x="283.30" y="367.72" width="16.30" height="6.06" fill="#5fb23c" stroke="#1a1a1a" stroke-width="0.6"/>
<text x="291.45" y="372.49" font-size="4.9" text-anchor="middle" fill="#1e1e1e" >0.890</text>
<rect x="301.32" y="367.72" width="16.30" height="6.06" fill="#ad845c" stroke="#1a1a1a" stroke-width="0.6"/>
<text x="309.47" y="372.49" font-size="4.9" text-anchor="middle" fill="#1e1e1e" >0.650</text>
<rect x="319.34" y="367.72" width="16.30" height="6.06" fill="#b87560" stroke="#1a1a1a" stroke-width="0.6"/>
<text x="327.49" y="372.49" font-size="4.9" text-anchor="middle" fill="#1e1e1e" >0.606</text>
<rect x="337.36" y="367.72" width="16.30" height="6.06" fill="#959d4e" stroke="#1a1a1a" stroke-width="0.6"/>
<text x="345.51" y="372.49" font-size="4.9" text-anchor="middle" fill="#1e1e1e" >0.729</text>
<rect x="355.38" y="367.72" width="16.30" height="6.06" fill="#949e4d" stroke="#1a1a1a" stroke-width="0.6"/>
<text x="363.53" y="372.49" font-size="4.9" text-anchor="middle" fill="#1e1e1e" >0.736</text>
<rect x="373.40" y="367.72" width="16.30" height="6.06" fill="#929f4c" stroke="#1a1a1a" stroke-width="0.6"/>
<text x="381.55" y="372.49" font-size="4.9" text-anchor="middle" fill="#1e1e1e" >0.743</text>
<text x="280.80" y="379.90" font-size="5.33" text-anchor="end" fill="#222" stroke="#222" stroke-width="0.1">glmBoost+Enet[alpha=0.1]</text>
<rect x="283.30" y="374.38" width="16.30" height="6.06" fill="#5fb23c" stroke="#1a1a1a" stroke-width="0.6"/>
<text x="291.45" y="379.15" font-size="4.9" text-anchor="middle" fill="#1e1e1e" >0.890</text>
<rect x="301.32" y="374.38" width="16.30" height="6.06" fill="#ad845c" stroke="#1a1a1a" stroke-width="0.6"/>
<text x="309.47" y="379.15" font-size="4.9" text-anchor="middle" fill="#1e1e1e" >0.650</text>
<rect x="319.34" y="374.38" width="16.30" height="6.06" fill="#b87560" stroke="#1a1a1a" stroke-width="0.6"/>
<text x="327.49" y="379.15" font-size="4.9" text-anchor="middle" fill="#1e1e1e" >0.606</text>
<rect x="337.36" y="374.38" width="16.30" height="6.06" fill="#959e4d" stroke="#1a1a1a" stroke-width="0.6"/>
<text x="345.51" y="379.15" font-size="4.9" text-anchor="middle" fill="#1e1e1e" >0.732</text>
<rect x="355.38" y="374.38" width="16.30" height="6.06" fill="#949e4d" stroke="#1a1a1a" stroke-width="0.6"/>
<text x="363.53" y="379.15" font-size="4.9" text-anchor="middle" fill="#1e1e1e" >0.735</text>
<rect x="373.40" y="374.38" width="16.30" height="6.06" fill="#929f4c" stroke="#1a1a1a" stroke-width="0.6"/>
<text x="381.55" y="379.15" font-size="4.9" text-anchor="middle" fill="#1e1e1e" >0.743</text>
<text x="280.80" y="386.56" font-size="5.33" text-anchor="end" fill="#222" stroke="#222" stroke-width="0.1">glmBoost+Enet[alpha=0.6]</text>
<rect x="283.30" y="381.04" width="16.30" height="6.06" fill="#5fb23c" stroke="#1a1a1a" stroke-width="0.6"/>
<text x="291.45" y="385.80" font-size="4.9" text-anchor="middle" fill="#1e1e1e" >0.890</text>
<rect x="301.32" y="381.04" width="16.30" height="6.06" fill="#ad845c" stroke="#1a1a1a" stroke-width="0.6"/>
<text x="309.47" y="385.80" font-size="4.9" text-anchor="middle" fill="#1e1e1e" >0.650</text>
<rect x="319.34" y="381.04" width="16.30" height="6.06" fill="#b87560" stroke="#1a1a1a" stroke-width="0.6"/>
<text x="327.49" y="385.80" font-size="4.9" text-anchor="middle" fill="#1e1e1e" >0.606</text>
<rect x="337.36" y="381.04" width="16.30" height="6.06" fill="#959e4d" stroke="#1a1a1a" stroke-width="0.6"/>
<text x="345.51" y="385.80" font-size="4.9" text-anchor="middle" fill="#1e1e1e" >0.732</text>
<rect x="355.38" y="381.04" width="16.30" height="6.06" fill="#949e4d" stroke="#1a1a1a" stroke-width="0.6"/>
<text x="363.53" y="385.80" font-size="4.9" text-anchor="middle" fill="#1e1e1e" >0.735</text>
<rect x="373.40" y="381.04" width="16.30" height="6.06" fill="#929f4c" stroke="#1a1a1a" stroke-width="0.6"/>
<text x="381.55" y="385.80" font-size="4.9" text-anchor="middle" fill="#1e1e1e" >0.743</text>
<text x="280.80" y="393.21" font-size="5.33" text-anchor="end" fill="#222" stroke="#222" stroke-width="0.1">Stepglm[both]+GBM</text>
<rect x="283.30" y="387.69" width="16.30" height="6.06" fill="#50bf34" stroke="#1a1a1a" stroke-width="0.6"/>
<text x="291.45" y="392.46" font-size="4.9" text-anchor="middle" fill="#1e1e1e" >0.987</text>
<rect x="301.32" y="387.69" width="16.30" height="6.06" fill="#939f4c" stroke="#1a1a1a" stroke-width="0.6"/>
<text x="309.47" y="392.46" font-size="4.9" text-anchor="middle" fill="#1e1e1e" >0.741</text>
<rect x="319.34" y="387.69" width="16.30" height="6.06" fill="#ba6b63" stroke="#1a1a1a" stroke-width="0.6"/>
<text x="327.49" y="392.46" font-size="4.9" text-anchor="middle" fill="#1e1e1e" >0.581</text>
<rect x="337.36" y="387.69" width="16.30" height="6.06" fill="#b07f5d" stroke="#1a1a1a" stroke-width="0.6"/>
<text x="345.51" y="392.46" font-size="4.9" text-anchor="middle" fill="#1e1e1e" >0.636</text>
<rect x="355.38" y="387.69" width="16.30" height="6.06" fill="#ba6b63" stroke="#1a1a1a" stroke-width="0.6"/>
<text x="363.53" y="392.46" font-size="4.9" text-anchor="middle" fill="#1e1e1e" >0.582</text>
<rect x="373.40" y="387.69" width="16.30" height="6.06" fill="#77a941" stroke="#1a1a1a" stroke-width="0.6"/>
<text x="381.55" y="392.46" font-size="4.9" text-anchor="middle" fill="#1e1e1e" >0.829</text>
<text x="280.80" y="399.87" font-size="5.33" text-anchor="end" fill="#222" stroke="#222" stroke-width="0.1">glmBoost+Enet[alpha=0.8]</text>
<rect x="283.30" y="394.35" width="16.30" height="6.06" fill="#5fb13c" stroke="#1a1a1a" stroke-width="0.6"/>
<text x="291.45" y="399.12" font-size="4.9" text-anchor="middle" fill="#1e1e1e" >0.889</text>
<rect x="301.32" y="394.35" width="16.30" height="6.06" fill="#ad845c" stroke="#1a1a1a" stroke-width="0.6"/>
<text x="309.47" y="399.12" font-size="4.9" text-anchor="middle" fill="#1e1e1e" >0.650</text>
<rect x="319.34" y="394.35" width="16.30" height="6.06" fill="#b77660" stroke="#1a1a1a" stroke-width="0.6"/>
<text x="327.49" y="399.12" font-size="4.9" text-anchor="middle" fill="#1e1e1e" >0.607</text>
<rect x="337.36" y="394.35" width="16.30" height="6.06" fill="#959e4d" stroke="#1a1a1a" stroke-width="0.6"/>
<text x="345.51" y="399.12" font-size="4.9" text-anchor="middle" fill="#1e1e1e" >0.732</text>
<rect x="355.38" y="394.35" width="16.30" height="6.06" fill="#949e4d" stroke="#1a1a1a" stroke-width="0.6"/>
<text x="363.53" y="399.12" font-size="4.9" text-anchor="middle" fill="#1e1e1e" >0.736</text>
<rect x="373.40" y="394.35" width="16.30" height="6.06" fill="#939f4c" stroke="#1a1a1a" stroke-width="0.6"/>
<text x="381.55" y="399.12" font-size="4.9" text-anchor="middle" fill="#1e1e1e" >0.741</text>
<text x="280.80" y="406.53" font-size="5.33" text-anchor="end" fill="#222" stroke="#222" stroke-width="0.1">glmBoost+Enet[alpha=0.4]</text>
<rect x="283.30" y="401.01" width="16.30" height="6.06" fill="#5fb23c" stroke="#1a1a1a" stroke-width="0.6"/>
<text x="291.45" y="405.77" font-size="4.9" text-anchor="middle" fill="#1e1e1e" >0.890</text>
<rect x="301.32" y="401.01" width="16.30" height="6.06" fill="#ad845c" stroke="#1a1a1a" stroke-width="0.6"/>
<text x="309.47" y="405.77" font-size="4.9" text-anchor="middle" fill="#1e1e1e" >0.650</text>
<rect x="319.34" y="401.01" width="16.30" height="6.06" fill="#b87560" stroke="#1a1a1a" stroke-width="0.6"/>
<text x="327.49" y="405.77" font-size="4.9" text-anchor="middle" fill="#1e1e1e" >0.606</text>
<rect x="337.36" y="401.01" width="16.30" height="6.06" fill="#959e4e" stroke="#1a1a1a" stroke-width="0.6"/>
<text x="345.51" y="405.77" font-size="4.9" text-anchor="middle" fill="#1e1e1e" >0.731</text>
<rect x="355.38" y="401.01" width="16.30" height="6.06" fill="#949e4d" stroke="#1a1a1a" stroke-width="0.6"/>
<text x="363.53" y="405.77" font-size="4.9" text-anchor="middle" fill="#1e1e1e" >0.735</text>
<rect x="373.40" y="401.01" width="16.30" height="6.06" fill="#929f4c" stroke="#1a1a1a" stroke-width="0.6"/>
<text x="381.55" y="405.77" font-size="4.9" text-anchor="middle" fill="#1e1e1e" >0.743</text>
<text x="280.80" y="413.18" font-size="5.33" text-anchor="end" fill="#222" stroke="#222" stroke-width="0.1">glmBoost+Enet[alpha=0.3]</text>
<rect x="283.30" y="407.66" width="16.30" height="6.06" fill="#5fb23c" stroke="#1a1a1a" stroke-width="0.6"/>
<text x="291.45" y="412.43" font-size="4.9" text-anchor="middle" fill="#1e1e1e" >0.890</text>
<rect x="301.32" y="407.66" width="16.30" height="6.06" fill="#ad845c" stroke="#1a1a1a" stroke-width="0.6"/>
<text x="309.47" y="412.43" font-size="4.9" text-anchor="middle" fill="#1e1e1e" >0.650</text>
<rect x="319.34" y="407.66" width="16.30" height="6.06" fill="#b87560" stroke="#1a1a1a" stroke-width="0.6"/>
<text x="327.49" y="412.43" font-size="4.9" text-anchor="middle" fill="#1e1e1e" >0.606</text>
<rect x="337.36" y="407.66" width="16.30" height="6.06" fill="#959d4e" stroke="#1a1a1a" stroke-width="0.6"/>
<text x="345.51" y="412.43" font-size="4.9" text-anchor="middle" fill="#1e1e1e" >0.730</text>
<rect x="355.38" y="407.66" width="16.30" height="6.06" fill="#959e4d" stroke="#1a1a1a" stroke-width="0.6"/>
<text x="363.53" y="412.43" font-size="4.9" text-anchor="middle" fill="#1e1e1e" >0.732</text>
<rect x="373.40" y="407.66" width="16.30" height="6.06" fill="#939f4c" stroke="#1a1a1a" stroke-width="0.6"/>
<text x="381.55" y="412.43" font-size="4.9" text-anchor="middle" fill="#1e1e1e" >0.741</text>
<text x="280.80" y="419.84" font-size="5.33" text-anchor="end" fill="#222" stroke="#222" stroke-width="0.1">Stepglm[backward]+GBM</text>
<rect x="283.30" y="414.32" width="16.30" height="6.06" fill="#50bf34" stroke="#1a1a1a" stroke-width="0.6"/>
<text x="291.45" y="419.09" font-size="4.9" text-anchor="middle" fill="#1e1e1e" >0.986</text>
<rect x="301.32" y="414.32" width="16.30" height="6.06" fill="#939f4c" stroke="#1a1a1a" stroke-width="0.6"/>
<text x="309.47" y="419.09" font-size="4.9" text-anchor="middle" fill="#1e1e1e" >0.740</text>
<rect x="319.34" y="414.32" width="16.30" height="6.06" fill="#ba6e62" stroke="#1a1a1a" stroke-width="0.6"/>
<text x="327.49" y="419.09" font-size="4.9" text-anchor="middle" fill="#1e1e1e" >0.587</text>
<rect x="337.36" y="414.32" width="16.30" height="6.06" fill="#b0805d" stroke="#1a1a1a" stroke-width="0.6"/>
<text x="345.51" y="419.09" font-size="4.9" text-anchor="middle" fill="#1e1e1e" >0.637</text>
<rect x="355.38" y="414.32" width="16.30" height="6.06" fill="#ba6b63" stroke="#1a1a1a" stroke-width="0.6"/>
<text x="363.53" y="419.09" font-size="4.9" text-anchor="middle" fill="#1e1e1e" >0.581</text>
<rect x="373.40" y="414.32" width="16.30" height="6.06" fill="#7ca842" stroke="#1a1a1a" stroke-width="0.6"/>
<text x="381.55" y="419.09" font-size="4.9" text-anchor="middle" fill="#1e1e1e" >0.817</text>
<text x="280.80" y="426.50" font-size="5.33" text-anchor="end" fill="#222" stroke="#222" stroke-width="0.1">glmBoost+Enet[alpha=0.2]</text>
<rect x="283.30" y="420.98" width="16.30" height="6.06" fill="#5fb13c" stroke="#1a1a1a" stroke-width="0.6"/>
<text x="291.45" y="425.75" font-size="4.9" text-anchor="middle" fill="#1e1e1e" >0.889</text>
<rect x="301.32" y="420.98" width="16.30" height="6.06" fill="#ad855c" stroke="#1a1a1a" stroke-width="0.6"/>
<text x="309.47" y="425.75" font-size="4.9" text-anchor="middle" fill="#1e1e1e" >0.651</text>
<rect x="319.34" y="420.98" width="16.30" height="6.06" fill="#b77660" stroke="#1a1a1a" stroke-width="0.6"/>
<text x="327.49" y="425.75" font-size="4.9" text-anchor="middle" fill="#1e1e1e" >0.607</text>
<rect x="337.36" y="420.98" width="16.30" height="6.06" fill="#959d4e" stroke="#1a1a1a" stroke-width="0.6"/>
<text x="345.51" y="425.75" font-size="4.9" text-anchor="middle" fill="#1e1e1e" >0.729</text>
<rect x="355.38" y="420.98" width="16.30" height="6.06" fill="#959e4d" stroke="#1a1a1a" stroke-width="0.6"/>
<text x="363.53" y="425.75" font-size="4.9" text-anchor="middle" fill="#1e1e1e" >0.733</text>
<rect x="373.40" y="420.98" width="16.30" height="6.06" fill="#939f4d" stroke="#1a1a1a" stroke-width="0.6"/>
<text x="381.55" y="425.75" font-size="4.9" text-anchor="middle" fill="#1e1e1e" >0.738</text>
<text x="280.80" y="433.15" font-size="5.33" text-anchor="end" fill="#222" stroke="#222" stroke-width="0.1">Lasso+GBM</text>
<rect x="283.30" y="427.63" width="16.30" height="6.06" fill="#50be35" stroke="#1a1a1a" stroke-width="0.6"/>
<text x="291.45" y="432.40" font-size="4.9" text-anchor="middle" fill="#1e1e1e" >0.982</text>
<rect x="301.32" y="427.63" width="16.30" height="6.06" fill="#979c4e" stroke="#1a1a1a" stroke-width="0.6"/>
<text x="309.47" y="432.40" font-size="4.9" text-anchor="middle" fill="#1e1e1e" >0.724</text>
<rect x="319.34" y="427.63" width="16.30" height="6.06" fill="#b97161" stroke="#1a1a1a" stroke-width="0.6"/>
<text x="327.49" y="432.40" font-size="4.9" text-anchor="middle" fill="#1e1e1e" >0.595</text>
<rect x="337.36" y="427.63" width="16.30" height="6.06" fill="#b87560" stroke="#1a1a1a" stroke-width="0.6"/>
<text x="345.51" y="432.40" font-size="4.9" text-anchor="middle" fill="#1e1e1e" >0.605</text>
<rect x="355.38" y="427.63" width="16.30" height="6.06" fill="#b97261" stroke="#1a1a1a" stroke-width="0.6"/>
<text x="363.53" y="432.40" font-size="4.9" text-anchor="middle" fill="#1e1e1e" >0.598</text>
<rect x="373.40" y="427.63" width="16.30" height="6.06" fill="#7ea742" stroke="#1a1a1a" stroke-width="0.6"/>
<text x="381.55" y="432.40" font-size="4.9" text-anchor="middle" fill="#1e1e1e" >0.810</text>
<text x="280.80" y="439.81" font-size="5.33" text-anchor="end" fill="#222" stroke="#222" stroke-width="0.1">GBM</text>
<rect x="283.30" y="434.29" width="16.30" height="6.06" fill="#50be35" stroke="#1a1a1a" stroke-width="0.6"/>
<text x="291.45" y="439.06" font-size="4.9" text-anchor="middle" fill="#1e1e1e" >0.983</text>
<rect x="301.32" y="434.29" width="16.30" height="6.06" fill="#91a04b" stroke="#1a1a1a" stroke-width="0.6"/>
<text x="309.47" y="439.06" font-size="4.9" text-anchor="middle" fill="#1e1e1e" >0.748</text>
<rect x="319.34" y="434.29" width="16.30" height="6.06" fill="#b96f62" stroke="#1a1a1a" stroke-width="0.6"/>
<text x="327.49" y="439.06" font-size="4.9" text-anchor="middle" fill="#1e1e1e" >0.590</text>
<rect x="337.36" y="434.29" width="16.30" height="6.06" fill="#b87560" stroke="#1a1a1a" stroke-width="0.6"/>
<text x="345.51" y="439.06" font-size="4.9" text-anchor="middle" fill="#1e1e1e" >0.604</text>
<rect x="355.38" y="434.29" width="16.30" height="6.06" fill="#ba6564" stroke="#1a1a1a" stroke-width="0.6"/>
<text x="363.53" y="439.06" font-size="4.9" text-anchor="middle" fill="#1e1e1e" >0.567</text>
<rect x="373.40" y="434.29" width="16.30" height="6.06" fill="#8ba248" stroke="#1a1a1a" stroke-width="0.6"/>
<text x="381.55" y="439.06" font-size="4.9" text-anchor="middle" fill="#1e1e1e" >0.770</text>
<text x="280.80" y="446.47" font-size="5.33" text-anchor="end" fill="#222" stroke="#222" stroke-width="0.1">Stepglm[backward]+XGBoost</text>
<rect x="283.30" y="440.95" width="16.30" height="6.06" fill="#50be35" stroke="#1a1a1a" stroke-width="0.6"/>
<text x="291.45" y="445.72" font-size="4.9" text-anchor="middle" fill="#1e1e1e" >0.981</text>
<rect x="301.32" y="440.95" width="16.30" height="6.06" fill="#949f4d" stroke="#1a1a1a" stroke-width="0.6"/>
<text x="309.47" y="445.72" font-size="4.9" text-anchor="middle" fill="#1e1e1e" >0.737</text>
<rect x="319.34" y="440.95" width="16.30" height="6.06" fill="#ba6c63" stroke="#1a1a1a" stroke-width="0.6"/>
<text x="327.49" y="445.72" font-size="4.9" text-anchor="middle" fill="#1e1e1e" >0.583</text>
<rect x="337.36" y="440.95" width="16.30" height="6.06" fill="#bb5c67" stroke="#1a1a1a" stroke-width="0.6"/>
<text x="345.51" y="445.72" font-size="4.9" text-anchor="middle" fill="#1e1e1e" >0.548</text>
<rect x="355.38" y="440.95" width="16.30" height="6.06" fill="#bc5868" stroke="#1a1a1a" stroke-width="0.6"/>
<text x="363.53" y="445.72" font-size="4.9" text-anchor="middle" fill="#1e1e1e" >0.540</text>
<rect x="373.40" y="440.95" width="16.30" height="6.06" fill="#68ae3e" stroke="#1a1a1a" stroke-width="0.6"/>
<text x="381.55" y="445.72" font-size="4.9" text-anchor="middle" fill="#1e1e1e" >0.866</text>
<text x="280.80" y="453.13" font-size="5.33" text-anchor="end" fill="#222" stroke="#222" stroke-width="0.1">Stepglm[both]+XGBoost</text>
<rect x="283.30" y="447.61" width="16.30" height="6.06" fill="#50be35" stroke="#1a1a1a" stroke-width="0.6"/>
<text x="291.45" y="452.37" font-size="4.9" text-anchor="middle" fill="#1e1e1e" >0.981</text>
<rect x="301.32" y="447.61" width="16.30" height="6.06" fill="#949f4d" stroke="#1a1a1a" stroke-width="0.6"/>
<text x="309.47" y="452.37" font-size="4.9" text-anchor="middle" fill="#1e1e1e" >0.737</text>
<rect x="319.34" y="447.61" width="16.30" height="6.06" fill="#ba6e62" stroke="#1a1a1a" stroke-width="0.6"/>
<text x="327.49" y="452.37" font-size="4.9" text-anchor="middle" fill="#1e1e1e" >0.587</text>
<rect x="337.36" y="447.61" width="16.30" height="6.06" fill="#bb5c67" stroke="#1a1a1a" stroke-width="0.6"/>
<text x="345.51" y="452.37" font-size="4.9" text-anchor="middle" fill="#1e1e1e" >0.548</text>
<rect x="355.38" y="447.61" width="16.30" height="6.06" fill="#bc5868" stroke="#1a1a1a" stroke-width="0.6"/>
<text x="363.53" y="452.37" font-size="4.9" text-anchor="middle" fill="#1e1e1e" >0.540</text>
<rect x="373.40" y="447.61" width="16.30" height="6.06" fill="#68ae3e" stroke="#1a1a1a" stroke-width="0.6"/>
<text x="381.55" y="452.37" font-size="4.9" text-anchor="middle" fill="#1e1e1e" >0.866</text>
<text x="280.80" y="459.78" font-size="5.33" text-anchor="end" fill="#222" stroke="#222" stroke-width="0.1">RF</text>
<rect x="283.30" y="454.26" width="16.30" height="6.06" fill="#52bc36" stroke="#1a1a1a" stroke-width="0.6"/>
<text x="291.45" y="459.03" font-size="4.9" text-anchor="middle" fill="#1e1e1e" >0.966</text>
<rect x="301.32" y="454.26" width="16.30" height="6.06" fill="#989c4f" stroke="#1a1a1a" stroke-width="0.6"/>
<text x="309.47" y="459.03" font-size="4.9" text-anchor="middle" fill="#1e1e1e" >0.719</text>
<rect x="319.34" y="454.26" width="16.30" height="6.06" fill="#b77760" stroke="#1a1a1a" stroke-width="0.6"/>
<text x="327.49" y="459.03" font-size="4.9" text-anchor="middle" fill="#1e1e1e" >0.610</text>
<rect x="337.36" y="454.26" width="16.30" height="6.06" fill="#a49058" stroke="#1a1a1a" stroke-width="0.6"/>
<text x="345.51" y="459.03" font-size="4.9" text-anchor="middle" fill="#1e1e1e" >0.676</text>
<rect x="355.38" y="454.26" width="16.30" height="6.06" fill="#af815d" stroke="#1a1a1a" stroke-width="0.6"/>
<text x="363.53" y="459.03" font-size="4.9" text-anchor="middle" fill="#1e1e1e" >0.642</text>
<rect x="373.40" y="454.26" width="16.30" height="6.06" fill="#b97062" stroke="#1a1a1a" stroke-width="0.6"/>
<text x="381.55" y="459.03" font-size="4.9" text-anchor="middle" fill="#1e1e1e" >0.593</text>
<text x="280.80" y="466.44" font-size="5.33" text-anchor="end" fill="#222" stroke="#222" stroke-width="0.1">glmBoost+Ridge</text>
<rect x="283.30" y="460.92" width="16.30" height="6.06" fill="#5fb13c" stroke="#1a1a1a" stroke-width="0.6"/>
<text x="291.45" y="465.69" font-size="4.9" text-anchor="middle" fill="#1e1e1e" >0.889</text>
<rect x="301.32" y="460.92" width="16.30" height="6.06" fill="#ab875b" stroke="#1a1a1a" stroke-width="0.6"/>
<text x="309.47" y="465.69" font-size="4.9" text-anchor="middle" fill="#1e1e1e" >0.656</text>
<rect x="319.34" y="460.92" width="16.30" height="6.06" fill="#b47b5f" stroke="#1a1a1a" stroke-width="0.6"/>
<text x="327.49" y="465.69" font-size="4.9" text-anchor="middle" fill="#1e1e1e" >0.623</text>
<rect x="337.36" y="460.92" width="16.30" height="6.06" fill="#9f9654" stroke="#1a1a1a" stroke-width="0.6"/>
<text x="345.51" y="465.69" font-size="4.9" text-anchor="middle" fill="#1e1e1e" >0.692</text>
<rect x="355.38" y="460.92" width="16.30" height="6.06" fill="#a09555" stroke="#1a1a1a" stroke-width="0.6"/>
<text x="363.53" y="465.69" font-size="4.9" text-anchor="middle" fill="#1e1e1e" >0.688</text>
<rect x="373.40" y="460.92" width="16.30" height="6.06" fill="#a39257" stroke="#1a1a1a" stroke-width="0.6"/>
<text x="381.55" y="465.69" font-size="4.9" text-anchor="middle" fill="#1e1e1e" >0.680</text>
<text x="280.80" y="473.10" font-size="5.33" text-anchor="end" fill="#222" stroke="#222" stroke-width="0.1">plsRglm</text>
<rect x="283.30" y="467.58" width="16.30" height="6.06" fill="#5db33b" stroke="#1a1a1a" stroke-width="0.6"/>
<text x="291.45" y="472.34" font-size="4.9" text-anchor="middle" fill="#1e1e1e" >0.901</text>
<rect x="301.32" y="467.58" width="16.30" height="6.06" fill="#80a642" stroke="#1a1a1a" stroke-width="0.6"/>
<text x="309.47" y="472.34" font-size="4.9" text-anchor="middle" fill="#1e1e1e" >0.806</text>
<rect x="319.34" y="467.58" width="16.30" height="6.06" fill="#b27d5e" stroke="#1a1a1a" stroke-width="0.6"/>
<text x="327.49" y="472.34" font-size="4.9" text-anchor="middle" fill="#1e1e1e" >0.628</text>
<rect x="337.36" y="467.58" width="16.30" height="6.06" fill="#bd4f6b" stroke="#1a1a1a" stroke-width="0.6"/>
<text x="345.51" y="472.34" font-size="4.9" text-anchor="middle" fill="#1e1e1e" >0.520</text>
<rect x="355.38" y="467.58" width="16.30" height="6.06" fill="#ba6e62" stroke="#1a1a1a" stroke-width="0.6"/>
<text x="363.53" y="472.34" font-size="4.9" text-anchor="middle" fill="#1e1e1e" >0.587</text>
<rect x="373.40" y="467.58" width="16.30" height="6.06" fill="#949e4d" stroke="#1a1a1a" stroke-width="0.6"/>
<text x="381.55" y="472.34" font-size="4.9" text-anchor="middle" fill="#1e1e1e" >0.735</text>
<text x="280.80" y="479.75" font-size="5.33" text-anchor="end" fill="#222" stroke="#222" stroke-width="0.1">glmBoost+GBM</text>
<rect x="283.30" y="474.23" width="16.30" height="6.06" fill="#55ba38" stroke="#1a1a1a" stroke-width="0.6"/>
<text x="291.45" y="479.00" font-size="4.9" text-anchor="middle" fill="#1e1e1e" >0.943</text>
<rect x="301.32" y="474.23" width="16.30" height="6.06" fill="#b67760" stroke="#1a1a1a" stroke-width="0.6"/>
<text x="309.47" y="479.00" font-size="4.9" text-anchor="middle" fill="#1e1e1e" >0.612</text>
<rect x="319.34" y="474.23" width="16.30" height="6.06" fill="#b97361" stroke="#1a1a1a" stroke-width="0.6"/>
<text x="327.49" y="479.00" font-size="4.9" text-anchor="middle" fill="#1e1e1e" >0.600</text>
<rect x="337.36" y="474.23" width="16.30" height="6.06" fill="#b27d5e" stroke="#1a1a1a" stroke-width="0.6"/>
<text x="345.51" y="479.00" font-size="4.9" text-anchor="middle" fill="#1e1e1e" >0.630</text>
<rect x="355.38" y="474.23" width="16.30" height="6.06" fill="#af815d" stroke="#1a1a1a" stroke-width="0.6"/>
<text x="363.53" y="479.00" font-size="4.9" text-anchor="middle" fill="#1e1e1e" >0.642</text>
<rect x="373.40" y="474.23" width="16.30" height="6.06" fill="#89a347" stroke="#1a1a1a" stroke-width="0.6"/>
<text x="381.55" y="479.00" font-size="4.9" text-anchor="middle" fill="#1e1e1e" >0.775</text>
<text x="280.80" y="486.41" font-size="5.33" text-anchor="end" fill="#222" stroke="#222" stroke-width="0.1">RF+GBM</text>
<rect x="283.30" y="480.89" width="16.30" height="6.06" fill="#69ae3e" stroke="#1a1a1a" stroke-width="0.6"/>
<text x="291.45" y="485.66" font-size="4.9" text-anchor="middle" fill="#1e1e1e" >0.865</text>
<rect x="301.32" y="480.89" width="16.30" height="6.06" fill="#9a9a50" stroke="#1a1a1a" stroke-width="0.6"/>
<text x="309.47" y="485.66" font-size="4.9" text-anchor="middle" fill="#1e1e1e" >0.711</text>
<rect x="319.34" y="480.89" width="16.30" height="6.06" fill="#ae835c" stroke="#1a1a1a" stroke-width="0.6"/>
<text x="327.49" y="485.66" font-size="4.9" text-anchor="middle" fill="#1e1e1e" >0.647</text>
<rect x="337.36" y="480.89" width="16.30" height="6.06" fill="#b0805d" stroke="#1a1a1a" stroke-width="0.6"/>
<text x="345.51" y="485.66" font-size="4.9" text-anchor="middle" fill="#1e1e1e" >0.637</text>
<rect x="355.38" y="480.89" width="16.30" height="6.06" fill="#b47a5f" stroke="#1a1a1a" stroke-width="0.6"/>
<text x="363.53" y="485.66" font-size="4.9" text-anchor="middle" fill="#1e1e1e" >0.621</text>
<rect x="373.40" y="480.89" width="16.30" height="6.06" fill="#ad855c" stroke="#1a1a1a" stroke-width="0.6"/>
<text x="381.55" y="485.66" font-size="4.9" text-anchor="middle" fill="#1e1e1e" >0.651</text>
<text x="280.80" y="493.07" font-size="5.33" text-anchor="end" fill="#222" stroke="#222" stroke-width="0.1">XGBoost</text>
<rect x="283.30" y="487.55" width="16.30" height="6.06" fill="#51bd35" stroke="#1a1a1a" stroke-width="0.6"/>
<text x="291.45" y="492.32" font-size="4.9" text-anchor="middle" fill="#1e1e1e" >0.974</text>
<rect x="301.32" y="487.55" width="16.30" height="6.06" fill="#92a04b" stroke="#1a1a1a" stroke-width="0.6"/>
<text x="309.47" y="492.32" font-size="4.9" text-anchor="middle" fill="#1e1e1e" >0.745</text>
<rect x="319.34" y="487.55" width="16.30" height="6.06" fill="#bb6265" stroke="#1a1a1a" stroke-width="0.6"/>
<text x="327.49" y="492.32" font-size="4.9" text-anchor="middle" fill="#1e1e1e" >0.561</text>
<rect x="337.36" y="487.55" width="16.30" height="6.06" fill="#bb6066" stroke="#1a1a1a" stroke-width="0.6"/>
<text x="345.51" y="492.32" font-size="4.9" text-anchor="middle" fill="#1e1e1e" >0.557</text>
<rect x="355.38" y="487.55" width="16.30" height="6.06" fill="#ba6465" stroke="#1a1a1a" stroke-width="0.6"/>
<text x="363.53" y="492.32" font-size="4.9" text-anchor="middle" fill="#1e1e1e" >0.566</text>
<rect x="373.40" y="487.55" width="16.30" height="6.06" fill="#9c9952" stroke="#1a1a1a" stroke-width="0.6"/>
<text x="381.55" y="492.32" font-size="4.9" text-anchor="middle" fill="#1e1e1e" >0.700</text>
<text x="280.80" y="499.72" font-size="5.33" text-anchor="end" fill="#222" stroke="#222" stroke-width="0.1">NaiveBayes</text>
<rect x="283.30" y="494.20" width="16.30" height="6.06" fill="#8ba248" stroke="#1a1a1a" stroke-width="0.6"/>
<text x="291.45" y="498.97" font-size="4.9" text-anchor="middle" fill="#1e1e1e" >0.767</text>
<rect x="301.32" y="494.20" width="16.30" height="6.06" fill="#88a346" stroke="#1a1a1a" stroke-width="0.6"/>
<text x="309.47" y="498.97" font-size="4.9" text-anchor="middle" fill="#1e1e1e" >0.780</text>
<rect x="319.34" y="494.20" width="16.30" height="6.06" fill="#a78d59" stroke="#1a1a1a" stroke-width="0.6"/>
<text x="327.49" y="498.97" font-size="4.9" text-anchor="middle" fill="#1e1e1e" >0.669</text>
<rect x="337.36" y="494.20" width="16.30" height="6.06" fill="#ad855c" stroke="#1a1a1a" stroke-width="0.6"/>
<text x="345.51" y="498.97" font-size="4.9" text-anchor="middle" fill="#1e1e1e" >0.651</text>
<rect x="355.38" y="494.20" width="16.30" height="6.06" fill="#b87560" stroke="#1a1a1a" stroke-width="0.6"/>
<text x="363.53" y="498.97" font-size="4.9" text-anchor="middle" fill="#1e1e1e" >0.605</text>
<rect x="373.40" y="494.20" width="16.30" height="6.06" fill="#b37b5e" stroke="#1a1a1a" stroke-width="0.6"/>
<text x="381.55" y="498.97" font-size="4.9" text-anchor="middle" fill="#1e1e1e" >0.624</text>
<text x="280.80" y="506.38" font-size="5.33" text-anchor="end" fill="#222" stroke="#222" stroke-width="0.1">glmBoost</text>
<rect x="283.30" y="500.86" width="16.30" height="6.06" fill="#60b13c" stroke="#1a1a1a" stroke-width="0.6"/>
<text x="291.45" y="505.63" font-size="4.9" text-anchor="middle" fill="#1e1e1e" >0.888</text>
<rect x="301.32" y="500.86" width="16.30" height="6.06" fill="#b0805d" stroke="#1a1a1a" stroke-width="0.6"/>
<text x="309.47" y="505.63" font-size="4.9" text-anchor="middle" fill="#1e1e1e" >0.639</text>
<rect x="319.34" y="500.86" width="16.30" height="6.06" fill="#ae835c" stroke="#1a1a1a" stroke-width="0.6"/>
<text x="327.49" y="505.63" font-size="4.9" text-anchor="middle" fill="#1e1e1e" >0.646</text>
<rect x="337.36" y="500.86" width="16.30" height="6.06" fill="#ae825d" stroke="#1a1a1a" stroke-width="0.6"/>
<text x="345.51" y="505.63" font-size="4.9" text-anchor="middle" fill="#1e1e1e" >0.644</text>
<rect x="355.38" y="500.86" width="16.30" height="6.06" fill="#a39157" stroke="#1a1a1a" stroke-width="0.6"/>
<text x="363.53" y="505.63" font-size="4.9" text-anchor="middle" fill="#1e1e1e" >0.679</text>
<rect x="373.40" y="500.86" width="16.30" height="6.06" fill="#b87560" stroke="#1a1a1a" stroke-width="0.6"/>
<text x="381.55" y="505.63" font-size="4.9" text-anchor="middle" fill="#1e1e1e" >0.606</text>
<text x="280.80" y="513.04" font-size="5.33" text-anchor="end" fill="#222" stroke="#222" stroke-width="0.1">Lasso+glmBoost</text>
<rect x="283.30" y="507.52" width="16.30" height="6.06" fill="#60b13c" stroke="#1a1a1a" stroke-width="0.6"/>
<text x="291.45" y="512.29" font-size="4.9" text-anchor="middle" fill="#1e1e1e" >0.888</text>
<rect x="301.32" y="507.52" width="16.30" height="6.06" fill="#b47b5f" stroke="#1a1a1a" stroke-width="0.6"/>
<text x="309.47" y="512.29" font-size="4.9" text-anchor="middle" fill="#1e1e1e" >0.622</text>
<rect x="319.34" y="507.52" width="16.30" height="6.06" fill="#ad845c" stroke="#1a1a1a" stroke-width="0.6"/>
<text x="327.49" y="512.29" font-size="4.9" text-anchor="middle" fill="#1e1e1e" >0.649</text>
<rect x="337.36" y="507.52" width="16.30" height="6.06" fill="#ae825d" stroke="#1a1a1a" stroke-width="0.6"/>
<text x="345.51" y="512.29" font-size="4.9" text-anchor="middle" fill="#1e1e1e" >0.644</text>
<rect x="355.38" y="507.52" width="16.30" height="6.06" fill="#a39157" stroke="#1a1a1a" stroke-width="0.6"/>
<text x="363.53" y="512.29" font-size="4.9" text-anchor="middle" fill="#1e1e1e" >0.679</text>
<rect x="373.40" y="507.52" width="16.30" height="6.06" fill="#b87560" stroke="#1a1a1a" stroke-width="0.6"/>
<text x="381.55" y="512.29" font-size="4.9" text-anchor="middle" fill="#1e1e1e" >0.606</text>
<text x="280.80" y="519.70" font-size="5.33" text-anchor="end" fill="#222" stroke="#222" stroke-width="0.1">Stepglm[backward]+glmBoost</text>
<rect x="283.30" y="514.17" width="16.30" height="6.06" fill="#60b13c" stroke="#1a1a1a" stroke-width="0.6"/>
<text x="291.45" y="518.94" font-size="4.9" text-anchor="middle" fill="#1e1e1e" >0.888</text>
<rect x="301.32" y="514.17" width="16.30" height="6.06" fill="#b17f5d" stroke="#1a1a1a" stroke-width="0.6"/>
<text x="309.47" y="518.94" font-size="4.9" text-anchor="middle" fill="#1e1e1e" >0.635</text>
<rect x="319.34" y="514.17" width="16.30" height="6.06" fill="#ae825d" stroke="#1a1a1a" stroke-width="0.6"/>
<text x="327.49" y="518.94" font-size="4.9" text-anchor="middle" fill="#1e1e1e" >0.645</text>
<rect x="337.36" y="514.17" width="16.30" height="6.06" fill="#ae825d" stroke="#1a1a1a" stroke-width="0.6"/>
<text x="345.51" y="518.94" font-size="4.9" text-anchor="middle" fill="#1e1e1e" >0.644</text>
<rect x="355.38" y="514.17" width="16.30" height="6.06" fill="#a39157" stroke="#1a1a1a" stroke-width="0.6"/>
<text x="363.53" y="518.94" font-size="4.9" text-anchor="middle" fill="#1e1e1e" >0.679</text>
<rect x="373.40" y="514.17" width="16.30" height="6.06" fill="#b87560" stroke="#1a1a1a" stroke-width="0.6"/>
<text x="381.55" y="518.94" font-size="4.9" text-anchor="middle" fill="#1e1e1e" >0.606</text>
<text x="280.80" y="526.35" font-size="5.33" text-anchor="end" fill="#222" stroke="#222" stroke-width="0.1">Stepglm[both]+glmBoost</text>
<rect x="283.30" y="520.83" width="16.30" height="6.06" fill="#60b13c" stroke="#1a1a1a" stroke-width="0.6"/>
<text x="291.45" y="525.60" font-size="4.9" text-anchor="middle" fill="#1e1e1e" >0.888</text>
<rect x="301.32" y="520.83" width="16.30" height="6.06" fill="#b17f5d" stroke="#1a1a1a" stroke-width="0.6"/>
<text x="309.47" y="525.60" font-size="4.9" text-anchor="middle" fill="#1e1e1e" >0.635</text>
<rect x="319.34" y="520.83" width="16.30" height="6.06" fill="#ae825d" stroke="#1a1a1a" stroke-width="0.6"/>
<text x="327.49" y="525.60" font-size="4.9" text-anchor="middle" fill="#1e1e1e" >0.644</text>
<rect x="337.36" y="520.83" width="16.30" height="6.06" fill="#ae825d" stroke="#1a1a1a" stroke-width="0.6"/>
<text x="345.51" y="525.60" font-size="4.9" text-anchor="middle" fill="#1e1e1e" >0.644</text>
<rect x="355.38" y="520.83" width="16.30" height="6.06" fill="#a39157" stroke="#1a1a1a" stroke-width="0.6"/>
<text x="363.53" y="525.60" font-size="4.9" text-anchor="middle" fill="#1e1e1e" >0.679</text>
<rect x="373.40" y="520.83" width="16.30" height="6.06" fill="#b87560" stroke="#1a1a1a" stroke-width="0.6"/>
<text x="381.55" y="525.60" font-size="4.9" text-anchor="middle" fill="#1e1e1e" >0.606</text>
<text x="280.80" y="533.01" font-size="5.33" text-anchor="end" fill="#222" stroke="#222" stroke-width="0.1">Lasso+NaiveBayes</text>
<rect x="283.30" y="527.49" width="16.30" height="6.06" fill="#89a347" stroke="#1a1a1a" stroke-width="0.6"/>
<text x="291.45" y="532.26" font-size="4.9" text-anchor="middle" fill="#1e1e1e" >0.777</text>
<rect x="301.32" y="527.49" width="16.30" height="6.06" fill="#84a544" stroke="#1a1a1a" stroke-width="0.6"/>
<text x="309.47" y="532.26" font-size="4.9" text-anchor="middle" fill="#1e1e1e" >0.795</text>
<rect x="319.34" y="527.49" width="16.30" height="6.06" fill="#a68e59" stroke="#1a1a1a" stroke-width="0.6"/>
<text x="327.49" y="532.26" font-size="4.9" text-anchor="middle" fill="#1e1e1e" >0.670</text>
<rect x="337.36" y="527.49" width="16.30" height="6.06" fill="#b47b5f" stroke="#1a1a1a" stroke-width="0.6"/>
<text x="345.51" y="532.26" font-size="4.9" text-anchor="middle" fill="#1e1e1e" >0.622</text>
<rect x="355.38" y="527.49" width="16.30" height="6.06" fill="#b97461" stroke="#1a1a1a" stroke-width="0.6"/>
<text x="363.53" y="532.26" font-size="4.9" text-anchor="middle" fill="#1e1e1e" >0.601</text>
<rect x="373.40" y="527.49" width="16.30" height="6.06" fill="#b67760" stroke="#1a1a1a" stroke-width="0.6"/>
<text x="381.55" y="532.26" font-size="4.9" text-anchor="middle" fill="#1e1e1e" >0.611</text>
<text x="280.80" y="539.67" font-size="5.33" text-anchor="end" fill="#222" stroke="#222" stroke-width="0.1">Stepglm[backward]+NaiveBayes</text>
<rect x="283.30" y="534.15" width="16.30" height="6.06" fill="#88a346" stroke="#1a1a1a" stroke-width="0.6"/>
<text x="291.45" y="538.91" font-size="4.9" text-anchor="middle" fill="#1e1e1e" >0.781</text>
<rect x="301.32" y="534.15" width="16.30" height="6.06" fill="#86a445" stroke="#1a1a1a" stroke-width="0.6"/>
<text x="309.47" y="538.91" font-size="4.9" text-anchor="middle" fill="#1e1e1e" >0.787</text>
<rect x="319.34" y="534.15" width="16.30" height="6.06" fill="#a58f59" stroke="#1a1a1a" stroke-width="0.6"/>
<text x="327.49" y="538.91" font-size="4.9" text-anchor="middle" fill="#1e1e1e" >0.673</text>
<rect x="337.36" y="534.15" width="16.30" height="6.06" fill="#ba6564" stroke="#1a1a1a" stroke-width="0.6"/>
<text x="345.51" y="538.91" font-size="4.9" text-anchor="middle" fill="#1e1e1e" >0.569</text>
<rect x="355.38" y="534.15" width="16.30" height="6.06" fill="#bc5768" stroke="#1a1a1a" stroke-width="0.6"/>
<text x="363.53" y="538.91" font-size="4.9" text-anchor="middle" fill="#1e1e1e" >0.538</text>
<rect x="373.40" y="534.15" width="16.30" height="6.06" fill="#b77660" stroke="#1a1a1a" stroke-width="0.6"/>
<text x="381.55" y="538.91" font-size="4.9" text-anchor="middle" fill="#1e1e1e" >0.608</text>
<text x="280.80" y="546.32" font-size="5.33" text-anchor="end" fill="#222" stroke="#222" stroke-width="0.1">Stepglm[both]+NaiveBayes</text>
<rect x="283.30" y="540.80" width="16.30" height="6.06" fill="#88a346" stroke="#1a1a1a" stroke-width="0.6"/>
<text x="291.45" y="545.57" font-size="4.9" text-anchor="middle" fill="#1e1e1e" >0.781</text>
<rect x="301.32" y="540.80" width="16.30" height="6.06" fill="#86a445" stroke="#1a1a1a" stroke-width="0.6"/>
<text x="309.47" y="545.57" font-size="4.9" text-anchor="middle" fill="#1e1e1e" >0.787</text>
<rect x="319.34" y="540.80" width="16.30" height="6.06" fill="#a58f59" stroke="#1a1a1a" stroke-width="0.6"/>
<text x="327.49" y="545.57" font-size="4.9" text-anchor="middle" fill="#1e1e1e" >0.673</text>
<rect x="337.36" y="540.80" width="16.30" height="6.06" fill="#ba6465" stroke="#1a1a1a" stroke-width="0.6"/>
<text x="345.51" y="545.57" font-size="4.9" text-anchor="middle" fill="#1e1e1e" >0.566</text>
<rect x="355.38" y="540.80" width="16.30" height="6.06" fill="#bc5768" stroke="#1a1a1a" stroke-width="0.6"/>
<text x="363.53" y="545.57" font-size="4.9" text-anchor="middle" fill="#1e1e1e" >0.538</text>
<rect x="373.40" y="540.80" width="16.30" height="6.06" fill="#b77660" stroke="#1a1a1a" stroke-width="0.6"/>
<text x="381.55" y="545.57" font-size="4.9" text-anchor="middle" fill="#1e1e1e" >0.608</text>
<text x="280.80" y="552.98" font-size="5.33" text-anchor="end" fill="#222" stroke="#222" stroke-width="0.1">glmBoost+XGBoost</text>
<rect x="283.30" y="547.46" width="16.30" height="6.06" fill="#7aa841" stroke="#1a1a1a" stroke-width="0.6"/>
<text x="291.45" y="552.23" font-size="4.9" text-anchor="middle" fill="#1e1e1e" >0.820</text>
<rect x="301.32" y="547.46" width="16.30" height="6.06" fill="#bd4f6b" stroke="#1a1a1a" stroke-width="0.6"/>
<text x="309.47" y="552.23" font-size="4.9" text-anchor="middle" fill="#1e1e1e" >0.520</text>
<rect x="319.34" y="547.46" width="16.30" height="6.06" fill="#b07f5d" stroke="#1a1a1a" stroke-width="0.6"/>
<text x="327.49" y="552.23" font-size="4.9" text-anchor="middle" fill="#1e1e1e" >0.636</text>
<rect x="337.36" y="547.46" width="16.30" height="6.06" fill="#b77660" stroke="#1a1a1a" stroke-width="0.6"/>
<text x="345.51" y="552.23" font-size="4.9" text-anchor="middle" fill="#1e1e1e" >0.609</text>
<rect x="355.38" y="547.46" width="16.30" height="6.06" fill="#a88b5a" stroke="#1a1a1a" stroke-width="0.6"/>
<text x="363.53" y="552.23" font-size="4.9" text-anchor="middle" fill="#1e1e1e" >0.665</text>
<rect x="373.40" y="547.46" width="16.30" height="6.06" fill="#b47a5f" stroke="#1a1a1a" stroke-width="0.6"/>
<text x="381.55" y="552.23" font-size="4.9" text-anchor="middle" fill="#1e1e1e" >0.620</text>
<text x="280.80" y="559.64" font-size="5.33" text-anchor="end" fill="#222" stroke="#222" stroke-width="0.1">RF+XGBoost</text>
<rect x="283.30" y="554.12" width="16.30" height="6.06" fill="#63b03c" stroke="#1a1a1a" stroke-width="0.6"/>
<text x="291.45" y="558.88" font-size="4.9" text-anchor="middle" fill="#1e1e1e" >0.880</text>
<rect x="301.32" y="554.12" width="16.30" height="6.06" fill="#a98a5a" stroke="#1a1a1a" stroke-width="0.6"/>
<text x="309.47" y="558.88" font-size="4.9" text-anchor="middle" fill="#1e1e1e" >0.663</text>
<rect x="319.34" y="554.12" width="16.30" height="6.06" fill="#b47b5f" stroke="#1a1a1a" stroke-width="0.6"/>
<text x="327.49" y="558.88" font-size="4.9" text-anchor="middle" fill="#1e1e1e" >0.623</text>
<rect x="337.36" y="554.12" width="16.30" height="6.06" fill="#b47b5f" stroke="#1a1a1a" stroke-width="0.6"/>
<text x="345.51" y="558.88" font-size="4.9" text-anchor="middle" fill="#1e1e1e" >0.623</text>
<rect x="355.38" y="554.12" width="16.30" height="6.06" fill="#b67760" stroke="#1a1a1a" stroke-width="0.6"/>
<text x="363.53" y="558.88" font-size="4.9" text-anchor="middle" fill="#1e1e1e" >0.611</text>
<rect x="373.40" y="554.12" width="16.30" height="6.06" fill="#c03a73" stroke="#1a1a1a" stroke-width="0.6"/>
<text x="381.55" y="558.88" font-size="4.9" text-anchor="middle" fill="#1e1e1e" >0.478</text>
<text x="280.80" y="566.29" font-size="5.33" text-anchor="end" fill="#222" stroke="#222" stroke-width="0.1">glmBoost+RF</text>
<rect x="283.30" y="560.77" width="16.30" height="6.06" fill="#53bc36" stroke="#1a1a1a" stroke-width="0.6"/>
<text x="291.45" y="565.54" font-size="4.9" text-anchor="middle" fill="#1e1e1e" >0.960</text>
<rect x="301.32" y="560.77" width="16.30" height="6.06" fill="#b97361" stroke="#1a1a1a" stroke-width="0.6"/>
<text x="309.47" y="565.54" font-size="4.9" text-anchor="middle" fill="#1e1e1e" >0.600</text>
<rect x="319.34" y="560.77" width="16.30" height="6.06" fill="#ba6963" stroke="#1a1a1a" stroke-width="0.6"/>
<text x="327.49" y="565.54" font-size="4.9" text-anchor="middle" fill="#1e1e1e" >0.577</text>
<rect x="337.36" y="560.77" width="16.30" height="6.06" fill="#c13177" stroke="#1a1a1a" stroke-width="0.6"/>
<text x="345.51" y="565.54" font-size="4.9" text-anchor="middle" fill="#1e1e1e" >0.461</text>
<rect x="355.38" y="560.77" width="16.30" height="6.06" fill="#bb5d66" stroke="#1a1a1a" stroke-width="0.6"/>
<text x="363.53" y="565.54" font-size="4.9" text-anchor="middle" fill="#1e1e1e" >0.551</text>
<rect x="373.40" y="560.77" width="16.30" height="6.06" fill="#959d4e" stroke="#1a1a1a" stroke-width="0.6"/>
<text x="381.55" y="565.54" font-size="4.9" text-anchor="middle" fill="#1e1e1e" >0.730</text>
<text x="280.80" y="572.95" font-size="5.33" text-anchor="end" fill="#222" stroke="#222" stroke-width="0.1">RF+NaiveBayes</text>
<rect x="283.30" y="567.43" width="16.30" height="6.06" fill="#78a941" stroke="#1a1a1a" stroke-width="0.6"/>
<text x="291.45" y="572.20" font-size="4.9" text-anchor="middle" fill="#1e1e1e" >0.825</text>
<rect x="301.32" y="567.43" width="16.30" height="6.06" fill="#83a544" stroke="#1a1a1a" stroke-width="0.6"/>
<text x="309.47" y="572.20" font-size="4.9" text-anchor="middle" fill="#1e1e1e" >0.796</text>
<rect x="319.34" y="567.43" width="16.30" height="6.06" fill="#ab875b" stroke="#1a1a1a" stroke-width="0.6"/>
<text x="327.49" y="572.20" font-size="4.9" text-anchor="middle" fill="#1e1e1e" >0.656</text>
<rect x="337.36" y="567.43" width="16.30" height="6.06" fill="#ba6265" stroke="#1a1a1a" stroke-width="0.6"/>
<text x="345.51" y="572.20" font-size="4.9" text-anchor="middle" fill="#1e1e1e" >0.562</text>
<rect x="355.38" y="567.43" width="16.30" height="6.06" fill="#c03c72" stroke="#1a1a1a" stroke-width="0.6"/>
<text x="363.53" y="572.20" font-size="4.9" text-anchor="middle" fill="#1e1e1e" >0.481</text>
<rect x="373.40" y="567.43" width="16.30" height="6.06" fill="#ba6664" stroke="#1a1a1a" stroke-width="0.6"/>
<text x="381.55" y="572.20" font-size="4.9" text-anchor="middle" fill="#1e1e1e" >0.571</text>
<text x="280.80" y="579.61" font-size="5.33" text-anchor="end" fill="#222" stroke="#222" stroke-width="0.1">RF+Ridge</text>
<rect x="283.30" y="574.09" width="16.30" height="6.06" fill="#78a941" stroke="#1a1a1a" stroke-width="0.6"/>
<text x="291.45" y="578.86" font-size="4.9" text-anchor="middle" fill="#1e1e1e" >0.826</text>
<rect x="301.32" y="574.09" width="16.30" height="6.06" fill="#979c4f" stroke="#1a1a1a" stroke-width="0.6"/>
<text x="309.47" y="578.86" font-size="4.9" text-anchor="middle" fill="#1e1e1e" >0.723</text>
<rect x="319.34" y="574.09" width="16.30" height="6.06" fill="#a59058" stroke="#1a1a1a" stroke-width="0.6"/>
<text x="327.49" y="578.86" font-size="4.9" text-anchor="middle" fill="#1e1e1e" >0.675</text>
<rect x="337.36" y="574.09" width="16.30" height="6.06" fill="#ba6365" stroke="#1a1a1a" stroke-width="0.6"/>
<text x="345.51" y="578.86" font-size="4.9" text-anchor="middle" fill="#1e1e1e" >0.563</text>
<rect x="355.38" y="574.09" width="16.30" height="6.06" fill="#be4b6c" stroke="#1a1a1a" stroke-width="0.6"/>
<text x="363.53" y="578.86" font-size="4.9" text-anchor="middle" fill="#1e1e1e" >0.512</text>
<rect x="373.40" y="574.09" width="16.30" height="6.06" fill="#bb6265" stroke="#1a1a1a" stroke-width="0.6"/>
<text x="381.55" y="578.86" font-size="4.9" text-anchor="middle" fill="#1e1e1e" >0.561</text>
<text x="280.80" y="586.27" font-size="5.33" text-anchor="end" fill="#222" stroke="#222" stroke-width="0.1">RF+Enet[alpha=0.1]</text>
<rect x="283.30" y="580.75" width="16.30" height="6.06" fill="#78a941" stroke="#1a1a1a" stroke-width="0.6"/>
<text x="291.45" y="585.51" font-size="4.9" text-anchor="middle" fill="#1e1e1e" >0.826</text>
<rect x="301.32" y="580.75" width="16.30" height="6.06" fill="#999b50" stroke="#1a1a1a" stroke-width="0.6"/>
<text x="309.47" y="585.51" font-size="4.9" text-anchor="middle" fill="#1e1e1e" >0.716</text>
<rect x="319.34" y="580.75" width="16.30" height="6.06" fill="#a49058" stroke="#1a1a1a" stroke-width="0.6"/>
<text x="327.49" y="585.51" font-size="4.9" text-anchor="middle" fill="#1e1e1e" >0.676</text>
<rect x="337.36" y="580.75" width="16.30" height="6.06" fill="#bb5b67" stroke="#1a1a1a" stroke-width="0.6"/>
<text x="345.51" y="585.51" font-size="4.9" text-anchor="middle" fill="#1e1e1e" >0.546</text>
<rect x="355.38" y="580.75" width="16.30" height="6.06" fill="#be476d" stroke="#1a1a1a" stroke-width="0.6"/>
<text x="363.53" y="585.51" font-size="4.9" text-anchor="middle" fill="#1e1e1e" >0.503</text>
<rect x="373.40" y="580.75" width="16.30" height="6.06" fill="#bb6165" stroke="#1a1a1a" stroke-width="0.6"/>
<text x="381.55" y="585.51" font-size="4.9" text-anchor="middle" fill="#1e1e1e" >0.560</text>
<text x="280.80" y="592.92" font-size="5.33" text-anchor="end" fill="#222" stroke="#222" stroke-width="0.1">RF+Enet[alpha=0.3]</text>
<rect x="283.30" y="587.40" width="16.30" height="6.06" fill="#78a941" stroke="#1a1a1a" stroke-width="0.6"/>
<text x="291.45" y="592.17" font-size="4.9" text-anchor="middle" fill="#1e1e1e" >0.826</text>
<rect x="301.32" y="587.40" width="16.30" height="6.06" fill="#9b9951" stroke="#1a1a1a" stroke-width="0.6"/>
<text x="309.47" y="592.17" font-size="4.9" text-anchor="middle" fill="#1e1e1e" >0.706</text>
<rect x="319.34" y="587.40" width="16.30" height="6.06" fill="#a49058" stroke="#1a1a1a" stroke-width="0.6"/>
<text x="327.49" y="592.17" font-size="4.9" text-anchor="middle" fill="#1e1e1e" >0.676</text>
<rect x="337.36" y="587.40" width="16.30" height="6.06" fill="#bc5669" stroke="#1a1a1a" stroke-width="0.6"/>
<text x="345.51" y="592.17" font-size="4.9" text-anchor="middle" fill="#1e1e1e" >0.535</text>
<rect x="355.38" y="587.40" width="16.30" height="6.06" fill="#be4d6c" stroke="#1a1a1a" stroke-width="0.6"/>
<text x="363.53" y="592.17" font-size="4.9" text-anchor="middle" fill="#1e1e1e" >0.515</text>
<rect x="373.40" y="587.40" width="16.30" height="6.06" fill="#bb5d66" stroke="#1a1a1a" stroke-width="0.6"/>
<text x="381.55" y="592.17" font-size="4.9" text-anchor="middle" fill="#1e1e1e" >0.550</text>
<text x="280.80" y="599.58" font-size="5.33" text-anchor="end" fill="#222" stroke="#222" stroke-width="0.1">RF+Enet[alpha=0.2]</text>
<rect x="283.30" y="594.06" width="16.30" height="6.06" fill="#78a941" stroke="#1a1a1a" stroke-width="0.6"/>
<text x="291.45" y="598.83" font-size="4.9" text-anchor="middle" fill="#1e1e1e" >0.826</text>
<rect x="301.32" y="594.06" width="16.30" height="6.06" fill="#9a9a50" stroke="#1a1a1a" stroke-width="0.6"/>
<text x="309.47" y="598.83" font-size="4.9" text-anchor="middle" fill="#1e1e1e" >0.711</text>
<rect x="319.34" y="594.06" width="16.30" height="6.06" fill="#a49058" stroke="#1a1a1a" stroke-width="0.6"/>
<text x="327.49" y="598.83" font-size="4.9" text-anchor="middle" fill="#1e1e1e" >0.676</text>
<rect x="337.36" y="594.06" width="16.30" height="6.06" fill="#bc5768" stroke="#1a1a1a" stroke-width="0.6"/>
<text x="345.51" y="598.83" font-size="4.9" text-anchor="middle" fill="#1e1e1e" >0.538</text>
<rect x="355.38" y="594.06" width="16.30" height="6.06" fill="#be4b6c" stroke="#1a1a1a" stroke-width="0.6"/>
<text x="363.53" y="598.83" font-size="4.9" text-anchor="middle" fill="#1e1e1e" >0.512</text>
<rect x="373.40" y="594.06" width="16.30" height="6.06" fill="#bb6165" stroke="#1a1a1a" stroke-width="0.6"/>
<text x="381.55" y="598.83" font-size="4.9" text-anchor="middle" fill="#1e1e1e" >0.560</text>
<text x="280.80" y="606.24" font-size="5.33" text-anchor="end" fill="#222" stroke="#222" stroke-width="0.1">RF+Lasso</text>
<rect x="283.30" y="600.72" width="16.30" height="6.06" fill="#78a941" stroke="#1a1a1a" stroke-width="0.6"/>
<text x="291.45" y="605.48" font-size="4.9" text-anchor="middle" fill="#1e1e1e" >0.825</text>
<rect x="301.32" y="600.72" width="16.30" height="6.06" fill="#b67760" stroke="#1a1a1a" stroke-width="0.6"/>
<text x="309.47" y="605.48" font-size="4.9" text-anchor="middle" fill="#1e1e1e" >0.611</text>
<rect x="319.34" y="600.72" width="16.30" height="6.06" fill="#a49158" stroke="#1a1a1a" stroke-width="0.6"/>
<text x="327.49" y="605.48" font-size="4.9" text-anchor="middle" fill="#1e1e1e" >0.677</text>
<rect x="337.36" y="600.72" width="16.30" height="6.06" fill="#bb6066" stroke="#1a1a1a" stroke-width="0.6"/>
<text x="345.51" y="605.48" font-size="4.9" text-anchor="middle" fill="#1e1e1e" >0.557</text>
<rect x="355.38" y="600.72" width="16.30" height="6.06" fill="#b96f62" stroke="#1a1a1a" stroke-width="0.6"/>
<text x="363.53" y="605.48" font-size="4.9" text-anchor="middle" fill="#1e1e1e" >0.590</text>
<rect x="373.40" y="600.72" width="16.30" height="6.06" fill="#bb5b67" stroke="#1a1a1a" stroke-width="0.6"/>
<text x="381.55" y="605.48" font-size="4.9" text-anchor="middle" fill="#1e1e1e" >0.545</text>
<text x="280.80" y="612.89" font-size="5.33" text-anchor="end" fill="#222" stroke="#222" stroke-width="0.1">RF+glmBoost</text>
<rect x="283.30" y="607.37" width="16.30" height="6.06" fill="#78a941" stroke="#1a1a1a" stroke-width="0.6"/>
<text x="291.45" y="612.14" font-size="4.9" text-anchor="middle" fill="#1e1e1e" >0.825</text>
<rect x="301.32" y="607.37" width="16.30" height="6.06" fill="#b67760" stroke="#1a1a1a" stroke-width="0.6"/>
<text x="309.47" y="612.14" font-size="4.9" text-anchor="middle" fill="#1e1e1e" >0.612</text>
<rect x="319.34" y="607.37" width="16.30" height="6.06" fill="#a49158" stroke="#1a1a1a" stroke-width="0.6"/>
<text x="327.49" y="612.14" font-size="4.9" text-anchor="middle" fill="#1e1e1e" >0.677</text>
<rect x="337.36" y="607.37" width="16.30" height="6.06" fill="#bb6066" stroke="#1a1a1a" stroke-width="0.6"/>
<text x="345.51" y="612.14" font-size="4.9" text-anchor="middle" fill="#1e1e1e" >0.557</text>
<rect x="355.38" y="607.37" width="16.30" height="6.06" fill="#b96f62" stroke="#1a1a1a" stroke-width="0.6"/>
<text x="363.53" y="612.14" font-size="4.9" text-anchor="middle" fill="#1e1e1e" >0.590</text>
<rect x="373.40" y="607.37" width="16.30" height="6.06" fill="#bb5b67" stroke="#1a1a1a" stroke-width="0.6"/>
<text x="381.55" y="612.14" font-size="4.9" text-anchor="middle" fill="#1e1e1e" >0.545</text>
<text x="280.80" y="619.55" font-size="5.33" text-anchor="end" fill="#222" stroke="#222" stroke-width="0.1">RF+Stepglm[forward]</text>
<rect x="283.30" y="614.03" width="16.30" height="6.06" fill="#78a941" stroke="#1a1a1a" stroke-width="0.6"/>
<text x="291.45" y="618.80" font-size="4.9" text-anchor="middle" fill="#1e1e1e" >0.826</text>
<rect x="301.32" y="614.03" width="16.30" height="6.06" fill="#9d9852" stroke="#1a1a1a" stroke-width="0.6"/>
<text x="309.47" y="618.80" font-size="4.9" text-anchor="middle" fill="#1e1e1e" >0.699</text>
<rect x="319.34" y="614.03" width="16.30" height="6.06" fill="#a49158" stroke="#1a1a1a" stroke-width="0.6"/>
<text x="327.49" y="618.80" font-size="4.9" text-anchor="middle" fill="#1e1e1e" >0.677</text>
<rect x="337.36" y="614.03" width="16.30" height="6.06" fill="#bd4e6b" stroke="#1a1a1a" stroke-width="0.6"/>
<text x="345.51" y="618.80" font-size="4.9" text-anchor="middle" fill="#1e1e1e" >0.518</text>
<rect x="355.38" y="614.03" width="16.30" height="6.06" fill="#bc5669" stroke="#1a1a1a" stroke-width="0.6"/>
<text x="363.53" y="618.80" font-size="4.9" text-anchor="middle" fill="#1e1e1e" >0.534</text>
<rect x="373.40" y="614.03" width="16.30" height="6.06" fill="#bb5d66" stroke="#1a1a1a" stroke-width="0.6"/>
<text x="381.55" y="618.80" font-size="4.9" text-anchor="middle" fill="#1e1e1e" >0.550</text>
<text x="280.80" y="626.21" font-size="5.33" text-anchor="end" fill="#222" stroke="#222" stroke-width="0.1">RF+Enet[alpha=0.9]</text>
<rect x="283.30" y="620.69" width="16.30" height="6.06" fill="#78a941" stroke="#1a1a1a" stroke-width="0.6"/>
<text x="291.45" y="625.46" font-size="4.9" text-anchor="middle" fill="#1e1e1e" >0.826</text>
<rect x="301.32" y="620.69" width="16.30" height="6.06" fill="#b5795f" stroke="#1a1a1a" stroke-width="0.6"/>
<text x="309.47" y="625.46" font-size="4.9" text-anchor="middle" fill="#1e1e1e" >0.617</text>
<rect x="319.34" y="620.69" width="16.30" height="6.06" fill="#a49158" stroke="#1a1a1a" stroke-width="0.6"/>
<text x="327.49" y="625.46" font-size="4.9" text-anchor="middle" fill="#1e1e1e" >0.678</text>
<rect x="337.36" y="620.69" width="16.30" height="6.06" fill="#bb5e66" stroke="#1a1a1a" stroke-width="0.6"/>
<text x="345.51" y="625.46" font-size="4.9" text-anchor="middle" fill="#1e1e1e" >0.553</text>
<rect x="355.38" y="620.69" width="16.30" height="6.06" fill="#ba6d62" stroke="#1a1a1a" stroke-width="0.6"/>
<text x="363.53" y="625.46" font-size="4.9" text-anchor="middle" fill="#1e1e1e" >0.585</text>
<rect x="373.40" y="620.69" width="16.30" height="6.06" fill="#bb5b67" stroke="#1a1a1a" stroke-width="0.6"/>
<text x="381.55" y="625.46" font-size="4.9" text-anchor="middle" fill="#1e1e1e" >0.545</text>
<text x="280.80" y="632.86" font-size="5.33" text-anchor="end" fill="#222" stroke="#222" stroke-width="0.1">RF+Stepglm[backward]</text>
<rect x="283.30" y="627.34" width="16.30" height="6.06" fill="#78a941" stroke="#1a1a1a" stroke-width="0.6"/>
<text x="291.45" y="632.11" font-size="4.9" text-anchor="middle" fill="#1e1e1e" >0.825</text>
<rect x="301.32" y="627.34" width="16.30" height="6.06" fill="#b5795f" stroke="#1a1a1a" stroke-width="0.6"/>
<text x="309.47" y="632.11" font-size="4.9" text-anchor="middle" fill="#1e1e1e" >0.616</text>
<rect x="319.34" y="627.34" width="16.30" height="6.06" fill="#a49158" stroke="#1a1a1a" stroke-width="0.6"/>
<text x="327.49" y="632.11" font-size="4.9" text-anchor="middle" fill="#1e1e1e" >0.678</text>
<rect x="337.36" y="627.34" width="16.30" height="6.06" fill="#bb5d66" stroke="#1a1a1a" stroke-width="0.6"/>
<text x="345.51" y="632.11" font-size="4.9" text-anchor="middle" fill="#1e1e1e" >0.550</text>
<rect x="355.38" y="627.34" width="16.30" height="6.06" fill="#ba6d62" stroke="#1a1a1a" stroke-width="0.6"/>
<text x="363.53" y="632.11" font-size="4.9" text-anchor="middle" fill="#1e1e1e" >0.585</text>
<rect x="373.40" y="627.34" width="16.30" height="6.06" fill="#bb5b67" stroke="#1a1a1a" stroke-width="0.6"/>
<text x="381.55" y="632.11" font-size="4.9" text-anchor="middle" fill="#1e1e1e" >0.545</text>
<text x="280.80" y="639.52" font-size="5.33" text-anchor="end" fill="#222" stroke="#222" stroke-width="0.1">RF+Stepglm[both]</text>
<rect x="283.30" y="634.00" width="16.30" height="6.06" fill="#78a941" stroke="#1a1a1a" stroke-width="0.6"/>
<text x="291.45" y="638.77" font-size="4.9" text-anchor="middle" fill="#1e1e1e" >0.825</text>
<rect x="301.32" y="634.00" width="16.30" height="6.06" fill="#b5795f" stroke="#1a1a1a" stroke-width="0.6"/>
<text x="309.47" y="638.77" font-size="4.9" text-anchor="middle" fill="#1e1e1e" >0.616</text>
<rect x="319.34" y="634.00" width="16.30" height="6.06" fill="#a49158" stroke="#1a1a1a" stroke-width="0.6"/>
<text x="327.49" y="638.77" font-size="4.9" text-anchor="middle" fill="#1e1e1e" >0.678</text>
<rect x="337.36" y="634.00" width="16.30" height="6.06" fill="#bb5d66" stroke="#1a1a1a" stroke-width="0.6"/>
<text x="345.51" y="638.77" font-size="4.9" text-anchor="middle" fill="#1e1e1e" >0.550</text>
<rect x="355.38" y="634.00" width="16.30" height="6.06" fill="#ba6d62" stroke="#1a1a1a" stroke-width="0.6"/>
<text x="363.53" y="638.77" font-size="4.9" text-anchor="middle" fill="#1e1e1e" >0.585</text>
<rect x="373.40" y="634.00" width="16.30" height="6.06" fill="#bb5b67" stroke="#1a1a1a" stroke-width="0.6"/>
<text x="381.55" y="638.77" font-size="4.9" text-anchor="middle" fill="#1e1e1e" >0.545</text>
<text x="280.80" y="646.18" font-size="5.33" text-anchor="end" fill="#222" stroke="#222" stroke-width="0.1">RF+Enet[alpha=0.8]</text>
<rect x="283.30" y="640.66" width="16.30" height="6.06" fill="#78a941" stroke="#1a1a1a" stroke-width="0.6"/>
<text x="291.45" y="645.43" font-size="4.9" text-anchor="middle" fill="#1e1e1e" >0.825</text>
<rect x="301.32" y="640.66" width="16.30" height="6.06" fill="#b37b5e" stroke="#1a1a1a" stroke-width="0.6"/>
<text x="309.47" y="645.43" font-size="4.9" text-anchor="middle" fill="#1e1e1e" >0.624</text>
<rect x="319.34" y="640.66" width="16.30" height="6.06" fill="#a49158" stroke="#1a1a1a" stroke-width="0.6"/>
<text x="327.49" y="645.43" font-size="4.9" text-anchor="middle" fill="#1e1e1e" >0.678</text>
<rect x="337.36" y="640.66" width="16.30" height="6.06" fill="#bc5369" stroke="#1a1a1a" stroke-width="0.6"/>
<text x="345.51" y="645.43" font-size="4.9" text-anchor="middle" fill="#1e1e1e" >0.529</text>
<rect x="355.38" y="640.66" width="16.30" height="6.06" fill="#ba6b63" stroke="#1a1a1a" stroke-width="0.6"/>
<text x="363.53" y="645.43" font-size="4.9" text-anchor="middle" fill="#1e1e1e" >0.582</text>
<rect x="373.40" y="640.66" width="16.30" height="6.06" fill="#bb5b67" stroke="#1a1a1a" stroke-width="0.6"/>
<text x="381.55" y="645.43" font-size="4.9" text-anchor="middle" fill="#1e1e1e" >0.545</text>
<text x="280.80" y="652.84" font-size="5.33" text-anchor="end" fill="#222" stroke="#222" stroke-width="0.1">RF+Enet[alpha=0.4]</text>
<rect x="283.30" y="647.31" width="16.30" height="6.06" fill="#78a941" stroke="#1a1a1a" stroke-width="0.6"/>
<text x="291.45" y="652.08" font-size="4.9" text-anchor="middle" fill="#1e1e1e" >0.826</text>
<rect x="301.32" y="647.31" width="16.30" height="6.06" fill="#9e9753" stroke="#1a1a1a" stroke-width="0.6"/>
<text x="309.47" y="652.08" font-size="4.9" text-anchor="middle" fill="#1e1e1e" >0.696</text>
<rect x="319.34" y="647.31" width="16.30" height="6.06" fill="#a49058" stroke="#1a1a1a" stroke-width="0.6"/>
<text x="327.49" y="652.08" font-size="4.9" text-anchor="middle" fill="#1e1e1e" >0.676</text>
<rect x="337.36" y="647.31" width="16.30" height="6.06" fill="#bd516a" stroke="#1a1a1a" stroke-width="0.6"/>
<text x="345.51" y="652.08" font-size="4.9" text-anchor="middle" fill="#1e1e1e" >0.524</text>
<rect x="355.38" y="647.31" width="16.30" height="6.06" fill="#bd526a" stroke="#1a1a1a" stroke-width="0.6"/>
<text x="363.53" y="652.08" font-size="4.9" text-anchor="middle" fill="#1e1e1e" >0.526</text>
<rect x="373.40" y="647.31" width="16.30" height="6.06" fill="#bb5b67" stroke="#1a1a1a" stroke-width="0.6"/>
<text x="381.55" y="652.08" font-size="4.9" text-anchor="middle" fill="#1e1e1e" >0.545</text>
<text x="280.80" y="659.49" font-size="5.33" text-anchor="end" fill="#222" stroke="#222" stroke-width="0.1">RF+Enet[alpha=0.5]</text>
<rect x="283.30" y="653.97" width="16.30" height="6.06" fill="#78a941" stroke="#1a1a1a" stroke-width="0.6"/>
<text x="291.45" y="658.74" font-size="4.9" text-anchor="middle" fill="#1e1e1e" >0.826</text>
<rect x="301.32" y="653.97" width="16.30" height="6.06" fill="#a09555" stroke="#1a1a1a" stroke-width="0.6"/>
<text x="309.47" y="658.74" font-size="4.9" text-anchor="middle" fill="#1e1e1e" >0.688</text>
<rect x="319.34" y="653.97" width="16.30" height="6.06" fill="#a49158" stroke="#1a1a1a" stroke-width="0.6"/>
<text x="327.49" y="658.74" font-size="4.9" text-anchor="middle" fill="#1e1e1e" >0.677</text>
<rect x="337.36" y="653.97" width="16.30" height="6.06" fill="#be4b6c" stroke="#1a1a1a" stroke-width="0.6"/>
<text x="345.51" y="658.74" font-size="4.9" text-anchor="middle" fill="#1e1e1e" >0.511</text>
<rect x="355.38" y="653.97" width="16.30" height="6.06" fill="#bc5768" stroke="#1a1a1a" stroke-width="0.6"/>
<text x="363.53" y="658.74" font-size="4.9" text-anchor="middle" fill="#1e1e1e" >0.538</text>
<rect x="373.40" y="653.97" width="16.30" height="6.06" fill="#bb5b67" stroke="#1a1a1a" stroke-width="0.6"/>
<text x="381.55" y="658.74" font-size="4.9" text-anchor="middle" fill="#1e1e1e" >0.545</text>
<text x="280.80" y="666.15" font-size="5.33" text-anchor="end" fill="#222" stroke="#222" stroke-width="0.1">RF+Enet[alpha=0.6]</text>
<rect x="283.30" y="660.63" width="16.30" height="6.06" fill="#78a941" stroke="#1a1a1a" stroke-width="0.6"/>
<text x="291.45" y="665.40" font-size="4.9" text-anchor="middle" fill="#1e1e1e" >0.826</text>
<rect x="301.32" y="660.63" width="16.30" height="6.06" fill="#a68e59" stroke="#1a1a1a" stroke-width="0.6"/>
<text x="309.47" y="665.40" font-size="4.9" text-anchor="middle" fill="#1e1e1e" >0.670</text>
<rect x="319.34" y="660.63" width="16.30" height="6.06" fill="#a49158" stroke="#1a1a1a" stroke-width="0.6"/>
<text x="327.49" y="665.40" font-size="4.9" text-anchor="middle" fill="#1e1e1e" >0.678</text>
<rect x="337.36" y="660.63" width="16.30" height="6.06" fill="#bf436f" stroke="#1a1a1a" stroke-width="0.6"/>
<text x="345.51" y="665.40" font-size="4.9" text-anchor="middle" fill="#1e1e1e" >0.494</text>
<rect x="355.38" y="660.63" width="16.30" height="6.06" fill="#bb5a67" stroke="#1a1a1a" stroke-width="0.6"/>
<text x="363.53" y="665.40" font-size="4.9" text-anchor="middle" fill="#1e1e1e" >0.544</text>
<rect x="373.40" y="660.63" width="16.30" height="6.06" fill="#bb5b67" stroke="#1a1a1a" stroke-width="0.6"/>
<text x="381.55" y="665.40" font-size="4.9" text-anchor="middle" fill="#1e1e1e" >0.545</text>
<text x="280.80" y="672.81" font-size="5.33" text-anchor="end" fill="#222" stroke="#222" stroke-width="0.1">RF+Enet[alpha=0.7]</text>
<rect x="283.30" y="667.29" width="16.30" height="6.06" fill="#78a941" stroke="#1a1a1a" stroke-width="0.6"/>
<text x="291.45" y="672.05" font-size="4.9" text-anchor="middle" fill="#1e1e1e" >0.825</text>
<rect x="301.32" y="667.29" width="16.30" height="6.06" fill="#ad845c" stroke="#1a1a1a" stroke-width="0.6"/>
<text x="309.47" y="672.05" font-size="4.9" text-anchor="middle" fill="#1e1e1e" >0.649</text>
<rect x="319.34" y="667.29" width="16.30" height="6.06" fill="#a49158" stroke="#1a1a1a" stroke-width="0.6"/>
<text x="327.49" y="672.05" font-size="4.9" text-anchor="middle" fill="#1e1e1e" >0.678</text>
<rect x="337.36" y="667.29" width="16.30" height="6.06" fill="#c13476" stroke="#1a1a1a" stroke-width="0.6"/>
<text x="345.51" y="672.05" font-size="4.9" text-anchor="middle" fill="#1e1e1e" >0.466</text>
<rect x="355.38" y="667.29" width="16.30" height="6.06" fill="#ba6365" stroke="#1a1a1a" stroke-width="0.6"/>
<text x="363.53" y="672.05" font-size="4.9" text-anchor="middle" fill="#1e1e1e" >0.563</text>
<rect x="373.40" y="667.29" width="16.30" height="6.06" fill="#bb5b67" stroke="#1a1a1a" stroke-width="0.6"/>
<text x="381.55" y="672.05" font-size="4.9" text-anchor="middle" fill="#1e1e1e" >0.545</text>
<text x="280.80" y="679.46" font-size="5.33" text-anchor="end" fill="#222" stroke="#222" stroke-width="0.1">RF+LDA</text>
<rect x="283.30" y="673.94" width="16.30" height="6.06" fill="#7ea742" stroke="#1a1a1a" stroke-width="0.6"/>
<text x="291.45" y="678.71" font-size="4.9" text-anchor="middle" fill="#1e1e1e" >0.811</text>
<rect x="301.32" y="673.94" width="16.30" height="6.06" fill="#b97062" stroke="#1a1a1a" stroke-width="0.6"/>
<text x="309.47" y="678.71" font-size="4.9" text-anchor="middle" fill="#1e1e1e" >0.592</text>
<rect x="319.34" y="673.94" width="16.30" height="6.06" fill="#ae825d" stroke="#1a1a1a" stroke-width="0.6"/>
<text x="327.49" y="678.71" font-size="4.9" text-anchor="middle" fill="#1e1e1e" >0.645</text>
<rect x="337.36" y="673.94" width="16.30" height="6.06" fill="#b97461" stroke="#1a1a1a" stroke-width="0.6"/>
<text x="345.51" y="678.71" font-size="4.9" text-anchor="middle" fill="#1e1e1e" >0.601</text>
<rect x="355.38" y="673.94" width="16.30" height="6.06" fill="#b67760" stroke="#1a1a1a" stroke-width="0.6"/>
<text x="363.53" y="678.71" font-size="4.9" text-anchor="middle" fill="#1e1e1e" >0.611</text>
<rect x="373.40" y="673.94" width="16.30" height="6.06" fill="#bd506b" stroke="#1a1a1a" stroke-width="0.6"/>
<text x="381.55" y="678.71" font-size="4.9" text-anchor="middle" fill="#1e1e1e" >0.521</text>
<text x="280.80" y="686.12" font-size="5.33" text-anchor="end" fill="#222" stroke="#222" stroke-width="0.1">glmBoost+NaiveBayes</text>
<rect x="283.30" y="680.60" width="16.30" height="6.06" fill="#80a643" stroke="#1a1a1a" stroke-width="0.6"/>
<text x="291.45" y="685.37" font-size="4.9" text-anchor="middle" fill="#1e1e1e" >0.805</text>
<rect x="301.32" y="680.60" width="16.30" height="6.06" fill="#af815d" stroke="#1a1a1a" stroke-width="0.6"/>
<text x="309.47" y="685.37" font-size="4.9" text-anchor="middle" fill="#1e1e1e" >0.642</text>
<rect x="319.34" y="680.60" width="16.30" height="6.06" fill="#a68f59" stroke="#1a1a1a" stroke-width="0.6"/>
<text x="327.49" y="685.37" font-size="4.9" text-anchor="middle" fill="#1e1e1e" >0.672</text>
<rect x="337.36" y="680.60" width="16.30" height="6.06" fill="#bd526a" stroke="#1a1a1a" stroke-width="0.6"/>
<text x="345.51" y="685.37" font-size="4.9" text-anchor="middle" fill="#1e1e1e" >0.526</text>
<rect x="355.38" y="680.60" width="16.30" height="6.06" fill="#bf4070" stroke="#1a1a1a" stroke-width="0.6"/>
<text x="363.53" y="685.37" font-size="4.9" text-anchor="middle" fill="#1e1e1e" >0.490</text>
<rect x="373.40" y="680.60" width="16.30" height="6.06" fill="#bc5569" stroke="#1a1a1a" stroke-width="0.6"/>
<text x="381.55" y="685.37" font-size="4.9" text-anchor="middle" fill="#1e1e1e" >0.532</text>
<text x="280.80" y="692.78" font-size="5.33" text-anchor="end" fill="#222" stroke="#222" stroke-width="0.1">Lasso+XGBoost</text>
<rect x="283.30" y="687.26" width="16.30" height="6.06" fill="#71ab3f" stroke="#1a1a1a" stroke-width="0.6"/>
<text x="291.45" y="692.02" font-size="4.9" text-anchor="middle" fill="#1e1e1e" >0.843</text>
<rect x="301.32" y="687.26" width="16.30" height="6.06" fill="#bb5a67" stroke="#1a1a1a" stroke-width="0.6"/>
<text x="309.47" y="692.02" font-size="4.9" text-anchor="middle" fill="#1e1e1e" >0.544</text>
<rect x="319.34" y="687.26" width="16.30" height="6.06" fill="#bb5b67" stroke="#1a1a1a" stroke-width="0.6"/>
<text x="327.49" y="692.02" font-size="4.9" text-anchor="middle" fill="#1e1e1e" >0.546</text>
<rect x="337.36" y="687.26" width="16.30" height="6.06" fill="#ba6b63" stroke="#1a1a1a" stroke-width="0.6"/>
<text x="345.51" y="692.02" font-size="4.9" text-anchor="middle" fill="#1e1e1e" >0.581</text>
<rect x="355.38" y="687.26" width="16.30" height="6.06" fill="#be4d6c" stroke="#1a1a1a" stroke-width="0.6"/>
<text x="363.53" y="692.02" font-size="4.9" text-anchor="middle" fill="#1e1e1e" >0.515</text>
<rect x="373.40" y="687.26" width="16.30" height="6.06" fill="#bf2b76" stroke="#1a1a1a" stroke-width="0.6"/>
<text x="381.55" y="692.02" font-size="4.9" text-anchor="middle" fill="#1e1e1e" >0.444</text>
<text x="280.80" y="699.43" font-size="5.33" text-anchor="end" fill="#222" stroke="#222" stroke-width="0.1">Stepglm[backward]+SVM</text>
<rect x="283.30" y="693.91" width="16.30" height="6.06" fill="#89a347" stroke="#1a1a1a" stroke-width="0.6"/>
<text x="291.45" y="698.68" font-size="4.9" text-anchor="middle" fill="#1e1e1e" >0.775</text>
<rect x="301.32" y="693.91" width="16.30" height="6.06" fill="#b37c5e" stroke="#1a1a1a" stroke-width="0.6"/>
<text x="309.47" y="698.68" font-size="4.9" text-anchor="middle" fill="#1e1e1e" >0.626</text>
<rect x="319.34" y="693.91" width="16.30" height="6.06" fill="#be4a6c" stroke="#1a1a1a" stroke-width="0.6"/>
<text x="327.49" y="698.68" font-size="4.9" text-anchor="middle" fill="#1e1e1e" >0.510</text>
<rect x="337.36" y="693.91" width="16.30" height="6.06" fill="#be496d" stroke="#1a1a1a" stroke-width="0.6"/>
<text x="345.51" y="698.68" font-size="4.9" text-anchor="middle" fill="#1e1e1e" >0.506</text>
<rect x="355.38" y="693.91" width="16.30" height="6.06" fill="#be496d" stroke="#1a1a1a" stroke-width="0.6"/>
<text x="363.53" y="698.68" font-size="4.9" text-anchor="middle" fill="#1e1e1e" >0.507</text>
<rect x="373.40" y="693.91" width="16.30" height="6.06" fill="#bd516a" stroke="#1a1a1a" stroke-width="0.6"/>
<text x="381.55" y="698.68" font-size="4.9" text-anchor="middle" fill="#1e1e1e" >0.524</text>
<text x="280.80" y="706.09" font-size="5.33" text-anchor="end" fill="#222" stroke="#222" stroke-width="0.1">Stepglm[both]+SVM</text>
<rect x="283.30" y="700.57" width="16.30" height="6.06" fill="#89a347" stroke="#1a1a1a" stroke-width="0.6"/>
<text x="291.45" y="705.34" font-size="4.9" text-anchor="middle" fill="#1e1e1e" >0.775</text>
<rect x="301.32" y="700.57" width="16.30" height="6.06" fill="#b37c5e" stroke="#1a1a1a" stroke-width="0.6"/>
<text x="309.47" y="705.34" font-size="4.9" text-anchor="middle" fill="#1e1e1e" >0.626</text>
<rect x="319.34" y="700.57" width="16.30" height="6.06" fill="#be4a6c" stroke="#1a1a1a" stroke-width="0.6"/>
<text x="327.49" y="705.34" font-size="4.9" text-anchor="middle" fill="#1e1e1e" >0.510</text>
<rect x="337.36" y="700.57" width="16.30" height="6.06" fill="#be496d" stroke="#1a1a1a" stroke-width="0.6"/>
<text x="345.51" y="705.34" font-size="4.9" text-anchor="middle" fill="#1e1e1e" >0.506</text>
<rect x="355.38" y="700.57" width="16.30" height="6.06" fill="#be496d" stroke="#1a1a1a" stroke-width="0.6"/>
<text x="363.53" y="705.34" font-size="4.9" text-anchor="middle" fill="#1e1e1e" >0.507</text>
<rect x="373.40" y="700.57" width="16.30" height="6.06" fill="#bd516a" stroke="#1a1a1a" stroke-width="0.6"/>
<text x="381.55" y="705.34" font-size="4.9" text-anchor="middle" fill="#1e1e1e" >0.524</text>
<text x="280.80" y="712.75" font-size="5.33" text-anchor="end" fill="#222" stroke="#222" stroke-width="0.1">Lasso+SVM</text>
<rect x="283.30" y="707.23" width="16.30" height="6.06" fill="#8fa14a" stroke="#1a1a1a" stroke-width="0.6"/>
<text x="291.45" y="712.00" font-size="4.9" text-anchor="middle" fill="#1e1e1e" >0.754</text>
<rect x="301.32" y="707.23" width="16.30" height="6.06" fill="#ba6864" stroke="#1a1a1a" stroke-width="0.6"/>
<text x="309.47" y="712.00" font-size="4.9" text-anchor="middle" fill="#1e1e1e" >0.575</text>
<rect x="319.34" y="707.23" width="16.30" height="6.06" fill="#bd4d6b" stroke="#1a1a1a" stroke-width="0.6"/>
<text x="327.49" y="712.00" font-size="4.9" text-anchor="middle" fill="#1e1e1e" >0.516</text>
<rect x="337.36" y="707.23" width="16.30" height="6.06" fill="#be496d" stroke="#1a1a1a" stroke-width="0.6"/>
<text x="345.51" y="712.00" font-size="4.9" text-anchor="middle" fill="#1e1e1e" >0.506</text>
<rect x="355.38" y="707.23" width="16.30" height="6.06" fill="#c13774" stroke="#1a1a1a" stroke-width="0.6"/>
<text x="363.53" y="712.00" font-size="4.9" text-anchor="middle" fill="#1e1e1e" >0.472</text>
<rect x="373.40" y="707.23" width="16.30" height="6.06" fill="#bb5b67" stroke="#1a1a1a" stroke-width="0.6"/>
<text x="381.55" y="712.00" font-size="4.9" text-anchor="middle" fill="#1e1e1e" >0.546</text>
<text x="280.80" y="719.41" font-size="5.33" text-anchor="end" fill="#222" stroke="#222" stroke-width="0.1">SVM</text>
<rect x="283.30" y="713.88" width="16.30" height="6.06" fill="#83a544" stroke="#1a1a1a" stroke-width="0.6"/>
<text x="291.45" y="718.65" font-size="4.9" text-anchor="middle" fill="#1e1e1e" >0.796</text>
<rect x="301.32" y="713.88" width="16.30" height="6.06" fill="#bb6165" stroke="#1a1a1a" stroke-width="0.6"/>
<text x="309.47" y="718.65" font-size="4.9" text-anchor="middle" fill="#1e1e1e" >0.560</text>
<rect x="319.34" y="713.88" width="16.30" height="6.06" fill="#bd4e6b" stroke="#1a1a1a" stroke-width="0.6"/>
<text x="327.49" y="718.65" font-size="4.9" text-anchor="middle" fill="#1e1e1e" >0.518</text>
<rect x="337.36" y="713.88" width="16.30" height="6.06" fill="#c03b72" stroke="#1a1a1a" stroke-width="0.6"/>
<text x="345.51" y="718.65" font-size="4.9" text-anchor="middle" fill="#1e1e1e" >0.480</text>
<rect x="355.38" y="713.88" width="16.30" height="6.06" fill="#c03c72" stroke="#1a1a1a" stroke-width="0.6"/>
<text x="363.53" y="718.65" font-size="4.9" text-anchor="middle" fill="#1e1e1e" >0.481</text>
<rect x="373.40" y="713.88" width="16.30" height="6.06" fill="#bb5b67" stroke="#1a1a1a" stroke-width="0.6"/>
<text x="381.55" y="718.65" font-size="4.9" text-anchor="middle" fill="#1e1e1e" >0.546</text>
<text x="280.80" y="726.06" font-size="5.33" text-anchor="end" fill="#222" stroke="#222" stroke-width="0.1">glmBoost+SVM</text>
<rect x="283.30" y="720.54" width="16.30" height="6.06" fill="#af815d" stroke="#1a1a1a" stroke-width="0.6"/>
<text x="291.45" y="725.31" font-size="4.9" text-anchor="middle" fill="#1e1e1e" >0.640</text>
<rect x="301.32" y="720.54" width="16.30" height="6.06" fill="#bd4e6b" stroke="#1a1a1a" stroke-width="0.6"/>
<text x="309.47" y="725.31" font-size="4.9" text-anchor="middle" fill="#1e1e1e" >0.517</text>
<rect x="319.34" y="720.54" width="16.30" height="6.06" fill="#bf466e" stroke="#1a1a1a" stroke-width="0.6"/>
<text x="327.49" y="725.31" font-size="4.9" text-anchor="middle" fill="#1e1e1e" >0.501</text>
<rect x="337.36" y="720.54" width="16.30" height="6.06" fill="#c03b72" stroke="#1a1a1a" stroke-width="0.6"/>
<text x="345.51" y="725.31" font-size="4.9" text-anchor="middle" fill="#1e1e1e" >0.480</text>
<rect x="355.38" y="720.54" width="16.30" height="6.06" fill="#c03c72" stroke="#1a1a1a" stroke-width="0.6"/>
<text x="363.53" y="725.31" font-size="4.9" text-anchor="middle" fill="#1e1e1e" >0.481</text>
<rect x="373.40" y="720.54" width="16.30" height="6.06" fill="#bb5b67" stroke="#1a1a1a" stroke-width="0.6"/>
<text x="381.55" y="725.31" font-size="4.9" text-anchor="middle" fill="#1e1e1e" >0.546</text>
<text x="280.80" y="732.72" font-size="5.33" text-anchor="end" fill="#222" stroke="#222" stroke-width="0.1">RF+SVM</text>
<rect x="283.30" y="727.20" width="16.30" height="6.06" fill="#bf466e" stroke="#1a1a1a" stroke-width="0.6"/>
<text x="291.45" y="731.97" font-size="4.9" text-anchor="middle" fill="#1e1e1e" >0.500</text>
<rect x="301.32" y="727.20" width="16.30" height="6.06" fill="#bf466e" stroke="#1a1a1a" stroke-width="0.6"/>
<text x="309.47" y="731.97" font-size="4.9" text-anchor="middle" fill="#1e1e1e" >0.500</text>
<rect x="319.34" y="727.20" width="16.30" height="6.06" fill="#bf466e" stroke="#1a1a1a" stroke-width="0.6"/>
<text x="327.49" y="731.97" font-size="4.9" text-anchor="middle" fill="#1e1e1e" >0.500</text>
<rect x="337.36" y="727.20" width="16.30" height="6.06" fill="#bf466e" stroke="#1a1a1a" stroke-width="0.6"/>
<text x="345.51" y="731.97" font-size="4.9" text-anchor="middle" fill="#1e1e1e" >0.500</text>
<rect x="355.38" y="727.20" width="16.30" height="6.06" fill="#bf466e" stroke="#1a1a1a" stroke-width="0.6"/>
<text x="363.53" y="731.97" font-size="4.9" text-anchor="middle" fill="#1e1e1e" >0.500</text>
<rect x="373.40" y="727.20" width="16.30" height="6.06" fill="#bf466e" stroke="#1a1a1a" stroke-width="0.6"/>
<text x="381.55" y="731.97" font-size="4.9" text-anchor="middle" fill="#1e1e1e" >0.500</text>
<rect x="390.7" y="15.30" width="36.53" height="5.3" fill="#4b80b3"/>
<text x="424.99" y="19.65" font-size="4.8" text-anchor="end" fill="#fff" >0.814</text>
<rect x="390.7" y="21.96" width="36.20" height="5.3" fill="#4b80b3"/>
<text x="424.66" y="26.31" font-size="4.8" text-anchor="end" fill="#fff" >0.806</text>
<rect x="390.7" y="28.61" width="35.95" height="5.3" fill="#4b80b3"/>
<text x="424.40" y="32.97" font-size="4.8" text-anchor="end" fill="#fff" >0.801</text>
<rect x="390.7" y="35.27" width="35.88" height="5.3" fill="#4b80b3"/>
<text x="424.34" y="39.62" font-size="4.8" text-anchor="end" fill="#fff" >0.799</text>
<rect x="390.7" y="41.93" width="34.33" height="5.3" fill="#4b80b3"/>
<text x="422.79" y="46.28" font-size="4.8" text-anchor="end" fill="#fff" >0.765</text>
<rect x="390.7" y="48.59" width="34.33" height="5.3" fill="#4b80b3"/>
<text x="422.79" y="52.94" font-size="4.8" text-anchor="end" fill="#fff" >0.765</text>
<rect x="390.7" y="55.24" width="34.32" height="5.3" fill="#4b80b3"/>
<text x="422.77" y="59.60" font-size="4.8" text-anchor="end" fill="#fff" >0.764</text>
<rect x="390.7" y="61.90" width="34.30" height="5.3" fill="#4b80b3"/>
<text x="422.76" y="66.25" font-size="4.8" text-anchor="end" fill="#fff" >0.764</text>
<rect x="390.7" y="68.56" width="34.24" height="5.3" fill="#4b80b3"/>
<text x="422.70" y="72.91" font-size="4.8" text-anchor="end" fill="#fff" >0.763</text>
<rect x="390.7" y="75.21" width="34.24" height="5.3" fill="#4b80b3"/>
<text x="422.70" y="79.57" font-size="4.8" text-anchor="end" fill="#fff" >0.763</text>
<rect x="390.7" y="81.87" width="34.22" height="5.3" fill="#4b80b3"/>
<text x="422.68" y="86.22" font-size="4.8" text-anchor="end" fill="#fff" >0.762</text>
<rect x="390.7" y="88.53" width="34.12" height="5.3" fill="#4b80b3"/>
<text x="419.90" y="92.88" font-size="4.8" text-anchor="end" fill="#fff" >0.76</text>
<rect x="390.7" y="95.18" width="34.06" height="5.3" fill="#4b80b3"/>
<text x="422.52" y="99.54" font-size="4.8" text-anchor="end" fill="#fff" >0.759</text>
<rect x="390.7" y="101.84" width="34.06" height="5.3" fill="#4b80b3"/>
<text x="422.52" y="106.19" font-size="4.8" text-anchor="end" fill="#fff" >0.759</text>
<rect x="390.7" y="108.50" width="34.06" height="5.3" fill="#4b80b3"/>
<text x="422.52" y="112.85" font-size="4.8" text-anchor="end" fill="#fff" >0.759</text>
<rect x="390.7" y="115.16" width="34.06" height="5.3" fill="#4b80b3"/>
<text x="422.52" y="119.51" font-size="4.8" text-anchor="end" fill="#fff" >0.759</text>
<rect x="390.7" y="121.81" width="34.06" height="5.3" fill="#4b80b3"/>
<text x="422.52" y="126.17" font-size="4.8" text-anchor="end" fill="#fff" >0.759</text>
<rect x="390.7" y="128.47" width="34.06" height="5.3" fill="#4b80b3"/>
<text x="422.52" y="132.82" font-size="4.8" text-anchor="end" fill="#fff" >0.759</text>
<rect x="390.7" y="135.13" width="34.06" height="5.3" fill="#4b80b3"/>
<text x="422.52" y="139.48" font-size="4.8" text-anchor="end" fill="#fff" >0.759</text>
<rect x="390.7" y="141.78" width="34.06" height="5.3" fill="#4b80b3"/>
<text x="422.52" y="146.14" font-size="4.8" text-anchor="end" fill="#fff" >0.759</text>
<rect x="390.7" y="148.44" width="34.06" height="5.3" fill="#4b80b3"/>
<text x="422.52" y="152.79" font-size="4.8" text-anchor="end" fill="#fff" >0.759</text>
<rect x="390.7" y="155.10" width="34.06" height="5.3" fill="#4b80b3"/>
<text x="422.52" y="159.45" font-size="4.8" text-anchor="end" fill="#fff" >0.759</text>
<rect x="390.7" y="161.75" width="34.06" height="5.3" fill="#4b80b3"/>
<text x="422.52" y="166.11" font-size="4.8" text-anchor="end" fill="#fff" >0.759</text>
<rect x="390.7" y="168.41" width="34.00" height="5.3" fill="#4b80b3"/>
<text x="422.46" y="172.76" font-size="4.8" text-anchor="end" fill="#fff" >0.757</text>
<rect x="390.7" y="175.07" width="34.00" height="5.3" fill="#4b80b3"/>
<text x="422.46" y="179.42" font-size="4.8" text-anchor="end" fill="#fff" >0.757</text>
<rect x="390.7" y="181.72" width="34.00" height="5.3" fill="#4b80b3"/>
<text x="422.46" y="186.08" font-size="4.8" text-anchor="end" fill="#fff" >0.757</text>
<rect x="390.7" y="188.38" width="34.00" height="5.3" fill="#4b80b3"/>
<text x="422.46" y="192.74" font-size="4.8" text-anchor="end" fill="#fff" >0.757</text>
<rect x="390.7" y="195.04" width="34.00" height="5.3" fill="#4b80b3"/>
<text x="422.46" y="199.39" font-size="4.8" text-anchor="end" fill="#fff" >0.757</text>
<rect x="390.7" y="201.70" width="34.00" height="5.3" fill="#4b80b3"/>
<text x="422.46" y="206.05" font-size="4.8" text-anchor="end" fill="#fff" >0.757</text>
<rect x="390.7" y="208.35" width="34.00" height="5.3" fill="#4b80b3"/>
<text x="422.46" y="212.71" font-size="4.8" text-anchor="end" fill="#fff" >0.757</text>
<rect x="390.7" y="215.01" width="34.00" height="5.3" fill="#4b80b3"/>
<text x="422.45" y="219.36" font-size="4.8" text-anchor="end" fill="#fff" >0.757</text>
<rect x="390.7" y="221.67" width="34.00" height="5.3" fill="#4b80b3"/>
<text x="422.45" y="226.02" font-size="4.8" text-anchor="end" fill="#fff" >0.757</text>
<rect x="390.7" y="228.32" width="34.00" height="5.3" fill="#4b80b3"/>
<text x="422.45" y="232.68" font-size="4.8" text-anchor="end" fill="#fff" >0.757</text>
<rect x="390.7" y="234.98" width="34.00" height="5.3" fill="#4b80b3"/>
<text x="422.45" y="239.34" font-size="4.8" text-anchor="end" fill="#fff" >0.757</text>
<rect x="390.7" y="241.64" width="34.00" height="5.3" fill="#4b80b3"/>
<text x="422.45" y="245.99" font-size="4.8" text-anchor="end" fill="#fff" >0.757</text>
<rect x="390.7" y="248.29" width="33.96" height="5.3" fill="#4b80b3"/>
<text x="422.41" y="252.65" font-size="4.8" text-anchor="end" fill="#fff" >0.756</text>
<rect x="390.7" y="254.95" width="33.94" height="5.3" fill="#4b80b3"/>
<text x="422.40" y="259.31" font-size="4.8" text-anchor="end" fill="#fff" >0.756</text>
<rect x="390.7" y="261.61" width="33.89" height="5.3" fill="#4b80b3"/>
<text x="422.35" y="265.96" font-size="4.8" text-anchor="end" fill="#fff" >0.755</text>
<rect x="390.7" y="268.27" width="33.89" height="5.3" fill="#4b80b3"/>
<text x="422.35" y="272.62" font-size="4.8" text-anchor="end" fill="#fff" >0.755</text>
<rect x="390.7" y="274.92" width="33.67" height="5.3" fill="#4b80b3"/>
<text x="419.46" y="279.28" font-size="4.8" text-anchor="end" fill="#fff" >0.75</text>
<rect x="390.7" y="281.58" width="33.67" height="5.3" fill="#4b80b3"/>
<text x="419.46" y="285.93" font-size="4.8" text-anchor="end" fill="#fff" >0.75</text>
<rect x="390.7" y="288.24" width="33.67" height="5.3" fill="#4b80b3"/>
<text x="419.46" y="292.59" font-size="4.8" text-anchor="end" fill="#fff" >0.75</text>
<rect x="390.7" y="294.89" width="33.67" height="5.3" fill="#4b80b3"/>
<text x="419.46" y="299.25" font-size="4.8" text-anchor="end" fill="#fff" >0.75</text>
<rect x="390.7" y="301.55" width="33.23" height="5.3" fill="#4b80b3"/>
<text x="419.02" y="305.90" font-size="4.8" text-anchor="end" fill="#fff" >0.74</text>
<rect x="390.7" y="308.21" width="32.65" height="5.3" fill="#4b80b3"/>
<text x="421.10" y="312.56" font-size="4.8" text-anchor="end" fill="#fff" >0.727</text>
<rect x="390.7" y="314.87" width="32.65" height="5.3" fill="#4b80b3"/>
<text x="421.10" y="319.22" font-size="4.8" text-anchor="end" fill="#fff" >0.727</text>
<rect x="390.7" y="321.52" width="32.65" height="5.3" fill="#4b80b3"/>
<text x="421.10" y="325.88" font-size="4.8" text-anchor="end" fill="#fff" >0.727</text>
<rect x="390.7" y="328.18" width="32.64" height="5.3" fill="#4b80b3"/>
<text x="421.10" y="332.53" font-size="4.8" text-anchor="end" fill="#fff" >0.727</text>
<rect x="390.7" y="334.84" width="32.64" height="5.3" fill="#4b80b3"/>
<text x="421.10" y="339.19" font-size="4.8" text-anchor="end" fill="#fff" >0.727</text>
<rect x="390.7" y="341.49" width="32.64" height="5.3" fill="#4b80b3"/>
<text x="421.10" y="345.85" font-size="4.8" text-anchor="end" fill="#fff" >0.727</text>
<rect x="390.7" y="348.15" width="32.60" height="5.3" fill="#4b80b3"/>
<text x="421.05" y="352.50" font-size="4.8" text-anchor="end" fill="#fff" >0.726</text>
<rect x="390.7" y="354.81" width="32.60" height="5.3" fill="#4b80b3"/>
<text x="421.05" y="359.16" font-size="4.8" text-anchor="end" fill="#fff" >0.726</text>
<rect x="390.7" y="361.46" width="32.60" height="5.3" fill="#4b80b3"/>
<text x="421.05" y="365.82" font-size="4.8" text-anchor="end" fill="#fff" >0.726</text>
<rect x="390.7" y="368.12" width="32.58" height="5.3" fill="#4b80b3"/>
<text x="421.04" y="372.48" font-size="4.8" text-anchor="end" fill="#fff" >0.726</text>
<rect x="390.7" y="374.78" width="32.58" height="5.3" fill="#4b80b3"/>
<text x="421.04" y="379.13" font-size="4.8" text-anchor="end" fill="#fff" >0.726</text>
<rect x="390.7" y="381.44" width="32.58" height="5.3" fill="#4b80b3"/>
<text x="421.04" y="385.79" font-size="4.8" text-anchor="end" fill="#fff" >0.726</text>
<rect x="390.7" y="388.09" width="32.58" height="5.3" fill="#4b80b3"/>
<text x="421.04" y="392.45" font-size="4.8" text-anchor="end" fill="#fff" >0.726</text>
<rect x="390.7" y="394.75" width="32.58" height="5.3" fill="#4b80b3"/>
<text x="421.04" y="399.10" font-size="4.8" text-anchor="end" fill="#fff" >0.726</text>
<rect x="390.7" y="401.41" width="32.58" height="5.3" fill="#4b80b3"/>
<text x="421.04" y="405.76" font-size="4.8" text-anchor="end" fill="#fff" >0.726</text>
<rect x="390.7" y="408.06" width="32.55" height="5.3" fill="#4b80b3"/>
<text x="421.00" y="412.42" font-size="4.8" text-anchor="end" fill="#fff" >0.725</text>
<rect x="390.7" y="414.72" width="32.54" height="5.3" fill="#4b80b3"/>
<text x="420.99" y="419.07" font-size="4.8" text-anchor="end" fill="#fff" >0.725</text>
<rect x="390.7" y="421.38" width="32.53" height="5.3" fill="#4b80b3"/>
<text x="420.99" y="425.73" font-size="4.8" text-anchor="end" fill="#fff" >0.724</text>
<rect x="390.7" y="428.03" width="32.28" height="5.3" fill="#4b80b3"/>
<text x="420.74" y="432.39" font-size="4.8" text-anchor="end" fill="#fff" >0.719</text>
<rect x="390.7" y="434.69" width="31.89" height="5.3" fill="#4b80b3"/>
<text x="417.68" y="439.05" font-size="4.8" text-anchor="end" fill="#fff" >0.71</text>
<rect x="390.7" y="441.35" width="31.84" height="5.3" fill="#4b80b3"/>
<text x="420.30" y="445.70" font-size="4.8" text-anchor="end" fill="#fff" >0.709</text>
<rect x="390.7" y="448.00" width="31.84" height="5.3" fill="#4b80b3"/>
<text x="420.30" y="452.36" font-size="4.8" text-anchor="end" fill="#fff" >0.709</text>
<rect x="390.7" y="454.66" width="31.47" height="5.3" fill="#4b80b3"/>
<text x="419.93" y="459.02" font-size="4.8" text-anchor="end" fill="#fff" >0.701</text>
<rect x="390.7" y="461.32" width="31.47" height="5.3" fill="#4b80b3"/>
<text x="419.93" y="465.67" font-size="4.8" text-anchor="end" fill="#fff" >0.701</text>
<rect x="390.7" y="467.98" width="31.26" height="5.3" fill="#4b80b3"/>
<text x="419.71" y="472.33" font-size="4.8" text-anchor="end" fill="#fff" >0.696</text>
<rect x="390.7" y="474.63" width="31.26" height="5.3" fill="#4b80b3"/>
<text x="419.71" y="478.99" font-size="4.8" text-anchor="end" fill="#fff" >0.696</text>
<rect x="390.7" y="481.29" width="30.92" height="5.3" fill="#4b80b3"/>
<text x="419.38" y="485.64" font-size="4.8" text-anchor="end" fill="#fff" >0.689</text>
<rect x="390.7" y="487.95" width="30.70" height="5.3" fill="#4b80b3"/>
<text x="419.16" y="492.30" font-size="4.8" text-anchor="end" fill="#fff" >0.684</text>
<rect x="390.7" y="494.60" width="30.65" height="5.3" fill="#4b80b3"/>
<text x="419.11" y="498.96" font-size="4.8" text-anchor="end" fill="#fff" >0.683</text>
<rect x="390.7" y="501.26" width="30.65" height="5.3" fill="#4b80b3"/>
<text x="419.11" y="505.62" font-size="4.8" text-anchor="end" fill="#fff" >0.683</text>
<rect x="390.7" y="507.92" width="30.59" height="5.3" fill="#4b80b3"/>
<text x="419.05" y="512.27" font-size="4.8" text-anchor="end" fill="#fff" >0.681</text>
<rect x="390.7" y="514.58" width="30.59" height="5.3" fill="#4b80b3"/>
<text x="419.05" y="518.93" font-size="4.8" text-anchor="end" fill="#fff" >0.681</text>
<rect x="390.7" y="521.23" width="30.59" height="5.3" fill="#4b80b3"/>
<text x="419.05" y="525.59" font-size="4.8" text-anchor="end" fill="#fff" >0.681</text>
<rect x="390.7" y="527.89" width="30.50" height="5.3" fill="#4b80b3"/>
<text x="418.96" y="532.24" font-size="4.8" text-anchor="end" fill="#fff" >0.679</text>
<rect x="390.7" y="534.55" width="29.60" height="5.3" fill="#4b80b3"/>
<text x="418.06" y="538.90" font-size="4.8" text-anchor="end" fill="#fff" >0.659</text>
<rect x="390.7" y="541.20" width="29.58" height="5.3" fill="#4b80b3"/>
<text x="418.04" y="545.56" font-size="4.8" text-anchor="end" fill="#fff" >0.659</text>
<rect x="390.7" y="547.86" width="28.96" height="5.3" fill="#4b80b3"/>
<text x="417.42" y="552.21" font-size="4.8" text-anchor="end" fill="#fff" >0.645</text>
<rect x="390.7" y="554.52" width="28.96" height="5.3" fill="#4b80b3"/>
<text x="417.42" y="558.87" font-size="4.8" text-anchor="end" fill="#fff" >0.645</text>
<rect x="390.7" y="561.17" width="28.96" height="5.3" fill="#4b80b3"/>
<text x="417.42" y="565.53" font-size="4.8" text-anchor="end" fill="#fff" >0.645</text>
<rect x="390.7" y="567.83" width="28.96" height="5.3" fill="#4b80b3"/>
<text x="417.42" y="572.18" font-size="4.8" text-anchor="end" fill="#fff" >0.645</text>
<rect x="390.7" y="574.49" width="28.89" height="5.3" fill="#4b80b3"/>
<text x="417.34" y="578.84" font-size="4.8" text-anchor="end" fill="#fff" >0.643</text>
<rect x="390.7" y="581.15" width="28.64" height="5.3" fill="#4b80b3"/>
<text x="417.09" y="585.50" font-size="4.8" text-anchor="end" fill="#fff" >0.638</text>
<rect x="390.7" y="587.80" width="28.50" height="5.3" fill="#4b80b3"/>
<text x="416.95" y="592.16" font-size="4.8" text-anchor="end" fill="#fff" >0.635</text>
<rect x="390.7" y="594.46" width="28.50" height="5.3" fill="#4b80b3"/>
<text x="416.95" y="598.81" font-size="4.8" text-anchor="end" fill="#fff" >0.635</text>
<rect x="390.7" y="601.12" width="28.47" height="5.3" fill="#4b80b3"/>
<text x="416.93" y="605.47" font-size="4.8" text-anchor="end" fill="#fff" >0.634</text>
<rect x="390.7" y="607.77" width="28.47" height="5.3" fill="#4b80b3"/>
<text x="416.93" y="612.13" font-size="4.8" text-anchor="end" fill="#fff" >0.634</text>
<rect x="390.7" y="614.43" width="28.47" height="5.3" fill="#4b80b3"/>
<text x="416.92" y="618.78" font-size="4.8" text-anchor="end" fill="#fff" >0.634</text>
<rect x="390.7" y="621.09" width="28.47" height="5.3" fill="#4b80b3"/>
<text x="416.92" y="625.44" font-size="4.8" text-anchor="end" fill="#fff" >0.634</text>
<rect x="390.7" y="627.74" width="28.43" height="5.3" fill="#4b80b3"/>
<text x="416.88" y="632.10" font-size="4.8" text-anchor="end" fill="#fff" >0.633</text>
<rect x="390.7" y="634.40" width="28.43" height="5.3" fill="#4b80b3"/>
<text x="416.88" y="638.75" font-size="4.8" text-anchor="end" fill="#fff" >0.633</text>
<rect x="390.7" y="641.06" width="28.31" height="5.3" fill="#4b80b3"/>
<text x="414.10" y="645.41" font-size="4.8" text-anchor="end" fill="#fff" >0.63</text>
<rect x="390.7" y="647.72" width="28.31" height="5.3" fill="#4b80b3"/>
<text x="414.10" y="652.07" font-size="4.8" text-anchor="end" fill="#fff" >0.63</text>
<rect x="390.7" y="654.37" width="28.31" height="5.3" fill="#4b80b3"/>
<text x="414.10" y="658.73" font-size="4.8" text-anchor="end" fill="#fff" >0.63</text>
<rect x="390.7" y="661.03" width="28.11" height="5.3" fill="#4b80b3"/>
<text x="416.57" y="665.38" font-size="4.8" text-anchor="end" fill="#fff" >0.626</text>
<rect x="390.7" y="667.69" width="27.88" height="5.3" fill="#4b80b3"/>
<text x="416.34" y="672.04" font-size="4.8" text-anchor="end" fill="#fff" >0.621</text>
<rect x="390.7" y="674.34" width="27.88" height="5.3" fill="#4b80b3"/>
<text x="416.34" y="678.70" font-size="4.8" text-anchor="end" fill="#fff" >0.621</text>
<rect x="390.7" y="681.00" width="27.44" height="5.3" fill="#4b80b3"/>
<text x="415.90" y="685.35" font-size="4.8" text-anchor="end" fill="#fff" >0.611</text>
<rect x="390.7" y="687.66" width="25.99" height="5.3" fill="#4b80b3"/>
<text x="414.44" y="692.01" font-size="4.8" text-anchor="end" fill="#fff" >0.579</text>
<rect x="390.7" y="694.31" width="25.80" height="5.3" fill="#4b80b3"/>
<text x="414.26" y="698.67" font-size="4.8" text-anchor="end" fill="#fff" >0.575</text>
<rect x="390.7" y="700.97" width="25.80" height="5.3" fill="#4b80b3"/>
<text x="414.26" y="705.33" font-size="4.8" text-anchor="end" fill="#fff" >0.575</text>
<rect x="390.7" y="707.63" width="25.21" height="5.3" fill="#4b80b3"/>
<text x="413.67" y="711.98" font-size="4.8" text-anchor="end" fill="#fff" >0.561</text>
<rect x="390.7" y="714.29" width="25.21" height="5.3" fill="#4b80b3"/>
<text x="413.67" y="718.64" font-size="4.8" text-anchor="end" fill="#fff" >0.561</text>
<rect x="390.7" y="720.94" width="23.68" height="5.3" fill="#4b80b3"/>
<text x="412.14" y="725.30" font-size="4.8" text-anchor="end" fill="#fff" >0.527</text>
<rect x="390.7" y="727.60" width="22.45" height="5.3" fill="#4b80b3"/>
<text x="405.57" y="731.95" font-size="4.8" text-anchor="end" fill="#fff" >0.5</text>
<line x1="390.4" y1="733.5" x2="431" y2="733.5" stroke="#333" stroke-width="0.6"/>
<line x1="390.70" y1="733.5" x2="390.70" y2="735" stroke="#333" stroke-width="0.5"/>
<text x="390.70" y="739.53" font-size="4.6" text-anchor="middle" fill="#333" >0</text>
<line x1="399.68" y1="733.5" x2="399.68" y2="735" stroke="#333" stroke-width="0.5"/>
<text x="399.68" y="739.53" font-size="4.6" text-anchor="middle" fill="#333" >0.2</text>
<line x1="408.66" y1="733.5" x2="408.66" y2="735" stroke="#333" stroke-width="0.5"/>
<text x="408.66" y="739.53" font-size="4.6" text-anchor="middle" fill="#333" >0.4</text>
<line x1="417.64" y1="733.5" x2="417.64" y2="735" stroke="#333" stroke-width="0.5"/>
<text x="417.64" y="739.53" font-size="4.6" text-anchor="middle" fill="#333" >0.6</text>
<line x1="426.62" y1="733.5" x2="426.62" y2="735" stroke="#333" stroke-width="0.5"/>
<text x="426.62" y="739.53" font-size="4.6" text-anchor="middle" fill="#333" >0.8</text>
<text x="446.20" y="15.07" font-size="12.6" text-anchor="start" fill="#000" >C</text>
<rect x="552.5" y="7.4" width="130.10" height="721.80" fill="#fff"/>
<line x1="570.75" y1="7.4" x2="570.75" y2="729.2" stroke="#f2f2f2" stroke-width="0.4"/>
<line x1="606.85" y1="7.4" x2="606.85" y2="729.2" stroke="#f2f2f2" stroke-width="0.4"/>
<line x1="642.95" y1="7.4" x2="642.95" y2="729.2" stroke="#f2f2f2" stroke-width="0.4"/>
<line x1="679.05" y1="7.4" x2="679.05" y2="729.2" stroke="#f2f2f2" stroke-width="0.4"/>
<line x1="552.70" y1="7.4" x2="552.70" y2="729.2" stroke="#e4e4e4" stroke-width="0.6"/>
<line x1="588.80" y1="7.4" x2="588.80" y2="729.2" stroke="#e4e4e4" stroke-width="0.6"/>
<line x1="624.90" y1="7.4" x2="624.90" y2="729.2" stroke="#e4e4e4" stroke-width="0.6"/>
<line x1="661.00" y1="7.4" x2="661.00" y2="729.2" stroke="#e4e4e4" stroke-width="0.6"/>
<line x1="552.5" y1="10.59" x2="682.6" y2="10.59" stroke="#ececec" stroke-width="0.5"/>
<line x1="552.5" y1="16.98" x2="682.6" y2="16.98" stroke="#ececec" stroke-width="0.5"/>
<line x1="552.5" y1="23.37" x2="682.6" y2="23.37" stroke="#ececec" stroke-width="0.5"/>
<line x1="552.5" y1="29.76" x2="682.6" y2="29.76" stroke="#ececec" stroke-width="0.5"/>
<line x1="552.5" y1="36.14" x2="682.6" y2="36.14" stroke="#ececec" stroke-width="0.5"/>
<line x1="552.5" y1="42.53" x2="682.6" y2="42.53" stroke="#ececec" stroke-width="0.5"/>
<line x1="552.5" y1="48.92" x2="682.6" y2="48.92" stroke="#ececec" stroke-width="0.5"/>
<line x1="552.5" y1="55.31" x2="682.6" y2="55.31" stroke="#ececec" stroke-width="0.5"/>
<line x1="552.5" y1="61.69" x2="682.6" y2="61.69" stroke="#ececec" stroke-width="0.5"/>
<line x1="552.5" y1="68.08" x2="682.6" y2="68.08" stroke="#ececec" stroke-width="0.5"/>
<line x1="552.5" y1="74.47" x2="682.6" y2="74.47" stroke="#ececec" stroke-width="0.5"/>
<line x1="552.5" y1="80.86" x2="682.6" y2="80.86" stroke="#ececec" stroke-width="0.5"/>
<line x1="552.5" y1="87.25" x2="682.6" y2="87.25" stroke="#ececec" stroke-width="0.5"/>
<line x1="552.5" y1="93.63" x2="682.6" y2="93.63" stroke="#ececec" stroke-width="0.5"/>
<line x1="552.5" y1="100.02" x2="682.6" y2="100.02" stroke="#ececec" stroke-width="0.5"/>
<line x1="552.5" y1="106.41" x2="682.6" y2="106.41" stroke="#ececec" stroke-width="0.5"/>
<line x1="552.5" y1="112.80" x2="682.6" y2="112.80" stroke="#ececec" stroke-width="0.5"/>
<line x1="552.5" y1="119.18" x2="682.6" y2="119.18" stroke="#ececec" stroke-width="0.5"/>
<line x1="552.5" y1="125.57" x2="682.6" y2="125.57" stroke="#ececec" stroke-width="0.5"/>
<line x1="552.5" y1="131.96" x2="682.6" y2="131.96" stroke="#ececec" stroke-width="0.5"/>
<line x1="552.5" y1="138.35" x2="682.6" y2="138.35" stroke="#ececec" stroke-width="0.5"/>
<line x1="552.5" y1="144.73" x2="682.6" y2="144.73" stroke="#ececec" stroke-width="0.5"/>
<line x1="552.5" y1="151.12" x2="682.6" y2="151.12" stroke="#ececec" stroke-width="0.5"/>
<line x1="552.5" y1="157.51" x2="682.6" y2="157.51" stroke="#ececec" stroke-width="0.5"/>
<line x1="552.5" y1="163.90" x2="682.6" y2="163.90" stroke="#ececec" stroke-width="0.5"/>
<line x1="552.5" y1="170.28" x2="682.6" y2="170.28" stroke="#ececec" stroke-width="0.5"/>
<line x1="552.5" y1="176.67" x2="682.6" y2="176.67" stroke="#ececec" stroke-width="0.5"/>
<line x1="552.5" y1="183.06" x2="682.6" y2="183.06" stroke="#ececec" stroke-width="0.5"/>
<line x1="552.5" y1="189.45" x2="682.6" y2="189.45" stroke="#ececec" stroke-width="0.5"/>
<line x1="552.5" y1="195.83" x2="682.6" y2="195.83" stroke="#ececec" stroke-width="0.5"/>
<line x1="552.5" y1="202.22" x2="682.6" y2="202.22" stroke="#ececec" stroke-width="0.5"/>
<line x1="552.5" y1="208.61" x2="682.6" y2="208.61" stroke="#ececec" stroke-width="0.5"/>
<line x1="552.5" y1="215.00" x2="682.6" y2="215.00" stroke="#ececec" stroke-width="0.5"/>
<line x1="552.5" y1="221.38" x2="682.6" y2="221.38" stroke="#ececec" stroke-width="0.5"/>
<line x1="552.5" y1="227.77" x2="682.6" y2="227.77" stroke="#ececec" stroke-width="0.5"/>
<line x1="552.5" y1="234.16" x2="682.6" y2="234.16" stroke="#ececec" stroke-width="0.5"/>
<line x1="552.5" y1="240.55" x2="682.6" y2="240.55" stroke="#ececec" stroke-width="0.5"/>
<line x1="552.5" y1="246.94" x2="682.6" y2="246.94" stroke="#ececec" stroke-width="0.5"/>
<line x1="552.5" y1="253.32" x2="682.6" y2="253.32" stroke="#ececec" stroke-width="0.5"/>
<line x1="552.5" y1="259.71" x2="682.6" y2="259.71" stroke="#ececec" stroke-width="0.5"/>
<line x1="552.5" y1="266.10" x2="682.6" y2="266.10" stroke="#ececec" stroke-width="0.5"/>
<line x1="552.5" y1="272.49" x2="682.6" y2="272.49" stroke="#ececec" stroke-width="0.5"/>
<line x1="552.5" y1="278.87" x2="682.6" y2="278.87" stroke="#ececec" stroke-width="0.5"/>
<line x1="552.5" y1="285.26" x2="682.6" y2="285.26" stroke="#ececec" stroke-width="0.5"/>
<line x1="552.5" y1="291.65" x2="682.6" y2="291.65" stroke="#ececec" stroke-width="0.5"/>
<line x1="552.5" y1="298.04" x2="682.6" y2="298.04" stroke="#ececec" stroke-width="0.5"/>
<line x1="552.5" y1="304.42" x2="682.6" y2="304.42" stroke="#ececec" stroke-width="0.5"/>
<line x1="552.5" y1="310.81" x2="682.6" y2="310.81" stroke="#ececec" stroke-width="0.5"/>
<line x1="552.5" y1="317.20" x2="682.6" y2="317.20" stroke="#ececec" stroke-width="0.5"/>
<line x1="552.5" y1="323.59" x2="682.6" y2="323.59" stroke="#ececec" stroke-width="0.5"/>
<line x1="552.5" y1="329.97" x2="682.6" y2="329.97" stroke="#ececec" stroke-width="0.5"/>
<line x1="552.5" y1="336.36" x2="682.6" y2="336.36" stroke="#ececec" stroke-width="0.5"/>
<line x1="552.5" y1="342.75" x2="682.6" y2="342.75" stroke="#ececec" stroke-width="0.5"/>
<line x1="552.5" y1="349.14" x2="682.6" y2="349.14" stroke="#ececec" stroke-width="0.5"/>
<line x1="552.5" y1="355.52" x2="682.6" y2="355.52" stroke="#ececec" stroke-width="0.5"/>
<line x1="552.5" y1="361.91" x2="682.6" y2="361.91" stroke="#ececec" stroke-width="0.5"/>
<line x1="552.5" y1="368.30" x2="682.6" y2="368.30" stroke="#ececec" stroke-width="0.5"/>
<line x1="552.5" y1="374.69" x2="682.6" y2="374.69" stroke="#ececec" stroke-width="0.5"/>
<line x1="552.5" y1="381.08" x2="682.6" y2="381.08" stroke="#ececec" stroke-width="0.5"/>
<line x1="552.5" y1="387.46" x2="682.6" y2="387.46" stroke="#ececec" stroke-width="0.5"/>
<line x1="552.5" y1="393.85" x2="682.6" y2="393.85" stroke="#ececec" stroke-width="0.5"/>
<line x1="552.5" y1="400.24" x2="682.6" y2="400.24" stroke="#ececec" stroke-width="0.5"/>
<line x1="552.5" y1="406.63" x2="682.6" y2="406.63" stroke="#ececec" stroke-width="0.5"/>
<line x1="552.5" y1="413.01" x2="682.6" y2="413.01" stroke="#ececec" stroke-width="0.5"/>
<line x1="552.5" y1="419.40" x2="682.6" y2="419.40" stroke="#ececec" stroke-width="0.5"/>
<line x1="552.5" y1="425.79" x2="682.6" y2="425.79" stroke="#ececec" stroke-width="0.5"/>
<line x1="552.5" y1="432.18" x2="682.6" y2="432.18" stroke="#ececec" stroke-width="0.5"/>
<line x1="552.5" y1="438.56" x2="682.6" y2="438.56" stroke="#ececec" stroke-width="0.5"/>
<line x1="552.5" y1="444.95" x2="682.6" y2="444.95" stroke="#ececec" stroke-width="0.5"/>
<line x1="552.5" y1="451.34" x2="682.6" y2="451.34" stroke="#ececec" stroke-width="0.5"/>
<line x1="552.5" y1="457.73" x2="682.6" y2="457.73" stroke="#ececec" stroke-width="0.5"/>
<line x1="552.5" y1="464.11" x2="682.6" y2="464.11" stroke="#ececec" stroke-width="0.5"/>
<line x1="552.5" y1="470.50" x2="682.6" y2="470.50" stroke="#ececec" stroke-width="0.5"/>
<line x1="552.5" y1="476.89" x2="682.6" y2="476.89" stroke="#ececec" stroke-width="0.5"/>
<line x1="552.5" y1="483.28" x2="682.6" y2="483.28" stroke="#ececec" stroke-width="0.5"/>
<line x1="552.5" y1="489.66" x2="682.6" y2="489.66" stroke="#ececec" stroke-width="0.5"/>
<line x1="552.5" y1="496.05" x2="682.6" y2="496.05" stroke="#ececec" stroke-width="0.5"/>
<line x1="552.5" y1="502.44" x2="682.6" y2="502.44" stroke="#ececec" stroke-width="0.5"/>
<line x1="552.5" y1="508.83" x2="682.6" y2="508.83" stroke="#ececec" stroke-width="0.5"/>
<line x1="552.5" y1="515.22" x2="682.6" y2="515.22" stroke="#ececec" stroke-width="0.5"/>
<line x1="552.5" y1="521.60" x2="682.6" y2="521.60" stroke="#ececec" stroke-width="0.5"/>
<line x1="552.5" y1="527.99" x2="682.6" y2="527.99" stroke="#ececec" stroke-width="0.5"/>
<line x1="552.5" y1="534.38" x2="682.6" y2="534.38" stroke="#ececec" stroke-width="0.5"/>
<line x1="552.5" y1="540.77" x2="682.6" y2="540.77" stroke="#ececec" stroke-width="0.5"/>
<line x1="552.5" y1="547.15" x2="682.6" y2="547.15" stroke="#ececec" stroke-width="0.5"/>
<line x1="552.5" y1="553.54" x2="682.6" y2="553.54" stroke="#ececec" stroke-width="0.5"/>
<line x1="552.5" y1="559.93" x2="682.6" y2="559.93" stroke="#ececec" stroke-width="0.5"/>
<line x1="552.5" y1="566.32" x2="682.6" y2="566.32" stroke="#ececec" stroke-width="0.5"/>
<line x1="552.5" y1="572.70" x2="682.6" y2="572.70" stroke="#ececec" stroke-width="0.5"/>
<line x1="552.5" y1="579.09" x2="682.6" y2="579.09" stroke="#ececec" stroke-width="0.5"/>
<line x1="552.5" y1="585.48" x2="682.6" y2="585.48" stroke="#ececec" stroke-width="0.5"/>
<line x1="552.5" y1="591.87" x2="682.6" y2="591.87" stroke="#ececec" stroke-width="0.5"/>
<line x1="552.5" y1="598.25" x2="682.6" y2="598.25" stroke="#ececec" stroke-width="0.5"/>
<line x1="552.5" y1="604.64" x2="682.6" y2="604.64" stroke="#ececec" stroke-width="0.5"/>
<line x1="552.5" y1="611.03" x2="682.6" y2="611.03" stroke="#ececec" stroke-width="0.5"/>
<line x1="552.5" y1="617.42" x2="682.6" y2="617.42" stroke="#ececec" stroke-width="0.5"/>
<line x1="552.5" y1="623.80" x2="682.6" y2="623.80" stroke="#ececec" stroke-width="0.5"/>
<line x1="552.5" y1="630.19" x2="682.6" y2="630.19" stroke="#ececec" stroke-width="0.5"/>
<line x1="552.5" y1="636.58" x2="682.6" y2="636.58" stroke="#ececec" stroke-width="0.5"/>
<line x1="552.5" y1="642.97" x2="682.6" y2="642.97" stroke="#ececec" stroke-width="0.5"/>
<line x1="552.5" y1="649.35" x2="682.6" y2="649.35" stroke="#ececec" stroke-width="0.5"/>
<line x1="552.5" y1="655.74" x2="682.6" y2="655.74" stroke="#ececec" stroke-width="0.5"/>
<line x1="552.5" y1="662.13" x2="682.6" y2="662.13" stroke="#ececec" stroke-width="0.5"/>
<line x1="552.5" y1="668.52" x2="682.6" y2="668.52" stroke="#ececec" stroke-width="0.5"/>
<line x1="552.5" y1="674.91" x2="682.6" y2="674.91" stroke="#ececec" stroke-width="0.5"/>
<line x1="552.5" y1="681.29" x2="682.6" y2="681.29" stroke="#ececec" stroke-width="0.5"/>
<line x1="552.5" y1="687.68" x2="682.6" y2="687.68" stroke="#ececec" stroke-width="0.5"/>
<line x1="552.5" y1="694.07" x2="682.6" y2="694.07" stroke="#ececec" stroke-width="0.5"/>
<line x1="552.5" y1="700.46" x2="682.6" y2="700.46" stroke="#ececec" stroke-width="0.5"/>
<line x1="552.5" y1="706.84" x2="682.6" y2="706.84" stroke="#ececec" stroke-width="0.5"/>
<line x1="552.5" y1="713.23" x2="682.6" y2="713.23" stroke="#ececec" stroke-width="0.5"/>
<line x1="552.5" y1="719.62" x2="682.6" y2="719.62" stroke="#ececec" stroke-width="0.5"/>
<line x1="552.5" y1="726.01" x2="682.6" y2="726.01" stroke="#ececec" stroke-width="0.5"/>
<rect x="552.7" y="7.40" width="108.30" height="6.39" fill="#e46a72" stroke="#fff" stroke-width="0.45"/>
<rect x="552.7" y="13.79" width="108.30" height="6.39" fill="#e46976" stroke="#fff" stroke-width="0.45"/>
<rect x="552.7" y="20.18" width="108.30" height="6.39" fill="#e4687b" stroke="#fff" stroke-width="0.45"/>
<rect x="552.7" y="26.56" width="108.30" height="6.39" fill="#e36680" stroke="#fff" stroke-width="0.45"/>
<rect x="552.7" y="32.95" width="108.30" height="6.39" fill="#e36584" stroke="#fff" stroke-width="0.45"/>
<rect x="552.7" y="39.34" width="108.30" height="6.39" fill="#e36488" stroke="#fff" stroke-width="0.45"/>
<rect x="552.7" y="45.73" width="108.30" height="6.39" fill="#e2628d" stroke="#fff" stroke-width="0.45"/>
<rect x="552.7" y="52.11" width="108.30" height="6.39" fill="#e26192" stroke="#fff" stroke-width="0.45"/>
<rect x="552.7" y="58.50" width="108.30" height="6.39" fill="#e26096" stroke="#fff" stroke-width="0.45"/>
<rect x="552.7" y="64.89" width="108.30" height="6.39" fill="#df609a" stroke="#fff" stroke-width="0.45"/>
<rect x="552.7" y="71.28" width="108.30" height="6.39" fill="#dc609e" stroke="#fff" stroke-width="0.45"/>
<rect x="552.7" y="77.66" width="108.30" height="6.39" fill="#d960a1" stroke="#fff" stroke-width="0.45"/>
<rect x="552.7" y="84.05" width="108.30" height="6.39" fill="#d660a5" stroke="#fff" stroke-width="0.45"/>
<rect x="552.7" y="90.44" width="108.30" height="6.39" fill="#d161a6" stroke="#fff" stroke-width="0.45"/>
<rect x="552.7" y="96.83" width="101.08" height="6.39" fill="#cc62a8" stroke="#fff" stroke-width="0.45"/>
<rect x="552.7" y="103.21" width="101.08" height="6.39" fill="#c862a9" stroke="#fff" stroke-width="0.45"/>
<rect x="552.7" y="109.60" width="101.08" height="6.39" fill="#c363ab" stroke="#fff" stroke-width="0.45"/>
<rect x="552.7" y="115.99" width="101.08" height="6.39" fill="#be64ac" stroke="#fff" stroke-width="0.45"/>
<rect x="552.7" y="122.38" width="101.08" height="6.39" fill="#ba65ad" stroke="#fff" stroke-width="0.45"/>
<rect x="552.7" y="128.76" width="93.86" height="6.39" fill="#b767ae" stroke="#fff" stroke-width="0.45"/>
<rect x="552.7" y="135.15" width="93.86" height="6.39" fill="#b368af" stroke="#fff" stroke-width="0.45"/>
<rect x="552.7" y="141.54" width="93.86" height="6.39" fill="#b06ab1" stroke="#fff" stroke-width="0.45"/>
<rect x="552.7" y="147.93" width="93.86" height="6.39" fill="#ac6bb2" stroke="#fff" stroke-width="0.45"/>
<rect x="552.7" y="154.32" width="93.86" height="6.39" fill="#a96db3" stroke="#fff" stroke-width="0.45"/>
<rect x="552.7" y="160.70" width="93.86" height="6.39" fill="#a56eb4" stroke="#fff" stroke-width="0.45"/>
<rect x="552.7" y="167.09" width="93.86" height="6.39" fill="#a270b6" stroke="#fff" stroke-width="0.45"/>
<rect x="552.7" y="173.48" width="93.86" height="6.39" fill="#a071b9" stroke="#fff" stroke-width="0.45"/>
<rect x="552.7" y="179.87" width="93.86" height="6.39" fill="#9e73bc" stroke="#fff" stroke-width="0.45"/>
<rect x="552.7" y="186.25" width="86.64" height="6.39" fill="#9b75be" stroke="#fff" stroke-width="0.45"/>
<rect x="552.7" y="192.64" width="79.42" height="6.39" fill="#9876c0" stroke="#fff" stroke-width="0.45"/>
<rect x="552.7" y="199.03" width="79.42" height="6.39" fill="#9678c3" stroke="#fff" stroke-width="0.45"/>
<rect x="552.7" y="205.42" width="79.42" height="6.39" fill="#917bc5" stroke="#fff" stroke-width="0.45"/>
<rect x="552.7" y="211.80" width="79.42" height="6.39" fill="#8c7fc6" stroke="#fff" stroke-width="0.45"/>
<rect x="552.7" y="218.19" width="79.42" height="6.39" fill="#8782c8" stroke="#fff" stroke-width="0.45"/>
<rect x="552.7" y="224.58" width="79.42" height="6.39" fill="#8285ca" stroke="#fff" stroke-width="0.45"/>
<rect x="552.7" y="230.97" width="79.42" height="6.39" fill="#7d89cb" stroke="#fff" stroke-width="0.45"/>
<rect x="552.7" y="237.35" width="79.42" height="6.39" fill="#788ccd" stroke="#fff" stroke-width="0.45"/>
<rect x="552.7" y="243.74" width="79.42" height="6.39" fill="#7290cf" stroke="#fff" stroke-width="0.45"/>
<rect x="552.7" y="250.13" width="79.42" height="6.39" fill="#6c93d0" stroke="#fff" stroke-width="0.45"/>
<rect x="552.7" y="256.52" width="79.42" height="6.39" fill="#6697d2" stroke="#fff" stroke-width="0.45"/>
<rect x="552.7" y="262.90" width="79.42" height="6.39" fill="#619bd4" stroke="#fff" stroke-width="0.45"/>
<rect x="552.7" y="269.29" width="79.42" height="6.39" fill="#5b9ed5" stroke="#fff" stroke-width="0.45"/>
<rect x="552.7" y="275.68" width="79.42" height="6.39" fill="#55a2d7" stroke="#fff" stroke-width="0.45"/>
<rect x="552.7" y="282.07" width="79.42" height="6.39" fill="#54a4d6" stroke="#fff" stroke-width="0.45"/>
<rect x="552.7" y="288.45" width="79.42" height="6.39" fill="#53a6d5" stroke="#fff" stroke-width="0.45"/>
<rect x="552.7" y="294.84" width="79.42" height="6.39" fill="#52a8d4" stroke="#fff" stroke-width="0.45"/>
<rect x="552.7" y="301.23" width="79.42" height="6.39" fill="#52abd2" stroke="#fff" stroke-width="0.45"/>
<rect x="552.7" y="307.62" width="79.42" height="6.39" fill="#51add1" stroke="#fff" stroke-width="0.45"/>
<rect x="552.7" y="314.01" width="79.42" height="6.39" fill="#50afd0" stroke="#fff" stroke-width="0.45"/>
<rect x="552.7" y="320.39" width="79.42" height="6.39" fill="#50b1cd" stroke="#fff" stroke-width="0.45"/>
<rect x="552.7" y="326.78" width="79.42" height="6.39" fill="#50b2ca" stroke="#fff" stroke-width="0.45"/>
<rect x="552.7" y="333.17" width="79.42" height="6.39" fill="#50b4c7" stroke="#fff" stroke-width="0.45"/>
<rect x="552.7" y="339.56" width="79.42" height="6.39" fill="#50b6c4" stroke="#fff" stroke-width="0.45"/>
<rect x="552.7" y="345.94" width="79.42" height="6.39" fill="#50b7c1" stroke="#fff" stroke-width="0.45"/>
<rect x="552.7" y="352.33" width="79.42" height="6.39" fill="#50b9be" stroke="#fff" stroke-width="0.45"/>
<rect x="552.7" y="358.72" width="79.42" height="6.39" fill="#50b9b8" stroke="#fff" stroke-width="0.45"/>
<rect x="552.7" y="365.11" width="79.42" height="6.39" fill="#50b9b3" stroke="#fff" stroke-width="0.45"/>
<rect x="552.7" y="371.49" width="79.42" height="6.39" fill="#50b9ad" stroke="#fff" stroke-width="0.45"/>
<rect x="552.7" y="377.88" width="79.42" height="6.39" fill="#50b9a7" stroke="#fff" stroke-width="0.45"/>
<rect x="552.7" y="384.27" width="79.42" height="6.39" fill="#50b9a1" stroke="#fff" stroke-width="0.45"/>
<rect x="552.7" y="390.66" width="79.42" height="6.39" fill="#50b99c" stroke="#fff" stroke-width="0.45"/>
<rect x="552.7" y="397.04" width="79.42" height="6.39" fill="#50b996" stroke="#fff" stroke-width="0.45"/>
<rect x="552.7" y="403.43" width="79.42" height="6.39" fill="#50b992" stroke="#fff" stroke-width="0.45"/>
<rect x="552.7" y="409.82" width="79.42" height="6.39" fill="#50b98e" stroke="#fff" stroke-width="0.45"/>
<rect x="552.7" y="416.21" width="79.42" height="6.39" fill="#50b98a" stroke="#fff" stroke-width="0.45"/>
<rect x="552.7" y="422.59" width="28.88" height="6.39" fill="#50b985" stroke="#fff" stroke-width="0.45"/>
<rect x="552.7" y="428.98" width="28.88" height="6.39" fill="#50b981" stroke="#fff" stroke-width="0.45"/>
<rect x="552.7" y="435.37" width="28.88" height="6.39" fill="#50b97d" stroke="#fff" stroke-width="0.45"/>
<rect x="552.7" y="441.76" width="21.66" height="6.39" fill="#4fb977" stroke="#fff" stroke-width="0.45"/>
<rect x="552.7" y="448.15" width="21.66" height="6.39" fill="#4eb971" stroke="#fff" stroke-width="0.45"/>
<rect x="552.7" y="454.53" width="21.66" height="6.39" fill="#4db96b" stroke="#fff" stroke-width="0.45"/>
<rect x="552.7" y="460.92" width="21.66" height="6.39" fill="#4cb965" stroke="#fff" stroke-width="0.45"/>
<rect x="552.7" y="467.31" width="21.66" height="6.39" fill="#4cb960" stroke="#fff" stroke-width="0.45"/>
<rect x="552.7" y="473.70" width="21.66" height="6.39" fill="#4bb95a" stroke="#fff" stroke-width="0.45"/>
<rect x="552.7" y="480.08" width="21.66" height="6.39" fill="#4ab954" stroke="#fff" stroke-width="0.45"/>
<rect x="552.7" y="486.47" width="21.66" height="6.39" fill="#49b94e" stroke="#fff" stroke-width="0.45"/>
<rect x="552.7" y="492.86" width="21.66" height="6.39" fill="#48b948" stroke="#fff" stroke-width="0.45"/>
<rect x="552.7" y="499.25" width="21.66" height="6.39" fill="#4eb846" stroke="#fff" stroke-width="0.45"/>
<rect x="552.7" y="505.63" width="21.66" height="6.39" fill="#54b645" stroke="#fff" stroke-width="0.45"/>
<rect x="552.7" y="512.02" width="21.66" height="6.39" fill="#5ab544" stroke="#fff" stroke-width="0.45"/>
<rect x="552.7" y="518.41" width="21.66" height="6.39" fill="#60b442" stroke="#fff" stroke-width="0.45"/>
<rect x="552.7" y="524.80" width="21.66" height="6.39" fill="#66b340" stroke="#fff" stroke-width="0.45"/>
<rect x="552.7" y="531.18" width="21.66" height="6.39" fill="#6cb23f" stroke="#fff" stroke-width="0.45"/>
<rect x="552.7" y="537.57" width="21.66" height="6.39" fill="#72b03e" stroke="#fff" stroke-width="0.45"/>
<rect x="552.7" y="543.96" width="21.66" height="6.39" fill="#78af3c" stroke="#fff" stroke-width="0.45"/>
<rect x="552.7" y="550.35" width="21.66" height="6.39" fill="#7ead3b" stroke="#fff" stroke-width="0.45"/>
<rect x="552.7" y="556.73" width="21.66" height="6.39" fill="#84ac3a" stroke="#fff" stroke-width="0.45"/>
<rect x="552.7" y="563.12" width="21.66" height="6.39" fill="#8baa39" stroke="#fff" stroke-width="0.45"/>
<rect x="552.7" y="569.51" width="21.66" height="6.39" fill="#91a838" stroke="#fff" stroke-width="0.45"/>
<rect x="552.7" y="575.90" width="21.66" height="6.39" fill="#97a737" stroke="#fff" stroke-width="0.45"/>
<rect x="552.7" y="582.28" width="21.66" height="6.39" fill="#9ea536" stroke="#fff" stroke-width="0.45"/>
<rect x="552.7" y="588.67" width="21.66" height="6.39" fill="#a4a435" stroke="#fff" stroke-width="0.45"/>
<rect x="552.7" y="595.06" width="21.66" height="6.39" fill="#aaa234" stroke="#fff" stroke-width="0.45"/>
<rect x="552.7" y="601.45" width="21.66" height="6.39" fill="#aea034" stroke="#fff" stroke-width="0.45"/>
<rect x="552.7" y="607.84" width="21.66" height="6.39" fill="#b29e34" stroke="#fff" stroke-width="0.45"/>
<rect x="552.7" y="614.22" width="21.66" height="6.39" fill="#b59d33" stroke="#fff" stroke-width="0.45"/>
<rect x="552.7" y="620.61" width="21.66" height="6.39" fill="#b99b33" stroke="#fff" stroke-width="0.45"/>
<rect x="552.7" y="627.00" width="21.66" height="6.39" fill="#bd9933" stroke="#fff" stroke-width="0.45"/>
<rect x="552.7" y="633.39" width="21.66" height="6.39" fill="#c09832" stroke="#fff" stroke-width="0.45"/>
<rect x="552.7" y="639.77" width="21.66" height="6.39" fill="#c49632" stroke="#fff" stroke-width="0.45"/>
<rect x="552.7" y="646.16" width="21.66" height="6.39" fill="#c89432" stroke="#fff" stroke-width="0.45"/>
<rect x="552.7" y="652.55" width="21.66" height="6.39" fill="#ca9133" stroke="#fff" stroke-width="0.45"/>
<rect x="552.7" y="658.94" width="21.66" height="6.39" fill="#cd8e34" stroke="#fff" stroke-width="0.45"/>
<rect x="552.7" y="665.32" width="21.66" height="6.39" fill="#d08b34" stroke="#fff" stroke-width="0.45"/>
<rect x="552.7" y="671.71" width="21.66" height="6.39" fill="#d28835" stroke="#fff" stroke-width="0.45"/>
<rect x="552.7" y="678.10" width="21.66" height="6.39" fill="#d48536" stroke="#fff" stroke-width="0.45"/>
<rect x="552.7" y="684.49" width="21.66" height="6.39" fill="#d78237" stroke="#fff" stroke-width="0.45"/>
<rect x="552.7" y="690.87" width="21.66" height="6.39" fill="#d97f3e" stroke="#fff" stroke-width="0.45"/>
<rect x="552.7" y="697.26" width="14.44" height="6.39" fill="#da7b46" stroke="#fff" stroke-width="0.45"/>
<rect x="552.7" y="703.65" width="14.44" height="6.39" fill="#dc784e" stroke="#fff" stroke-width="0.45"/>
<rect x="552.7" y="710.04" width="14.44" height="6.39" fill="#de7555" stroke="#fff" stroke-width="0.45"/>
<rect x="552.7" y="716.42" width="14.44" height="6.39" fill="#df715c" stroke="#fff" stroke-width="0.45"/>
<rect x="552.7" y="722.81" width="14.44" height="6.39" fill="#e16e64" stroke="#fff" stroke-width="0.45"/>
<text x="660.50" y="12.00" font-size="6.5" text-anchor="start" fill="#1a1a1a" >15</text>
<text x="548.20" y="12.01" font-size="7.1" text-anchor="end" fill="#1e1e1e" stroke="#1e1e1e" stroke-width="0.12">XGBoost</text>
<text x="660.50" y="18.39" font-size="6.5" text-anchor="start" fill="#1a1a1a" >15</text>
<text x="548.20" y="18.40" font-size="7.1" text-anchor="end" fill="#1e1e1e" stroke="#1e1e1e" stroke-width="0.12">SVM</text>
<text x="660.50" y="24.78" font-size="6.5" text-anchor="start" fill="#1a1a1a" >15</text>
<text x="548.20" y="24.79" font-size="7.1" text-anchor="end" fill="#1e1e1e" stroke="#1e1e1e" stroke-width="0.12">Stepglm[forward]</text>
<text x="660.50" y="31.16" font-size="6.5" text-anchor="start" fill="#1a1a1a" >15</text>
<text x="548.20" y="31.18" font-size="7.1" text-anchor="end" fill="#1e1e1e" stroke="#1e1e1e" stroke-width="0.12">Stepglm[both]+plsRglm</text>
<text x="660.50" y="37.55" font-size="6.5" text-anchor="start" fill="#1a1a1a" >15</text>
<text x="548.20" y="37.56" font-size="7.1" text-anchor="end" fill="#1e1e1e" stroke="#1e1e1e" stroke-width="0.12">Stepglm[backward]+plsRglm</text>
<text x="660.50" y="43.94" font-size="6.5" text-anchor="start" fill="#1a1a1a" >15</text>
<text x="548.20" y="43.95" font-size="7.1" text-anchor="end" fill="#1e1e1e" stroke="#1e1e1e" stroke-width="0.12">Ridge</text>
<text x="660.50" y="50.33" font-size="6.5" text-anchor="start" fill="#1a1a1a" >15</text>
<text x="548.20" y="50.34" font-size="7.1" text-anchor="end" fill="#1e1e1e" stroke="#1e1e1e" stroke-width="0.12">RF+plsRglm</text>
<text x="660.50" y="56.71" font-size="6.5" text-anchor="start" fill="#1a1a1a" >15</text>
<text x="548.20" y="56.73" font-size="7.1" text-anchor="end" fill="#1e1e1e" stroke="#1e1e1e" stroke-width="0.12">plsRglm</text>
<text x="660.50" y="63.10" font-size="6.5" text-anchor="start" fill="#1a1a1a" >15</text>
<text x="548.20" y="63.12" font-size="7.1" text-anchor="end" fill="#1e1e1e" stroke="#1e1e1e" stroke-width="0.12">NaiveBayes</text>
<text x="660.50" y="69.49" font-size="6.5" text-anchor="start" fill="#1a1a1a" >15</text>
<text x="548.20" y="69.50" font-size="7.1" text-anchor="end" fill="#1e1e1e" stroke="#1e1e1e" stroke-width="0.12">LDA</text>
<text x="660.50" y="75.88" font-size="6.5" text-anchor="start" fill="#1a1a1a" >15</text>
<text x="548.20" y="75.89" font-size="7.1" text-anchor="end" fill="#1e1e1e" stroke="#1e1e1e" stroke-width="0.12">Lasso+plsRglm</text>
<text x="660.50" y="82.27" font-size="6.5" text-anchor="start" fill="#1a1a1a" >15</text>
<text x="548.20" y="82.28" font-size="7.1" text-anchor="end" fill="#1e1e1e" stroke="#1e1e1e" stroke-width="0.12">glmBoost+plsRglm</text>
<text x="660.50" y="88.65" font-size="6.5" text-anchor="start" fill="#1a1a1a" >15</text>
<text x="548.20" y="88.67" font-size="7.1" text-anchor="end" fill="#1e1e1e" stroke="#1e1e1e" stroke-width="0.12">GBM</text>
<text x="660.50" y="95.04" font-size="6.5" text-anchor="start" fill="#1a1a1a" >15</text>
<text x="548.20" y="95.05" font-size="7.1" text-anchor="end" fill="#1e1e1e" stroke="#1e1e1e" stroke-width="0.12">Enet[alpha=0.6]</text>
<text x="653.28" y="101.43" font-size="6.5" text-anchor="start" fill="#1a1a1a" >14</text>
<text x="548.20" y="101.44" font-size="7.1" text-anchor="end" fill="#1e1e1e" stroke="#1e1e1e" stroke-width="0.12">Enet[alpha=0.9]</text>
<text x="653.28" y="107.82" font-size="6.5" text-anchor="start" fill="#1a1a1a" >14</text>
<text x="548.20" y="107.83" font-size="7.1" text-anchor="end" fill="#1e1e1e" stroke="#1e1e1e" stroke-width="0.12">Enet[alpha=0.4]</text>
<text x="653.28" y="114.20" font-size="6.5" text-anchor="start" fill="#1a1a1a" >14</text>
<text x="548.20" y="114.22" font-size="7.1" text-anchor="end" fill="#1e1e1e" stroke="#1e1e1e" stroke-width="0.12">Enet[alpha=0.3]</text>
<text x="653.28" y="120.59" font-size="6.5" text-anchor="start" fill="#1a1a1a" >14</text>
<text x="548.20" y="120.60" font-size="7.1" text-anchor="end" fill="#1e1e1e" stroke="#1e1e1e" stroke-width="0.12">Enet[alpha=0.2]</text>
<text x="653.28" y="126.98" font-size="6.5" text-anchor="start" fill="#1a1a1a" >14</text>
<text x="548.20" y="126.99" font-size="7.1" text-anchor="end" fill="#1e1e1e" stroke="#1e1e1e" stroke-width="0.12">Enet[alpha=0.1]</text>
<text x="646.06" y="133.37" font-size="6.5" text-anchor="start" fill="#1a1a1a" >13</text>
<text x="548.20" y="133.38" font-size="7.1" text-anchor="end" fill="#1e1e1e" stroke="#1e1e1e" stroke-width="0.12">Lasso+XGBoost</text>
<text x="646.06" y="139.75" font-size="6.5" text-anchor="start" fill="#1a1a1a" >13</text>
<text x="548.20" y="139.77" font-size="7.1" text-anchor="end" fill="#1e1e1e" stroke="#1e1e1e" stroke-width="0.12">Lasso+SVM</text>
<text x="646.06" y="146.14" font-size="6.5" text-anchor="start" fill="#1a1a1a" >13</text>
<text x="548.20" y="146.15" font-size="7.1" text-anchor="end" fill="#1e1e1e" stroke="#1e1e1e" stroke-width="0.12">Lasso+Stepglm[forward]</text>
<text x="646.06" y="152.53" font-size="6.5" text-anchor="start" fill="#1a1a1a" >13</text>
<text x="548.20" y="152.54" font-size="7.1" text-anchor="end" fill="#1e1e1e" stroke="#1e1e1e" stroke-width="0.12">Lasso+NaiveBayes</text>
<text x="646.06" y="158.92" font-size="6.5" text-anchor="start" fill="#1a1a1a" >13</text>
<text x="548.20" y="158.93" font-size="7.1" text-anchor="end" fill="#e8183a" stroke="#e8183a" stroke-width="0.12">Lasso+LDA</text>
<text x="646.06" y="165.30" font-size="6.5" text-anchor="start" fill="#1a1a1a" >13</text>
<text x="548.20" y="165.32" font-size="7.1" text-anchor="end" fill="#1e1e1e" stroke="#1e1e1e" stroke-width="0.12">Lasso+GBM</text>
<text x="646.06" y="171.69" font-size="6.5" text-anchor="start" fill="#1a1a1a" >13</text>
<text x="548.20" y="171.70" font-size="7.1" text-anchor="end" fill="#1e1e1e" stroke="#1e1e1e" stroke-width="0.12">Enet[alpha=0.8]</text>
<text x="646.06" y="178.08" font-size="6.5" text-anchor="start" fill="#1a1a1a" >13</text>
<text x="548.20" y="178.09" font-size="7.1" text-anchor="end" fill="#1e1e1e" stroke="#1e1e1e" stroke-width="0.12">Enet[alpha=0.7]</text>
<text x="646.06" y="184.47" font-size="6.5" text-anchor="start" fill="#1a1a1a" >13</text>
<text x="548.20" y="184.48" font-size="7.1" text-anchor="end" fill="#1e1e1e" stroke="#1e1e1e" stroke-width="0.12">Enet[alpha=0.5]</text>
<text x="638.84" y="190.85" font-size="6.5" text-anchor="start" fill="#1a1a1a" >12</text>
<text x="548.20" y="190.87" font-size="7.1" text-anchor="end" fill="#1e1e1e" stroke="#1e1e1e" stroke-width="0.12">Lasso</text>
<text x="631.62" y="197.24" font-size="6.5" text-anchor="start" fill="#1a1a1a" >11</text>
<text x="548.20" y="197.26" font-size="7.1" text-anchor="end" fill="#1e1e1e" stroke="#1e1e1e" stroke-width="0.12">Stepglm[both]+XGBoost</text>
<text x="631.62" y="203.63" font-size="6.5" text-anchor="start" fill="#1a1a1a" >11</text>
<text x="548.20" y="203.64" font-size="7.1" text-anchor="end" fill="#1e1e1e" stroke="#1e1e1e" stroke-width="0.12">Stepglm[both]+SVM</text>
<text x="631.62" y="210.02" font-size="6.5" text-anchor="start" fill="#1a1a1a" >11</text>
<text x="548.20" y="210.03" font-size="7.1" text-anchor="end" fill="#1e1e1e" stroke="#1e1e1e" stroke-width="0.12">Stepglm[both]+Ridge</text>
<text x="631.62" y="216.40" font-size="6.5" text-anchor="start" fill="#1a1a1a" >11</text>
<text x="548.20" y="216.42" font-size="7.1" text-anchor="end" fill="#1e1e1e" stroke="#1e1e1e" stroke-width="0.12">Stepglm[both]+NaiveBayes</text>
<text x="631.62" y="222.79" font-size="6.5" text-anchor="start" fill="#1a1a1a" >11</text>
<text x="548.20" y="222.81" font-size="7.1" text-anchor="end" fill="#1e1e1e" stroke="#1e1e1e" stroke-width="0.12">Stepglm[both]+LDA</text>
<text x="631.62" y="229.18" font-size="6.5" text-anchor="start" fill="#1a1a1a" >11</text>
<text x="548.20" y="229.19" font-size="7.1" text-anchor="end" fill="#1e1e1e" stroke="#1e1e1e" stroke-width="0.12">Stepglm[both]+Lasso</text>
<text x="631.62" y="235.57" font-size="6.5" text-anchor="start" fill="#1a1a1a" >11</text>
<text x="548.20" y="235.58" font-size="7.1" text-anchor="end" fill="#1e1e1e" stroke="#1e1e1e" stroke-width="0.12">Stepglm[both]+GBM</text>
<text x="631.62" y="241.96" font-size="6.5" text-anchor="start" fill="#1a1a1a" >11</text>
<text x="548.20" y="241.97" font-size="7.1" text-anchor="end" fill="#1e1e1e" stroke="#1e1e1e" stroke-width="0.12">Stepglm[both]+Enet[alpha=0.9]</text>
<text x="631.62" y="248.34" font-size="6.5" text-anchor="start" fill="#1a1a1a" >11</text>
<text x="548.20" y="248.36" font-size="7.1" text-anchor="end" fill="#1e1e1e" stroke="#1e1e1e" stroke-width="0.12">Stepglm[both]+Enet[alpha=0.8]</text>
<text x="631.62" y="254.73" font-size="6.5" text-anchor="start" fill="#1a1a1a" >11</text>
<text x="548.20" y="254.74" font-size="7.1" text-anchor="end" fill="#1e1e1e" stroke="#1e1e1e" stroke-width="0.12">Stepglm[both]+Enet[alpha=0.7]</text>
<text x="631.62" y="261.12" font-size="6.5" text-anchor="start" fill="#1a1a1a" >11</text>
<text x="548.20" y="261.13" font-size="7.1" text-anchor="end" fill="#1e1e1e" stroke="#1e1e1e" stroke-width="0.12">Stepglm[both]+Enet[alpha=0.6]</text>
<text x="631.62" y="267.51" font-size="6.5" text-anchor="start" fill="#1a1a1a" >11</text>
<text x="548.20" y="267.52" font-size="7.1" text-anchor="end" fill="#1e1e1e" stroke="#1e1e1e" stroke-width="0.12">Stepglm[both]+Enet[alpha=0.5]</text>
<text x="631.62" y="273.89" font-size="6.5" text-anchor="start" fill="#1a1a1a" >11</text>
<text x="548.20" y="273.91" font-size="7.1" text-anchor="end" fill="#1e1e1e" stroke="#1e1e1e" stroke-width="0.12">Stepglm[both]+Enet[alpha=0.4]</text>
<text x="631.62" y="280.28" font-size="6.5" text-anchor="start" fill="#1a1a1a" >11</text>
<text x="548.20" y="280.29" font-size="7.1" text-anchor="end" fill="#1e1e1e" stroke="#1e1e1e" stroke-width="0.12">Stepglm[both]+Enet[alpha=0.3]</text>
<text x="631.62" y="286.67" font-size="6.5" text-anchor="start" fill="#1a1a1a" >11</text>
<text x="548.20" y="286.68" font-size="7.1" text-anchor="end" fill="#1e1e1e" stroke="#1e1e1e" stroke-width="0.12">Stepglm[both]+Enet[alpha=0.2]</text>
<text x="631.62" y="293.06" font-size="6.5" text-anchor="start" fill="#1a1a1a" >11</text>
<text x="548.20" y="293.07" font-size="7.1" text-anchor="end" fill="#1e1e1e" stroke="#1e1e1e" stroke-width="0.12">Stepglm[both]+Enet[alpha=0.1]</text>
<text x="631.62" y="299.44" font-size="6.5" text-anchor="start" fill="#1a1a1a" >11</text>
<text x="548.20" y="299.46" font-size="7.1" text-anchor="end" fill="#1e1e1e" stroke="#1e1e1e" stroke-width="0.12">Stepglm[both]</text>
<text x="631.62" y="305.83" font-size="6.5" text-anchor="start" fill="#1a1a1a" >11</text>
<text x="548.20" y="305.84" font-size="7.1" text-anchor="end" fill="#1e1e1e" stroke="#1e1e1e" stroke-width="0.12">Stepglm[backward]+XGBoost</text>
<text x="631.62" y="312.22" font-size="6.5" text-anchor="start" fill="#1a1a1a" >11</text>
<text x="548.20" y="312.23" font-size="7.1" text-anchor="end" fill="#1e1e1e" stroke="#1e1e1e" stroke-width="0.12">Stepglm[backward]+SVM</text>
<text x="631.62" y="318.61" font-size="6.5" text-anchor="start" fill="#1a1a1a" >11</text>
<text x="548.20" y="318.62" font-size="7.1" text-anchor="end" fill="#1e1e1e" stroke="#1e1e1e" stroke-width="0.12">Stepglm[backward]+Ridge</text>
<text x="631.62" y="324.99" font-size="6.5" text-anchor="start" fill="#1a1a1a" >11</text>
<text x="548.20" y="325.01" font-size="7.1" text-anchor="end" fill="#1e1e1e" stroke="#1e1e1e" stroke-width="0.12">Stepglm[backward]+NaiveBayes</text>
<text x="631.62" y="331.38" font-size="6.5" text-anchor="start" fill="#1a1a1a" >11</text>
<text x="548.20" y="331.39" font-size="7.1" text-anchor="end" fill="#1e1e1e" stroke="#1e1e1e" stroke-width="0.12">Stepglm[backward]+LDA</text>
<text x="631.62" y="337.77" font-size="6.5" text-anchor="start" fill="#1a1a1a" >11</text>
<text x="548.20" y="337.78" font-size="7.1" text-anchor="end" fill="#1e1e1e" stroke="#1e1e1e" stroke-width="0.12">Stepglm[backward]+Lasso</text>
<text x="631.62" y="344.16" font-size="6.5" text-anchor="start" fill="#1a1a1a" >11</text>
<text x="548.20" y="344.17" font-size="7.1" text-anchor="end" fill="#1e1e1e" stroke="#1e1e1e" stroke-width="0.12">Stepglm[backward]+GBM</text>
<text x="631.62" y="350.54" font-size="6.5" text-anchor="start" fill="#1a1a1a" >11</text>
<text x="548.20" y="350.56" font-size="7.1" text-anchor="end" fill="#1e1e1e" stroke="#1e1e1e" stroke-width="0.12">Stepglm[backward]+Enet[alpha=0.9]</text>
<text x="631.62" y="356.93" font-size="6.5" text-anchor="start" fill="#1a1a1a" >11</text>
<text x="548.20" y="356.95" font-size="7.1" text-anchor="end" fill="#1e1e1e" stroke="#1e1e1e" stroke-width="0.12">Stepglm[backward]+Enet[alpha=0.8]</text>
<text x="631.62" y="363.32" font-size="6.5" text-anchor="start" fill="#1a1a1a" >11</text>
<text x="548.20" y="363.33" font-size="7.1" text-anchor="end" fill="#1e1e1e" stroke="#1e1e1e" stroke-width="0.12">Stepglm[backward]+Enet[alpha=0.7]</text>
<text x="631.62" y="369.71" font-size="6.5" text-anchor="start" fill="#1a1a1a" >11</text>
<text x="548.20" y="369.72" font-size="7.1" text-anchor="end" fill="#1e1e1e" stroke="#1e1e1e" stroke-width="0.12">Stepglm[backward]+Enet[alpha=0.6]</text>
<text x="631.62" y="376.10" font-size="6.5" text-anchor="start" fill="#1a1a1a" >11</text>
<text x="548.20" y="376.11" font-size="7.1" text-anchor="end" fill="#1e1e1e" stroke="#1e1e1e" stroke-width="0.12">Stepglm[backward]+Enet[alpha=0.5]</text>
<text x="631.62" y="382.48" font-size="6.5" text-anchor="start" fill="#1a1a1a" >11</text>
<text x="548.20" y="382.50" font-size="7.1" text-anchor="end" fill="#1e1e1e" stroke="#1e1e1e" stroke-width="0.12">Stepglm[backward]+Enet[alpha=0.4]</text>
<text x="631.62" y="388.87" font-size="6.5" text-anchor="start" fill="#1a1a1a" >11</text>
<text x="548.20" y="388.88" font-size="7.1" text-anchor="end" fill="#1e1e1e" stroke="#1e1e1e" stroke-width="0.12">Stepglm[backward]+Enet[alpha=0.3]</text>
<text x="631.62" y="395.26" font-size="6.5" text-anchor="start" fill="#1a1a1a" >11</text>
<text x="548.20" y="395.27" font-size="7.1" text-anchor="end" fill="#1e1e1e" stroke="#1e1e1e" stroke-width="0.12">Stepglm[backward]+Enet[alpha=0.2]</text>
<text x="631.62" y="401.65" font-size="6.5" text-anchor="start" fill="#1a1a1a" >11</text>
<text x="548.20" y="401.66" font-size="7.1" text-anchor="end" fill="#1e1e1e" stroke="#1e1e1e" stroke-width="0.12">Stepglm[backward]+Enet[alpha=0.1]</text>
<text x="631.62" y="408.03" font-size="6.5" text-anchor="start" fill="#1a1a1a" >11</text>
<text x="548.20" y="408.05" font-size="7.1" text-anchor="end" fill="#1e1e1e" stroke="#1e1e1e" stroke-width="0.12">Stepglm[backward]</text>
<text x="631.62" y="414.42" font-size="6.5" text-anchor="start" fill="#1a1a1a" >11</text>
<text x="548.20" y="414.43" font-size="7.1" text-anchor="end" fill="#1e1e1e" stroke="#1e1e1e" stroke-width="0.12">Lasso+Stepglm[both]</text>
<text x="631.62" y="420.81" font-size="6.5" text-anchor="start" fill="#1a1a1a" >11</text>
<text x="548.20" y="420.82" font-size="7.1" text-anchor="end" fill="#1e1e1e" stroke="#1e1e1e" stroke-width="0.12">Lasso+Stepglm[backward]</text>
<text x="581.08" y="427.20" font-size="6.5" text-anchor="start" fill="#1a1a1a" >4</text>
<text x="548.20" y="427.21" font-size="7.1" text-anchor="end" fill="#1e1e1e" stroke="#1e1e1e" stroke-width="0.12">Stepglm[both]+RF</text>
<text x="581.08" y="433.58" font-size="6.5" text-anchor="start" fill="#1a1a1a" >4</text>
<text x="548.20" y="433.60" font-size="7.1" text-anchor="end" fill="#1e1e1e" stroke="#1e1e1e" stroke-width="0.12">Stepglm[backward]+RF</text>
<text x="581.08" y="439.97" font-size="6.5" text-anchor="start" fill="#1a1a1a" >4</text>
<text x="548.20" y="439.98" font-size="7.1" text-anchor="end" fill="#1e1e1e" stroke="#1e1e1e" stroke-width="0.12">Lasso+RF</text>
<text x="573.86" y="446.36" font-size="6.5" text-anchor="start" fill="#1a1a1a" >3</text>
<text x="548.20" y="446.37" font-size="7.1" text-anchor="end" fill="#1e1e1e" stroke="#1e1e1e" stroke-width="0.12">Stepglm[both]+glmBoost</text>
<text x="573.86" y="452.75" font-size="6.5" text-anchor="start" fill="#1a1a1a" >3</text>
<text x="548.20" y="452.76" font-size="7.1" text-anchor="end" fill="#1e1e1e" stroke="#1e1e1e" stroke-width="0.12">Stepglm[backward]+glmBoost</text>
<text x="573.86" y="459.13" font-size="6.5" text-anchor="start" fill="#1a1a1a" >3</text>
<text x="548.20" y="459.15" font-size="7.1" text-anchor="end" fill="#1e1e1e" stroke="#1e1e1e" stroke-width="0.12">RF+XGBoost</text>
<text x="573.86" y="465.52" font-size="6.5" text-anchor="start" fill="#1a1a1a" >3</text>
<text x="548.20" y="465.53" font-size="7.1" text-anchor="end" fill="#1e1e1e" stroke="#1e1e1e" stroke-width="0.12">RF+SVM</text>
<text x="573.86" y="471.91" font-size="6.5" text-anchor="start" fill="#1a1a1a" >3</text>
<text x="548.20" y="471.92" font-size="7.1" text-anchor="end" fill="#1e1e1e" stroke="#1e1e1e" stroke-width="0.12">RF+Stepglm[forward]</text>
<text x="573.86" y="478.30" font-size="6.5" text-anchor="start" fill="#1a1a1a" >3</text>
<text x="548.20" y="478.31" font-size="7.1" text-anchor="end" fill="#1e1e1e" stroke="#1e1e1e" stroke-width="0.12">RF+Ridge</text>
<text x="573.86" y="484.68" font-size="6.5" text-anchor="start" fill="#1a1a1a" >3</text>
<text x="548.20" y="484.70" font-size="7.1" text-anchor="end" fill="#1e1e1e" stroke="#1e1e1e" stroke-width="0.12">RF+NaiveBayes</text>
<text x="573.86" y="491.07" font-size="6.5" text-anchor="start" fill="#1a1a1a" >3</text>
<text x="548.20" y="491.09" font-size="7.1" text-anchor="end" fill="#1e1e1e" stroke="#1e1e1e" stroke-width="0.12">RF+LDA</text>
<text x="573.86" y="497.46" font-size="6.5" text-anchor="start" fill="#1a1a1a" >3</text>
<text x="548.20" y="497.47" font-size="7.1" text-anchor="end" fill="#1e1e1e" stroke="#1e1e1e" stroke-width="0.12">RF+GBM</text>
<text x="573.86" y="503.85" font-size="6.5" text-anchor="start" fill="#1a1a1a" >3</text>
<text x="548.20" y="503.86" font-size="7.1" text-anchor="end" fill="#1e1e1e" stroke="#1e1e1e" stroke-width="0.12">RF+Enet[alpha=0.8]</text>
<text x="573.86" y="510.23" font-size="6.5" text-anchor="start" fill="#1a1a1a" >3</text>
<text x="548.20" y="510.25" font-size="7.1" text-anchor="end" fill="#1e1e1e" stroke="#1e1e1e" stroke-width="0.12">RF+Enet[alpha=0.7]</text>
<text x="573.86" y="516.62" font-size="6.5" text-anchor="start" fill="#1a1a1a" >3</text>
<text x="548.20" y="516.64" font-size="7.1" text-anchor="end" fill="#1e1e1e" stroke="#1e1e1e" stroke-width="0.12">RF+Enet[alpha=0.6]</text>
<text x="573.86" y="523.01" font-size="6.5" text-anchor="start" fill="#1a1a1a" >3</text>
<text x="548.20" y="523.02" font-size="7.1" text-anchor="end" fill="#1e1e1e" stroke="#1e1e1e" stroke-width="0.12">RF+Enet[alpha=0.5]</text>
<text x="573.86" y="529.40" font-size="6.5" text-anchor="start" fill="#1a1a1a" >3</text>
<text x="548.20" y="529.41" font-size="7.1" text-anchor="end" fill="#1e1e1e" stroke="#1e1e1e" stroke-width="0.12">RF+Enet[alpha=0.4]</text>
<text x="573.86" y="535.79" font-size="6.5" text-anchor="start" fill="#1a1a1a" >3</text>
<text x="548.20" y="535.80" font-size="7.1" text-anchor="end" fill="#1e1e1e" stroke="#1e1e1e" stroke-width="0.12">RF+Enet[alpha=0.3]</text>
<text x="573.86" y="542.17" font-size="6.5" text-anchor="start" fill="#1a1a1a" >3</text>
<text x="548.20" y="542.19" font-size="7.1" text-anchor="end" fill="#1e1e1e" stroke="#1e1e1e" stroke-width="0.12">RF+Enet[alpha=0.2]</text>
<text x="573.86" y="548.56" font-size="6.5" text-anchor="start" fill="#1a1a1a" >3</text>
<text x="548.20" y="548.57" font-size="7.1" text-anchor="end" fill="#1e1e1e" stroke="#1e1e1e" stroke-width="0.12">RF+Enet[alpha=0.1]</text>
<text x="573.86" y="554.95" font-size="6.5" text-anchor="start" fill="#1a1a1a" >3</text>
<text x="548.20" y="554.96" font-size="7.1" text-anchor="end" fill="#1e1e1e" stroke="#1e1e1e" stroke-width="0.12">RF</text>
<text x="573.86" y="561.34" font-size="6.5" text-anchor="start" fill="#1a1a1a" >3</text>
<text x="548.20" y="561.35" font-size="7.1" text-anchor="end" fill="#1e1e1e" stroke="#1e1e1e" stroke-width="0.12">Lasso+glmBoost</text>
<text x="573.86" y="567.72" font-size="6.5" text-anchor="start" fill="#1a1a1a" >3</text>
<text x="548.20" y="567.74" font-size="7.1" text-anchor="end" fill="#1e1e1e" stroke="#1e1e1e" stroke-width="0.12">glmBoost+XGBoost</text>
<text x="573.86" y="574.11" font-size="6.5" text-anchor="start" fill="#1a1a1a" >3</text>
<text x="548.20" y="574.12" font-size="7.1" text-anchor="end" fill="#1e1e1e" stroke="#1e1e1e" stroke-width="0.12">glmBoost+SVM</text>
<text x="573.86" y="580.50" font-size="6.5" text-anchor="start" fill="#1a1a1a" >3</text>
<text x="548.20" y="580.51" font-size="7.1" text-anchor="end" fill="#1e1e1e" stroke="#1e1e1e" stroke-width="0.12">glmBoost+Stepglm[forward]</text>
<text x="573.86" y="586.89" font-size="6.5" text-anchor="start" fill="#1a1a1a" >3</text>
<text x="548.20" y="586.90" font-size="7.1" text-anchor="end" fill="#1e1e1e" stroke="#1e1e1e" stroke-width="0.12">glmBoost+Stepglm[both]</text>
<text x="573.86" y="593.27" font-size="6.5" text-anchor="start" fill="#1a1a1a" >3</text>
<text x="548.20" y="593.29" font-size="7.1" text-anchor="end" fill="#1e1e1e" stroke="#1e1e1e" stroke-width="0.12">glmBoost+Stepglm[backward]</text>
<text x="573.86" y="599.66" font-size="6.5" text-anchor="start" fill="#1a1a1a" >3</text>
<text x="548.20" y="599.67" font-size="7.1" text-anchor="end" fill="#1e1e1e" stroke="#1e1e1e" stroke-width="0.12">glmBoost+Ridge</text>
<text x="573.86" y="606.05" font-size="6.5" text-anchor="start" fill="#1a1a1a" >3</text>
<text x="548.20" y="606.06" font-size="7.1" text-anchor="end" fill="#1e1e1e" stroke="#1e1e1e" stroke-width="0.12">glmBoost+RF</text>
<text x="573.86" y="612.44" font-size="6.5" text-anchor="start" fill="#1a1a1a" >3</text>
<text x="548.20" y="612.45" font-size="7.1" text-anchor="end" fill="#1e1e1e" stroke="#1e1e1e" stroke-width="0.12">glmBoost+NaiveBayes</text>
<text x="573.86" y="618.82" font-size="6.5" text-anchor="start" fill="#1a1a1a" >3</text>
<text x="548.20" y="618.84" font-size="7.1" text-anchor="end" fill="#1e1e1e" stroke="#1e1e1e" stroke-width="0.12">glmBoost+LDA</text>
<text x="573.86" y="625.21" font-size="6.5" text-anchor="start" fill="#1a1a1a" >3</text>
<text x="548.20" y="625.22" font-size="7.1" text-anchor="end" fill="#1e1e1e" stroke="#1e1e1e" stroke-width="0.12">glmBoost+Lasso</text>
<text x="573.86" y="631.60" font-size="6.5" text-anchor="start" fill="#1a1a1a" >3</text>
<text x="548.20" y="631.61" font-size="7.1" text-anchor="end" fill="#1e1e1e" stroke="#1e1e1e" stroke-width="0.12">glmBoost+GBM</text>
<text x="573.86" y="637.99" font-size="6.5" text-anchor="start" fill="#1a1a1a" >3</text>
<text x="548.20" y="638.00" font-size="7.1" text-anchor="end" fill="#1e1e1e" stroke="#1e1e1e" stroke-width="0.12">glmBoost+Enet[alpha=0.9]</text>
<text x="573.86" y="644.37" font-size="6.5" text-anchor="start" fill="#1a1a1a" >3</text>
<text x="548.20" y="644.39" font-size="7.1" text-anchor="end" fill="#1e1e1e" stroke="#1e1e1e" stroke-width="0.12">glmBoost+Enet[alpha=0.8]</text>
<text x="573.86" y="650.76" font-size="6.5" text-anchor="start" fill="#1a1a1a" >3</text>
<text x="548.20" y="650.78" font-size="7.1" text-anchor="end" fill="#1e1e1e" stroke="#1e1e1e" stroke-width="0.12">glmBoost+Enet[alpha=0.7]</text>
<text x="573.86" y="657.15" font-size="6.5" text-anchor="start" fill="#1a1a1a" >3</text>
<text x="548.20" y="657.16" font-size="7.1" text-anchor="end" fill="#1e1e1e" stroke="#1e1e1e" stroke-width="0.12">glmBoost+Enet[alpha=0.6]</text>
<text x="573.86" y="663.54" font-size="6.5" text-anchor="start" fill="#1a1a1a" >3</text>
<text x="548.20" y="663.55" font-size="7.1" text-anchor="end" fill="#1e1e1e" stroke="#1e1e1e" stroke-width="0.12">glmBoost+Enet[alpha=0.5]</text>
<text x="573.86" y="669.93" font-size="6.5" text-anchor="start" fill="#1a1a1a" >3</text>
<text x="548.20" y="669.94" font-size="7.1" text-anchor="end" fill="#1e1e1e" stroke="#1e1e1e" stroke-width="0.12">glmBoost+Enet[alpha=0.4]</text>
<text x="573.86" y="676.31" font-size="6.5" text-anchor="start" fill="#1a1a1a" >3</text>
<text x="548.20" y="676.33" font-size="7.1" text-anchor="end" fill="#1e1e1e" stroke="#1e1e1e" stroke-width="0.12">glmBoost+Enet[alpha=0.3]</text>
<text x="573.86" y="682.70" font-size="6.5" text-anchor="start" fill="#1a1a1a" >3</text>
<text x="548.20" y="682.71" font-size="7.1" text-anchor="end" fill="#1e1e1e" stroke="#1e1e1e" stroke-width="0.12">glmBoost+Enet[alpha=0.2]</text>
<text x="573.86" y="689.09" font-size="6.5" text-anchor="start" fill="#1a1a1a" >3</text>
<text x="548.20" y="689.10" font-size="7.1" text-anchor="end" fill="#1e1e1e" stroke="#1e1e1e" stroke-width="0.12">glmBoost+Enet[alpha=0.1]</text>
<text x="573.86" y="695.48" font-size="6.5" text-anchor="start" fill="#1a1a1a" >3</text>
<text x="548.20" y="695.49" font-size="7.1" text-anchor="end" fill="#1e1e1e" stroke="#1e1e1e" stroke-width="0.12">glmBoost</text>
<text x="566.64" y="701.86" font-size="6.5" text-anchor="start" fill="#1a1a1a" >2</text>
<text x="548.20" y="701.88" font-size="7.1" text-anchor="end" fill="#1e1e1e" stroke="#1e1e1e" stroke-width="0.12">RF+Stepglm[both]</text>
<text x="566.64" y="708.25" font-size="6.5" text-anchor="start" fill="#1a1a1a" >2</text>
<text x="548.20" y="708.26" font-size="7.1" text-anchor="end" fill="#1e1e1e" stroke="#1e1e1e" stroke-width="0.12">RF+Stepglm[backward]</text>
<text x="566.64" y="714.64" font-size="6.5" text-anchor="start" fill="#1a1a1a" >2</text>
<text x="548.20" y="714.65" font-size="7.1" text-anchor="end" fill="#1e1e1e" stroke="#1e1e1e" stroke-width="0.12">RF+Lasso</text>
<text x="566.64" y="721.03" font-size="6.5" text-anchor="start" fill="#1a1a1a" >2</text>
<text x="548.20" y="721.04" font-size="7.1" text-anchor="end" fill="#1e1e1e" stroke="#1e1e1e" stroke-width="0.12">RF+glmBoost</text>
<text x="566.64" y="727.41" font-size="6.5" text-anchor="start" fill="#1a1a1a" >2</text>
<text x="548.20" y="727.43" font-size="7.1" text-anchor="end" fill="#1e1e1e" stroke="#1e1e1e" stroke-width="0.12">RF+Enet[alpha=0.9]</text>
<rect x="552.5" y="7.4" width="130.10" height="721.80" fill="none" stroke="#4a4a4a" stroke-width="0.7"/>
<text x="0" y="2.41" font-size="6.8" text-anchor="middle" fill="#444" transform="translate(554.00,733.60) scale(1,1.1)" >0</text>
<text x="0" y="2.41" font-size="6.8" text-anchor="middle" fill="#444" transform="translate(590.10,733.60) scale(1,1.1)" >5</text>
<text x="0" y="2.41" font-size="6.8" text-anchor="middle" fill="#444" transform="translate(626.20,733.60) scale(1,1.1)" >10</text>
<text x="0" y="2.41" font-size="6.8" text-anchor="middle" fill="#444" transform="translate(662.30,733.60) scale(1,1.1)" >15</text>
<text x="0" y="2.48" font-size="7.0" text-anchor="middle" fill="#111" transform="translate(621.00,738.20) scale(1,1.12)" >Freq</text>
<rect x="644.8" y="230" width="38.4" height="132.4" fill="#fff" stroke="#222" stroke-width="0.9"/>
<text x="649.40" y="238.66" font-size="7.2" text-anchor="start" fill="#111" font-weight="bold" >ASPN</text>
<text x="649.40" y="248.70" font-size="7.2" text-anchor="start" fill="#111" font-weight="bold" >BGN</text>
<text x="649.40" y="258.74" font-size="7.2" text-anchor="start" fill="#111" font-weight="bold" >COMP</text>
<text x="649.40" y="268.78" font-size="7.2" text-anchor="start" fill="#111" font-weight="bold" >CTHRC1</text>
<text x="649.40" y="278.82" font-size="7.2" text-anchor="start" fill="#111" font-weight="bold" >FAP</text>
<text x="649.40" y="288.86" font-size="7.2" text-anchor="start" fill="#111" font-weight="bold" >INHBA</text>
<text x="649.40" y="298.90" font-size="7.2" text-anchor="start" fill="#111" font-weight="bold" >ITGBL1</text>
<text x="649.40" y="308.94" font-size="7.2" text-anchor="start" fill="#111" font-weight="bold" >MSR1</text>
<text x="649.40" y="318.98" font-size="7.2" text-anchor="start" fill="#111" font-weight="bold" >NOX4</text>
<text x="649.40" y="329.02" font-size="7.2" text-anchor="start" fill="#111" font-weight="bold" >OLR1</text>
<text x="649.40" y="339.06" font-size="7.2" text-anchor="start" fill="#111" font-weight="bold" >RCN3</text>
<text x="649.40" y="349.10" font-size="7.2" text-anchor="start" fill="#111" font-weight="bold" >SPP1</text>
<text x="649.40" y="359.14" font-size="7.2" text-anchor="start" fill="#111" font-weight="bold" >TREM2</text>
<line x1="651.8" y1="159.7" x2="662.3" y2="220.5" stroke="#111" stroke-width="0.85"/>
<path d="M663.4,226.4 L659.6,219.6 L666.6,218.5 Z" fill="#111"/>
</svg></body></html>
